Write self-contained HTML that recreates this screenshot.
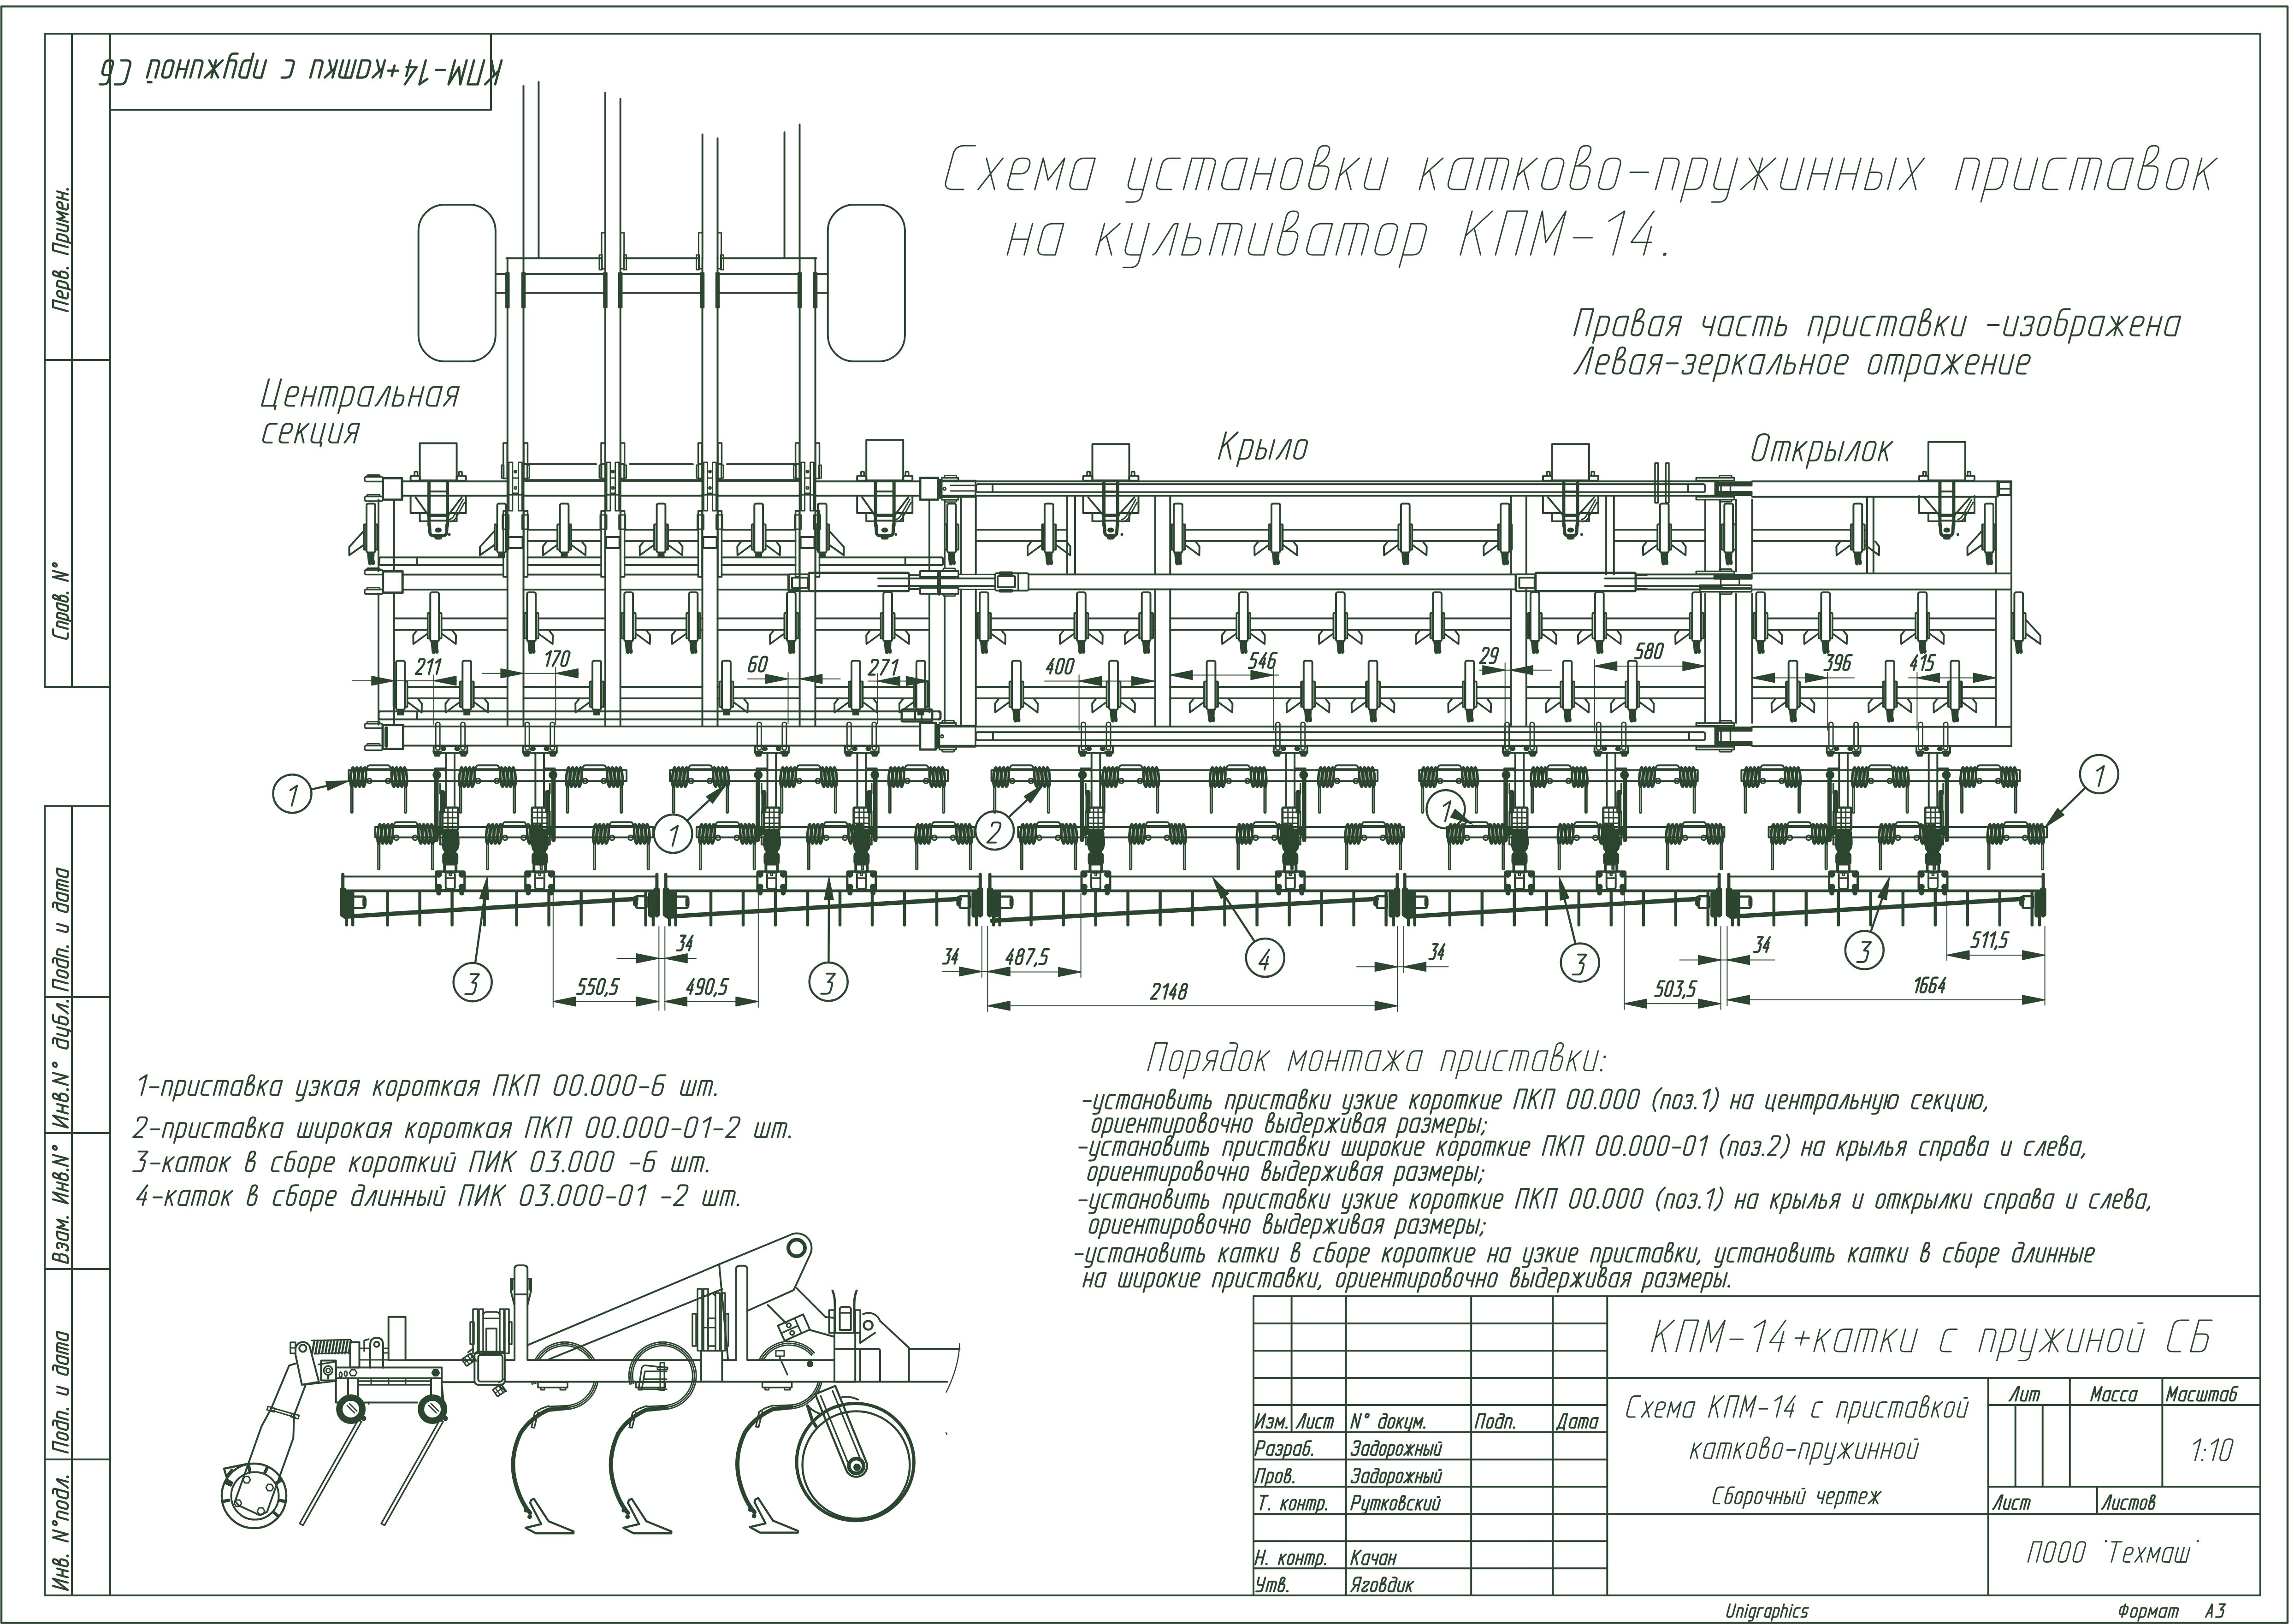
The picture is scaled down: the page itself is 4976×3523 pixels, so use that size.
<!DOCTYPE html>
<html><head><meta charset="utf-8"><title>KPM-14</title>
<style>
html,body{margin:0;padding:0;background:#fff}
svg{display:block}
svg path,svg rect,svg circle,svg ellipse,svg polyline,svg line{fill:none;stroke:#2c452e;stroke-linecap:round;stroke-linejoin:round}
svg defs path[id^=g]{vector-effect:non-scaling-stroke}
svg text{font-family:"Liberation Sans",sans-serif;font-style:italic;fill:#2c452e;stroke:none}
</style></head><body>
<svg width="4976" height="3523" viewBox="0 0 4976 3523">
<defs>
<g id="tb"><rect x="-9.4" y="0" width="18.8" height="106" rx="3.5" stroke-width="4"/><rect x="-15" y="45" width="4.6" height="55" rx="1.5" stroke-width="3.8"/><rect x="10.4" y="45" width="4.6" height="55" rx="1.5" stroke-width="3.8"/></g>
<path id="tt" d="M-7 106L6.5 106L6 121L7.5 128Q7.5 132 4 131.5L1.5 129.5L-1 132.5Q-4.5 132.5 -5 127.5Z" style="fill:#2c452e" stroke-width="3"/>
<path id="ts" d="M-6 106L6 106L6 117L-6 117Z" style="fill:#2c452e" stroke-width="3"/>
<path id="wl" d="M-38 82L-46.4 93L-46 112L-16 90" stroke-width="4"/>
<path id="wr" d="M38 82L46.4 93L46 112L16 90" stroke-width="4"/>
<path id="wlf" d="M-16 60L-47 94L-47 112L-16 90" stroke-width="4"/>
<path id="wrf" d="M16 60L47 94L47 112L16 90" stroke-width="4"/>
<g id="su"><ellipse cx="-31.5" cy="15" rx="3.6" ry="21" stroke-width="5.5" transform="rotate(4 -31.5 15)"/><ellipse cx="-40.1" cy="15" rx="3.6" ry="21" stroke-width="5.5" transform="rotate(4 -40.1 15)"/><ellipse cx="-48.7" cy="15" rx="3.6" ry="21" stroke-width="5.5" transform="rotate(4 -48.7 15)"/><ellipse cx="-57.3" cy="15" rx="3.6" ry="21" stroke-width="5.5" transform="rotate(4 -57.3 15)"/><ellipse cx="31.5" cy="15" rx="3.6" ry="21" stroke-width="5.5" transform="rotate(-4 31.5 15)"/><ellipse cx="40.1" cy="15" rx="3.6" ry="21" stroke-width="5.5" transform="rotate(-4 40.1 15)"/><ellipse cx="48.7" cy="15" rx="3.6" ry="21" stroke-width="5.5" transform="rotate(-4 48.7 15)"/><ellipse cx="57.3" cy="15" rx="3.6" ry="21" stroke-width="5.5" transform="rotate(-4 57.3 15)"/><rect x="-60.2" y="24" width="3.8" height="68.5" rx="1.9" stroke-width="3.2"/><rect x="56.4" y="24" width="3.8" height="68.5" rx="1.9" stroke-width="3.2"/><path d="M-28 -1L-23 -9.5Q-22 -10.5 -20 -10.5L20 -10.5Q22 -10.5 23 -9.5L28 -1" stroke-width="4"/><path d="M-24 -2.5L24 -2.5" stroke-width="3.5"/><circle cx="-20.3" cy="23.4" r="5.2" stroke-width="3.5"/><circle cx="20.3" cy="23.4" r="5.2" stroke-width="3.5"/></g>
<path id="g22" d="M0.55 -14.25l0.5 0l0 -0.5l-0.5 0Z"/>
<path id="g28" d="M3 -15L1.5 -13Q0 -11 0 -8.5L0 -4.5Q0 -2 1.5 0L3 2"/>
<path id="g29" d="M0 -15L1.5 -13Q3 -11 3 -8.5L3 -4.5Q3 -2 1.5 0L0 2"/>
<path id="g2b" d="M0 -6L6 -6M3 -3L3 -9"/>
<path id="g2c" d="M1 -0.8L1 -0.4Q1 0 0.82 0.36L0 2"/>
<path id="g2d" d="M0 -5.5L5.5 -5.5"/>
<path id="g2e" d="M0.25 0.04999999999999999l0.5 0l0 -0.5l-0.5 0Z"/>
<path id="g30" d="M2.7 0L3.3 0Q6 0 6 -2.7L6 -11.3Q6 -14 3.3 -14L2.7 -14Q0 -14 0 -11.3L0 -2.7Q0 0 2.7 0Z"/>
<path id="g31" d="M0 -10.8L3.9 -14L3.9 0"/>
<path id="g32" d="M0 -11.5L0 -12.75Q0 -14 1.25 -14L3.75 -14Q6 -14 6 -11.75L6 -10.5Q6 -8.5 4.85 -6.87L0 0L6 0"/>
<path id="g33" d="M0 -14L5.7 -14Q6 -14 5.85 -13.74L2.72 -8.26Q2.57 -8 2.87 -8L4.29 -8Q6 -8 6 -6.29L6 -2.25Q6 0 3.75 0L0 0"/>
<path id="g34" d="M4.29 -14L0 -4L6 -4M4.71 -9L4.71 0"/>
<path id="g35" d="M6 -14L1.06 -14Q0.86 -14 0.83 -13.8L0.03 -8.2Q0 -8 0.2 -8L3.75 -8Q6 -8 6 -5.75L6 -2.25Q6 0 3.75 0L0 0"/>
<path id="g36" d="M5.57 -14L2.25 -14Q0 -14 0 -11.75L0 -2.25Q0 0 2.25 0L3.75 0Q6 0 6 -2.25L6 -5.75Q6 -8 3.75 -8L0 -8"/>
<path id="g37" d="M0 -14L5.7 -14Q6 -14 5.91 -13.71L1.71 0"/>
<path id="g38" d="M2.68 -8L3.32 -8Q5.57 -8 5.57 -10.25L5.57 -11.75Q5.57 -14 3.32 -14L2.68 -14Q0.43 -14 0.43 -11.75L0.43 -10.25Q0.43 -8 2.68 -8ZM2.25 0L3.75 0Q6 0 6 -2.25L6 -5.75Q6 -8 3.75 -8L2.25 -8Q0 -8 0 -5.75L0 -2.25Q0 0 2.25 0Z"/>
<path id="g39" d="M0.43 0L3.75 0Q6 0 6 -2.25L6 -11.75Q6 -14 3.75 -14L2.25 -14Q0 -14 0 -11.75L0 -8.25Q0 -6 2.25 -6L6 -6"/>
<path id="g3a" d="M0.25 0.04999999999999999l0.5 0l0 -0.5l-0.5 0ZM0.25 -6.75l0.5 0l0 -0.5l-0.5 0Z"/>
<path id="g3b" d="M1 -0.8L1 -0.4Q1 0 0.82 0.36L0 2M0.75 -6.75l0.5 0l0 -0.5l-0.5 0Z"/>
<path id="g4e" d="M0 0L0 -14L6 0L6 -14"/>
<path id="g55" d="M0 -14L0 -2.7Q0 0 2.7 0L3.3 0Q6 0 6 -2.7L6 -14"/>
<path id="g61" d="M5 -10L2.19 -10Q0 -10 0 -7.81L0 -2.19Q0 0 2.19 0L5 0M5 -10L5 0"/>
<path id="g63" d="M5 -10L2.19 -10Q0 -10 0 -7.81L0 -2.19Q0 0 2.19 0L5 0"/>
<path id="g67" d="M5 -10L2.19 -10Q0 -10 0 -7.81L0 -2.19Q0 0 2.19 0L5 0M5 -10L5 1.92Q5 4 2.92 4L0.83 4"/>
<path id="g68" d="M0 0L0 -14M0 -10L2.81 -10Q5 -10 5 -7.81L5 0"/>
<path id="g69" d="M0.42 0L0.42 -10M0.25 -12.75l0.5 0l0 -0.5l-0.5 0Z"/>
<path id="g6e" d="M0 0L0 -10L2.81 -10Q5 -10 5 -7.81L5 0"/>
<path id="g70" d="M0 4L0 -10L2.81 -10Q5 -10 5 -7.81L5 -2.19Q5 0 2.81 0L0 0"/>
<path id="g72" d="M0 0L0 -10M0 -7.5L0 -8.75Q0 -10 1.25 -10L4.17 -10"/>
<path id="g73" d="M5 -10L1.75 -10Q0 -10 0 -8.25L0 -6.75Q0 -5 1.75 -5L3.25 -5Q5 -5 5 -3.25L5 -1.75Q5 0 3.25 0L0 0"/>
<path id="gb0" d="M2 -10.5L2 -10.5Q3.5 -10.5 3.5 -12L3.5 -12.5Q3.5 -14 2 -14L2 -14Q0.5 -14 0.5 -12.5L0.5 -12Q0.5 -10.5 2 -10.5Z"/>
<path id="g410" d="M0 0L3 -14L6 0M1.03 -4.5L4.97 -4.5"/>
<path id="g411" d="M5.57 -14L0 -14L0 0L3.75 0Q6 0 6 -2.25L6 -5.55Q6 -7.8 3.75 -7.8L0 -7.8"/>
<path id="g412" d="M0 -7.8L3.75 -7.8Q6 -7.8 6 -5.55L6 -2.25Q6 0 3.75 0L0 0L0 -14L2.77 -14Q4.97 -14 4.97 -11.8L4.97 -7.8"/>
<path id="g414" d="M0 2L0 0L7 0L7 2M0.88 0L2.62 -14L6.12 -14L6.12 0"/>
<path id="g417" d="M0 -12L0 -13Q0 -14 1 -14L3.75 -14Q6 -14 6 -11.75L6 -9.73Q6 -7.8 4.07 -7.8L2.14 -7.8M2.14 -7.8L4.07 -7.8Q6 -7.8 6 -5.87L6 -2.25Q6 0 3.75 0L1 0Q0 0 0 -1L0 -2"/>
<path id="g418" d="M0 -14L0 0L6 -14L6 0"/>
<path id="g41a" d="M0 0L0 -14M6 -14L0 -6M1.97 -8.6L6 0"/>
<path id="g41b" d="M0 0L0.43 -0.4Q0.86 -0.8 1.02 -1.36L4.44 -13.34Q4.63 -14 5.31 -14L6 -14L6 0"/>
<path id="g41c" d="M0 0L0 -14L3.5 -4L7 -14L7 0"/>
<path id="g41d" d="M0 0L0 -14M6 0L6 -14M0 -7L6 -7"/>
<path id="g41e" d="M2.7 0L3.3 0Q6 0 6 -2.7L6 -11.3Q6 -14 3.3 -14L2.7 -14Q0 -14 0 -11.3L0 -2.7Q0 0 2.7 0Z"/>
<path id="g41f" d="M0 0L0 -14L6 -14L6 0"/>
<path id="g420" d="M0 0L0 -14L3.75 -14Q6 -14 6 -11.75L6 -8.75Q6 -6.5 3.75 -6.5L0 -6.5"/>
<path id="g421" d="M6 -14L2.7 -14Q0 -14 0 -11.3L0 -2.7Q0 0 2.7 0L6 0"/>
<path id="g422" d="M0 -14L7 -14M3.5 -14L3.5 0"/>
<path id="g423" d="M0 -14L0 -8.75Q0 -6.5 2.25 -6.5L6 -6.5M6 -14L6 -2.25Q6 0 3.75 0L0.86 0"/>
<path id="g424" d="M3.5 0L3.5 -14M2.3 -3L4.7 -3Q7 -3 7 -5.3L7 -9.2Q7 -11.5 4.7 -11.5L2.3 -11.5Q0 -11.5 0 -9.2L0 -5.3Q0 -3 2.3 -3Z"/>
<path id="g426" d="M0 -14L0 0L7 0L7 2M6.12 -14L6.12 0"/>
<path id="g42f" d="M6 -6.5L2.25 -6.5Q0 -6.5 0 -8.75L0 -11.75Q0 -14 2.25 -14L6 -14M6 -14L6 0M3 -6.5L0 0"/>
<path id="g430" d="M5.6 -10L2.45 -10Q0 -10 0 -7.55L0 -2.45Q0 0 2.45 0L5.6 0M5.6 -10L5.6 0"/>
<path id="g431" d="M4.58 -14L2.19 -14Q0 -14 0 -11.81L0 -2.19Q0 0 2.19 0L2.81 0Q5 0 5 -2.19L5 -6.31Q5 -8.5 2.81 -8.5L0 -8.5"/>
<path id="g432" d="M0 -7.5L2.81 -7.5Q5 -7.5 5 -5.31L5 -2.19Q5 0 2.81 0L2.19 0Q0 0 0 -2.19L0 -12.25Q0 -14 1.75 -14L1.75 -14Q3.5 -14 3.5 -12.25L3.5 -11.8Q3.5 -10 2.19 -8.77L0.83 -7.5"/>
<path id="g433" d="M0 -8L0 -9Q0 -10 1 -10L3.33 -10Q4.58 -10 4.58 -8.75L4.58 -8.5Q4.58 -7.5 3.91 -6.76L0.68 -3.24Q0 -2.5 0 -1.5L0 -1.25Q0 0 1.25 0L3.58 0Q4.58 0 4.58 -1L4.58 -2"/>
<path id="g434" d="M5.6 -10L2.45 -10Q0 -10 0 -7.55L0 -2.45Q0 0 2.45 0L5.6 0M5.6 0L5.6 -11.9Q5.6 -14 3.5 -14L1.4 -14"/>
<path id="g435" d="M0 -5L2.81 -5Q5 -5 5 -7.19L5 -7.81Q5 -10 2.81 -10L2.19 -10Q0 -10 0 -7.81L0 -2.19Q0 0 2.19 0L5 0"/>
<path id="g436" d="M0 -10L4 -5L0 0M8 -10L4 -5L8 0M4 0L4 -10"/>
<path id="g437" d="M0 -8.5L0 -9.25Q0 -10 0.75 -10L2.83 -10Q4.58 -10 4.58 -8.25L4.58 -6.76Q4.58 -5.3 3.13 -5.3L1.67 -5.3M1.67 -5.3L3.13 -5.3Q4.58 -5.3 4.58 -3.84L4.58 -1.75Q4.58 0 2.83 0L0.75 0Q0 0 0 -0.75L0 -1.5"/>
<path id="g438" d="M0 -10L0 -2.19Q0 0 2.19 0L5 0M5 -10L5 0"/>
<path id="g439" d="M0 -10L0 -2.19Q0 0 2.19 0L5 0M5 -10L5 0M1.67 -12.7L3.75 -12.7"/>
<path id="g43a" d="M0 0L0 -10M4.58 -10L0 -4.3M1.5 -6.2L4.58 0"/>
<path id="g43b" d="M0 0L0.33 -0.3Q0.67 -0.6 0.81 -1.02L3.65 -9.45Q3.83 -10 4.42 -10L5 -10L5 0"/>
<path id="g43c" d="M0 0L0 -10L3.25 -3L6.5 -10L6.5 0"/>
<path id="g43d" d="M0 0L0 -10M5 0L5 -10M0 -5L5 -5"/>
<path id="g43e" d="M2.19 0L2.81 0Q5 0 5 -2.19L5 -7.81Q5 -10 2.81 -10L2.19 -10Q0 -10 0 -7.81L0 -2.19Q0 0 2.19 0Z"/>
<path id="g43f" d="M0 0L0 -10L2.81 -10Q5 -10 5 -7.81L5 0"/>
<path id="g440" d="M0 4L0 -10L2.81 -10Q5 -10 5 -7.81L5 -2.19Q5 0 2.81 0L0 0"/>
<path id="g441" d="M5 -10L2.19 -10Q0 -10 0 -7.81L0 -2.19Q0 0 2.19 0L5 0"/>
<path id="g442" d="M0 0L0 -10L5.5 -10Q7.5 -10 7.5 -8L7.5 0M3.75 -10L3.75 0"/>
<path id="g443" d="M0 -10L0 -2.19Q0 0 2.19 0L5 0M5 -10L5 1.92Q5 4 2.92 4L0.83 4"/>
<path id="g445" d="M0 0L5 -10M0 -10L5 0"/>
<path id="g446" d="M0 -10L0 -2.19Q0 0 2.19 0L5.83 0L5.83 2M5 -10L5 0"/>
<path id="g447" d="M0 -10L0 -6.69Q0 -4.5 2.19 -4.5L5 -4.5M5 -10L5 0"/>
<path id="g448" d="M0 -10L0 -2Q0 0 2 0L8 0L8 -10M4 -10L4 0"/>
<path id="g44b" d="M0 -10L0 0L2.23 0Q4.18 0 4.18 -1.95L4.18 -3.55Q4.18 -5.5 2.23 -5.5L0 -5.5M6.96 -10L6.96 0"/>
<path id="g44c" d="M0 -10L0 0L2.83 0Q4.58 0 4.58 -1.75L4.58 -3.75Q4.58 -5.5 2.83 -5.5L0 -5.5"/>
<path id="g44e" d="M0 0L0 -10M0 -5L2.5 -5M5 0L6 0Q8.5 0 8.5 -2.5L8.5 -7.5Q8.5 -10 6 -10L5 -10Q2.5 -10 2.5 -7.5L2.5 -2.5Q2.5 0 5 0Z"/>
<path id="g44f" d="M5 -5L2.44 -5Q0.25 -5 0.25 -7.19L0.25 -7.81Q0.25 -10 2.44 -10L5 -10M5 -10L5 0M2.5 -5L0 0"/>
</defs>
<rect x="3" y="14" width="4959" height="3506.5" stroke-width="4.5"/>
<path d="M97 73L4903 73" stroke-width="4"/>
<path d="M97 3461L4903 3461" stroke-width="4"/>
<path d="M4903 73L4903 3461" stroke-width="4"/>
<path d="M97 73L97 1490" stroke-width="4"/>
<path d="M97 1749L97 3461" stroke-width="4"/>
<path d="M239 73L239 3461" stroke-width="4"/>
<path d="M156 73L156 1490" stroke-width="4"/>
<path d="M97 781L239 781" stroke-width="4"/>
<path d="M97 1490L239 1490" stroke-width="4"/>
<path d="M156 1749L156 3461" stroke-width="4"/>
<path d="M97 1749L239 1749" stroke-width="4"/>
<path d="M97 2163L239 2163" stroke-width="4"/>
<path d="M97 2458L239 2458" stroke-width="4"/>
<path d="M97 2753L239 2753" stroke-width="4"/>
<path d="M97 3166L239 3166" stroke-width="4"/>
<path d="M239 238L1065 238" stroke-width="4"/>
<path d="M1065 73L1065 238" stroke-width="4"/>
<path d="M2719 2812L4903 2812" stroke-width="4"/>
<path d="M2719 2812L2719 3461" stroke-width="4"/>
<path d="M2801.6 2812L2801.6 3107.1" stroke-width="4"/>
<path d="M2919.7 2812L2919.7 3461" stroke-width="4"/>
<path d="M3191.2 2812L3191.2 3461" stroke-width="4"/>
<path d="M3368.3 2812L3368.3 3461" stroke-width="4"/>
<path d="M3486.3 2812L3486.3 3461" stroke-width="4"/>
<path d="M2719 2871L3486.3 2871" stroke-width="4"/>
<path d="M2719 2930.1L3486.3 2930.1" stroke-width="4"/>
<path d="M2719 2989.1L3486.3 2989.1" stroke-width="4"/>
<path d="M2719 3048.1L3486.3 3048.1" stroke-width="4"/>
<path d="M2719 3107.1L3486.3 3107.1" stroke-width="4"/>
<path d="M2719 3166.2L3486.3 3166.2" stroke-width="4"/>
<path d="M2719 3225.2L3486.3 3225.2" stroke-width="4"/>
<path d="M2719 3284.2L3486.3 3284.2" stroke-width="4"/>
<path d="M2719 3343.2L3486.3 3343.2" stroke-width="4"/>
<path d="M2719 3402.2L3486.3 3402.2" stroke-width="4"/>
<path d="M4312.7 2989.1L4312.7 3461" stroke-width="4"/>
<path d="M3486.3 2989.1L4903 2989.1" stroke-width="4"/>
<path d="M3486.3 3284.2L4903 3284.2" stroke-width="4"/>
<path d="M4312.7 3048.1L4903 3048.1" stroke-width="4"/>
<path d="M4312.7 3225.2L4903 3225.2" stroke-width="4"/>
<path d="M4371.7 3048.1L4371.7 3225.2" stroke-width="4"/>
<path d="M4430.7 3048.1L4430.7 3225.2" stroke-width="4"/>
<path d="M4489.8 2989.1L4489.8 3225.2" stroke-width="4"/>
<path d="M4690.4 2989.1L4690.4 3225.2" stroke-width="4"/>
<path d="M4548.8 3225.2L4548.8 3284.2" stroke-width="4"/>
<g class="t" transform="translate(1088 131) rotate(180) matrix(3.6375 0 -0.9954 3.7143 0 0)" stroke-width="5"><use href="#g41a" x="0"/><use href="#g41f" x="10.4"/><use href="#g41c" x="20.8"/><use href="#g2d" x="32.2"/><use href="#g31" x="41.3"/><use href="#g34" x="49.6"/><use href="#g2b" x="60"/><use href="#g43a" x="69.6"/><use href="#g430" x="77.8"/><use href="#g442" x="87"/><use href="#g43a" x="98.1"/><use href="#g438" x="106.3"/><use href="#g441" x="123.4"/><use href="#g43f" x="140.5"/><use href="#g440" x="149.1"/><use href="#g443" x="157.7"/><use href="#g436" x="166.3"/><use href="#g438" x="177.9"/><use href="#g43d" x="186.5"/><use href="#g43e" x="195.1"/><use href="#g439" x="203.7"/><use href="#g421" x="220.8"/><use href="#g431" x="231.2"/></g>
<g class="t" transform="matrix(7.1659 0 -1.8186 6.7857 2047 411)" stroke-width="3"><use href="#g421" x="0"/><use href="#g445" x="10.4"/><use href="#g435" x="19"/><use href="#g43c" x="27.6"/><use href="#g430" x="37.7"/><use href="#g443" x="55.4"/><use href="#g441" x="64"/><use href="#g442" x="72.6"/><use href="#g430" x="83.7"/><use href="#g43d" x="92.9"/><use href="#g43e" x="101.5"/><use href="#g432" x="110.1"/><use href="#g43a" x="118.7"/><use href="#g438" x="126.9"/><use href="#g43a" x="144"/><use href="#g430" x="152.2"/><use href="#g442" x="161.4"/><use href="#g43a" x="172.5"/><use href="#g43e" x="180.6"/><use href="#g432" x="189.2"/><use href="#g43e" x="197.8"/><use href="#g2d" x="206.4"/><use href="#g43f" x="215.5"/><use href="#g440" x="224.1"/><use href="#g443" x="232.7"/><use href="#g436" x="241.3"/><use href="#g438" x="252.9"/><use href="#g43d" x="261.5"/><use href="#g43d" x="270.1"/><use href="#g44b" x="278.8"/><use href="#g445" x="289.3"/><use href="#g43f" x="306.4"/><use href="#g440" x="315"/><use href="#g438" x="323.6"/><use href="#g441" x="332.2"/><use href="#g442" x="340.8"/><use href="#g430" x="351.9"/><use href="#g432" x="361.1"/><use href="#g43e" x="369.7"/><use href="#g43a" x="378.3"/></g>
<g class="t" transform="matrix(7.3229 0 -1.8186 6.7857 2185 553)" stroke-width="3"><use href="#g43d" x="0"/><use href="#g430" x="8.6"/><use href="#g43a" x="26.3"/><use href="#g443" x="34.5"/><use href="#g43b" x="43.1"/><use href="#g44c" x="51.7"/><use href="#g442" x="59.9"/><use href="#g438" x="71"/><use href="#g432" x="79.6"/><use href="#g430" x="88.2"/><use href="#g442" x="97.4"/><use href="#g43e" x="108.5"/><use href="#g440" x="117.1"/><use href="#g41a" x="134.2"/><use href="#g41f" x="144.6"/><use href="#g41c" x="155"/><use href="#g2d" x="166.4"/><use href="#g31" x="175.5"/><use href="#g34" x="183.8"/><use href="#g2e" x="194.2"/></g>
<g class="t" transform="matrix(4.3270 0 -1.0911 4.0714 3415 727.5)" stroke-width="4"><use href="#g41f" x="0"/><use href="#g440" x="10.4"/><use href="#g430" x="19"/><use href="#g432" x="28.2"/><use href="#g430" x="36.8"/><use href="#g44f" x="46"/><use href="#g447" x="63.1"/><use href="#g430" x="71.7"/><use href="#g441" x="80.9"/><use href="#g442" x="89.5"/><use href="#g44c" x="100.6"/><use href="#g43f" x="117.3"/><use href="#g440" x="125.9"/><use href="#g438" x="134.5"/><use href="#g441" x="143.1"/><use href="#g442" x="151.7"/><use href="#g430" x="162.8"/><use href="#g432" x="172"/><use href="#g43a" x="180.6"/><use href="#g438" x="188.8"/><use href="#g2d" x="205.9"/><use href="#g438" x="215"/><use href="#g437" x="223.6"/><use href="#g43e" x="231.7"/><use href="#g431" x="240.3"/><use href="#g440" x="248.9"/><use href="#g430" x="257.5"/><use href="#g436" x="266.7"/><use href="#g435" x="278.3"/><use href="#g43d" x="286.9"/><use href="#g430" x="295.6"/></g>
<g class="t" transform="matrix(4.2895 0 -1.0911 4.0714 3415 810.6)" stroke-width="4"><use href="#g41b" x="0"/><use href="#g435" x="10.4"/><use href="#g432" x="19"/><use href="#g430" x="27.6"/><use href="#g44f" x="36.8"/><use href="#g2d" x="45.4"/><use href="#g437" x="54.5"/><use href="#g435" x="62.7"/><use href="#g440" x="71.3"/><use href="#g43a" x="79.9"/><use href="#g430" x="88.1"/><use href="#g43b" x="97.3"/><use href="#g44c" x="105.9"/><use href="#g43d" x="114"/><use href="#g43e" x="122.6"/><use href="#g435" x="131.2"/><use href="#g43e" x="148.3"/><use href="#g442" x="156.9"/><use href="#g440" x="168"/><use href="#g430" x="176.6"/><use href="#g436" x="185.8"/><use href="#g435" x="197.4"/><use href="#g43d" x="206"/><use href="#g438" x="214.6"/><use href="#g435" x="223.2"/></g>
<g class="t" transform="matrix(4.2185 0 -1.0911 4.0714 2644 995)" stroke-width="4"><use href="#g41a" x="0"/><use href="#g440" x="10.4"/><use href="#g44b" x="19"/><use href="#g43b" x="29.6"/><use href="#g43e" x="38.2"/></g>
<g class="t" transform="matrix(4.1779 0 -1.0911 4.0714 3799 999)" stroke-width="4"><use href="#g41e" x="0"/><use href="#g442" x="10.4"/><use href="#g43a" x="21.5"/><use href="#g440" x="29.7"/><use href="#g44b" x="38.3"/><use href="#g43b" x="48.8"/><use href="#g43e" x="57.4"/><use href="#g43a" x="66"/></g>
<g class="t" transform="matrix(4.2859 0 -1.0911 4.0714 568 880)" stroke-width="4"><use href="#g426" x="0"/><use href="#g435" x="11.4"/><use href="#g43d" x="20"/><use href="#g442" x="28.6"/><use href="#g440" x="39.7"/><use href="#g430" x="48.3"/><use href="#g43b" x="57.5"/><use href="#g44c" x="66.1"/><use href="#g43d" x="74.3"/><use href="#g430" x="82.9"/><use href="#g44f" x="92.1"/></g>
<g class="t" transform="matrix(4.1120 0 -1.0911 4.0714 569 960)" stroke-width="4"><use href="#g441" x="0"/><use href="#g435" x="8.6"/><use href="#g43a" x="17.2"/><use href="#g446" x="25.4"/><use href="#g438" x="34.8"/><use href="#g44f" x="43.4"/></g>
<g class="t" transform="matrix(3.2721 0 -0.8231 3.0714 294 2375.4)" stroke-width="4"><use href="#g31" x="0"/><use href="#g2d" x="8.3"/><use href="#g43f" x="17.4"/><use href="#g440" x="26"/><use href="#g438" x="34.6"/><use href="#g441" x="43.2"/><use href="#g442" x="51.8"/><use href="#g430" x="62.9"/><use href="#g432" x="72.1"/><use href="#g43a" x="80.7"/><use href="#g430" x="88.9"/><use href="#g443" x="106.6"/><use href="#g437" x="115.2"/><use href="#g43a" x="123.4"/><use href="#g430" x="131.6"/><use href="#g44f" x="140.8"/><use href="#g43a" x="157.8"/><use href="#g43e" x="166"/><use href="#g440" x="174.6"/><use href="#g43e" x="183.2"/><use href="#g442" x="191.8"/><use href="#g43a" x="202.9"/><use href="#g430" x="211.1"/><use href="#g44f" x="220.3"/><use href="#g41f" x="237.4"/><use href="#g41a" x="247.8"/><use href="#g41f" x="258.2"/><use href="#g30" x="277.1"/><use href="#g30" x="287.5"/><use href="#g2e" x="297.9"/><use href="#g30" x="301.9"/><use href="#g30" x="312.3"/><use href="#g30" x="322.7"/><use href="#g2d" x="333.1"/><use href="#g36" x="342.2"/><use href="#g448" x="361.1"/><use href="#g442" x="372.7"/><use href="#g2e" x="383.8"/></g>
<g class="t" transform="matrix(3.2738 0 -0.8231 3.0714 289 2467)" stroke-width="4"><use href="#g32" x="0"/><use href="#g2d" x="10.4"/><use href="#g43f" x="19.5"/><use href="#g440" x="28.1"/><use href="#g438" x="36.7"/><use href="#g441" x="45.3"/><use href="#g442" x="53.9"/><use href="#g430" x="65"/><use href="#g432" x="74.2"/><use href="#g43a" x="82.8"/><use href="#g430" x="91"/><use href="#g448" x="108.7"/><use href="#g438" x="120.3"/><use href="#g440" x="128.9"/><use href="#g43e" x="137.5"/><use href="#g43a" x="146.1"/><use href="#g430" x="154.3"/><use href="#g44f" x="163.5"/><use href="#g43a" x="180.6"/><use href="#g43e" x="188.7"/><use href="#g440" x="197.3"/><use href="#g43e" x="205.9"/><use href="#g442" x="214.5"/><use href="#g43a" x="225.6"/><use href="#g430" x="233.8"/><use href="#g44f" x="243"/><use href="#g41f" x="260.1"/><use href="#g41a" x="270.5"/><use href="#g41f" x="280.9"/><use href="#g30" x="299.8"/><use href="#g30" x="310.2"/><use href="#g2e" x="320.6"/><use href="#g30" x="324.6"/><use href="#g30" x="335"/><use href="#g30" x="345.4"/><use href="#g2d" x="355.8"/><use href="#g30" x="364.9"/><use href="#g31" x="375.3"/><use href="#g2d" x="383.6"/><use href="#g32" x="392.7"/><use href="#g448" x="411.6"/><use href="#g442" x="423.2"/><use href="#g2e" x="434.3"/></g>
<g class="t" transform="matrix(3.3078 0 -0.8231 3.0714 289 2541)" stroke-width="4"><use href="#g33" x="0"/><use href="#g2d" x="10.4"/><use href="#g43a" x="19.5"/><use href="#g430" x="27.7"/><use href="#g442" x="36.9"/><use href="#g43e" x="48"/><use href="#g43a" x="56.6"/><use href="#g432" x="73.3"/><use href="#g441" x="90.4"/><use href="#g431" x="99"/><use href="#g43e" x="107.6"/><use href="#g440" x="116.2"/><use href="#g435" x="124.8"/><use href="#g43a" x="141.9"/><use href="#g43e" x="150"/><use href="#g440" x="158.6"/><use href="#g43e" x="167.2"/><use href="#g442" x="175.8"/><use href="#g43a" x="186.9"/><use href="#g438" x="195.1"/><use href="#g439" x="203.7"/><use href="#g41f" x="220.8"/><use href="#g418" x="231.2"/><use href="#g41a" x="241.6"/><use href="#g30" x="260.5"/><use href="#g33" x="270.9"/><use href="#g2e" x="281.3"/><use href="#g30" x="285.3"/><use href="#g30" x="295.7"/><use href="#g30" x="306.1"/><use href="#g2d" x="325"/><use href="#g36" x="334.1"/><use href="#g448" x="353"/><use href="#g442" x="364.6"/><use href="#g2e" x="375.7"/></g>
<g class="t" transform="matrix(3.2966 0 -0.8231 3.0714 294 2614.3)" stroke-width="4"><use href="#g34" x="0"/><use href="#g2d" x="10.4"/><use href="#g43a" x="19.5"/><use href="#g430" x="27.7"/><use href="#g442" x="36.9"/><use href="#g43e" x="48"/><use href="#g43a" x="56.6"/><use href="#g432" x="73.3"/><use href="#g441" x="90.4"/><use href="#g431" x="99"/><use href="#g43e" x="107.6"/><use href="#g440" x="116.2"/><use href="#g435" x="124.8"/><use href="#g434" x="141.9"/><use href="#g43b" x="151.1"/><use href="#g438" x="159.7"/><use href="#g43d" x="168.3"/><use href="#g43d" x="176.9"/><use href="#g44b" x="185.5"/><use href="#g439" x="196"/><use href="#g41f" x="213.1"/><use href="#g418" x="223.5"/><use href="#g41a" x="233.9"/><use href="#g30" x="252.8"/><use href="#g33" x="263.2"/><use href="#g2e" x="273.6"/><use href="#g30" x="277.6"/><use href="#g30" x="288"/><use href="#g30" x="298.4"/><use href="#g2d" x="308.8"/><use href="#g30" x="317.9"/><use href="#g31" x="328.3"/><use href="#g2d" x="345.1"/><use href="#g32" x="354.2"/><use href="#g448" x="373.1"/><use href="#g442" x="384.7"/><use href="#g2e" x="395.8"/></g>
<g class="t" transform="matrix(4.3069 0 -1.1486 4.2857 2490 2322.6)" stroke-width="3"><use href="#g41f" x="0"/><use href="#g43e" x="10.4"/><use href="#g440" x="19"/><use href="#g44f" x="27.6"/><use href="#g434" x="36.2"/><use href="#g43e" x="45.4"/><use href="#g43a" x="54"/><use href="#g43c" x="70.7"/><use href="#g43e" x="80.8"/><use href="#g43d" x="89.4"/><use href="#g442" x="98"/><use href="#g430" x="109.1"/><use href="#g436" x="118.3"/><use href="#g430" x="129.9"/><use href="#g43f" x="147.6"/><use href="#g440" x="156.2"/><use href="#g438" x="164.8"/><use href="#g441" x="173.4"/><use href="#g442" x="182"/><use href="#g430" x="193.1"/><use href="#g432" x="202.3"/><use href="#g43a" x="210.9"/><use href="#g438" x="219.1"/><use href="#g3a" x="227.7"/></g>
<g class="t" transform="matrix(2.8701 0 -0.7849 2.9286 2346 2404.4)" stroke-width="4"><use href="#g2d" x="0"/><use href="#g443" x="9.1"/><use href="#g441" x="17.7"/><use href="#g442" x="26.3"/><use href="#g430" x="37.4"/><use href="#g43d" x="46.6"/><use href="#g43e" x="55.2"/><use href="#g432" x="63.8"/><use href="#g438" x="72.4"/><use href="#g442" x="81"/><use href="#g44c" x="92.1"/><use href="#g43f" x="108.8"/><use href="#g440" x="117.4"/><use href="#g438" x="126"/><use href="#g441" x="134.6"/><use href="#g442" x="143.2"/><use href="#g430" x="154.3"/><use href="#g432" x="163.5"/><use href="#g43a" x="172.1"/><use href="#g438" x="180.3"/><use href="#g443" x="197.4"/><use href="#g437" x="206"/><use href="#g43a" x="214.1"/><use href="#g438" x="222.3"/><use href="#g435" x="230.9"/><use href="#g43a" x="248"/><use href="#g43e" x="256.2"/><use href="#g440" x="264.8"/><use href="#g43e" x="273.4"/><use href="#g442" x="282"/><use href="#g43a" x="293.1"/><use href="#g438" x="301.3"/><use href="#g435" x="309.9"/><use href="#g41f" x="327"/><use href="#g41a" x="337.4"/><use href="#g41f" x="347.8"/><use href="#g30" x="366.7"/><use href="#g30" x="377.1"/><use href="#g2e" x="387.5"/><use href="#g30" x="391.5"/><use href="#g30" x="401.9"/><use href="#g30" x="412.3"/><use href="#g28" x="431.2"/><use href="#g43f" x="437.8"/><use href="#g43e" x="446.4"/><use href="#g437" x="455"/><use href="#g2e" x="463.2"/><use href="#g31" x="467.2"/><use href="#g29" x="475.5"/><use href="#g43d" x="490.6"/><use href="#g430" x="499.2"/><use href="#g446" x="516.9"/><use href="#g435" x="526.3"/><use href="#g43d" x="534.9"/><use href="#g442" x="543.5"/><use href="#g440" x="554.6"/><use href="#g430" x="563.2"/><use href="#g43b" x="572.4"/><use href="#g44c" x="581"/><use href="#g43d" x="589.2"/><use href="#g443" x="597.8"/><use href="#g44e" x="606.4"/><use href="#g441" x="627"/><use href="#g435" x="635.6"/><use href="#g43a" x="644.2"/><use href="#g446" x="652.4"/><use href="#g438" x="661.8"/><use href="#g44e" x="670.4"/><use href="#g2c" x="682.5"/></g>
<g class="t" transform="matrix(2.8621 0 -0.7849 2.9286 2368 2455.6)" stroke-width="4"><use href="#g43e" x="0"/><use href="#g440" x="8.6"/><use href="#g438" x="17.2"/><use href="#g435" x="25.8"/><use href="#g43d" x="34.4"/><use href="#g442" x="43"/><use href="#g438" x="54.1"/><use href="#g440" x="62.7"/><use href="#g43e" x="71.3"/><use href="#g432" x="79.9"/><use href="#g43e" x="88.5"/><use href="#g447" x="97.1"/><use href="#g43d" x="105.7"/><use href="#g43e" x="114.3"/><use href="#g432" x="131.4"/><use href="#g44b" x="140"/><use href="#g434" x="150.6"/><use href="#g435" x="159.8"/><use href="#g440" x="168.4"/><use href="#g436" x="177"/><use href="#g438" x="188.6"/><use href="#g432" x="197.2"/><use href="#g430" x="205.8"/><use href="#g44f" x="215"/><use href="#g440" x="232.1"/><use href="#g430" x="240.7"/><use href="#g437" x="249.9"/><use href="#g43c" x="258"/><use href="#g435" x="268.1"/><use href="#g440" x="276.7"/><use href="#g44b" x="285.3"/><use href="#g3b" x="295.9"/></g>
<g class="t" transform="matrix(2.9040 0 -0.7849 2.9286 2337 2505.7)" stroke-width="4"><use href="#g2d" x="0"/><use href="#g443" x="9.1"/><use href="#g441" x="17.7"/><use href="#g442" x="26.3"/><use href="#g430" x="37.4"/><use href="#g43d" x="46.6"/><use href="#g43e" x="55.2"/><use href="#g432" x="63.8"/><use href="#g438" x="72.4"/><use href="#g442" x="81"/><use href="#g44c" x="92.1"/><use href="#g43f" x="108.8"/><use href="#g440" x="117.4"/><use href="#g438" x="126"/><use href="#g441" x="134.6"/><use href="#g442" x="143.2"/><use href="#g430" x="154.3"/><use href="#g432" x="163.5"/><use href="#g43a" x="172.1"/><use href="#g438" x="180.3"/><use href="#g448" x="197.4"/><use href="#g438" x="209"/><use href="#g440" x="217.6"/><use href="#g43e" x="226.2"/><use href="#g43a" x="234.8"/><use href="#g438" x="242.9"/><use href="#g435" x="251.5"/><use href="#g43a" x="268.6"/><use href="#g43e" x="276.8"/><use href="#g440" x="285.4"/><use href="#g43e" x="294"/><use href="#g442" x="302.6"/><use href="#g43a" x="313.7"/><use href="#g438" x="321.9"/><use href="#g435" x="330.5"/><use href="#g41f" x="347.6"/><use href="#g41a" x="358"/><use href="#g41f" x="368.4"/><use href="#g30" x="387.3"/><use href="#g30" x="397.7"/><use href="#g2e" x="408.1"/><use href="#g30" x="412.1"/><use href="#g30" x="422.5"/><use href="#g30" x="432.9"/><use href="#g2d" x="443.3"/><use href="#g30" x="452.4"/><use href="#g31" x="462.8"/><use href="#g28" x="479.6"/><use href="#g43f" x="486.2"/><use href="#g43e" x="494.8"/><use href="#g437" x="503.4"/><use href="#g2e" x="511.6"/><use href="#g32" x="515.6"/><use href="#g29" x="526"/><use href="#g43d" x="541.1"/><use href="#g430" x="549.7"/><use href="#g43a" x="567.4"/><use href="#g440" x="575.6"/><use href="#g44b" x="584.2"/><use href="#g43b" x="594.7"/><use href="#g44c" x="603.3"/><use href="#g44f" x="611.5"/><use href="#g441" x="628.6"/><use href="#g43f" x="637.2"/><use href="#g440" x="645.8"/><use href="#g430" x="654.4"/><use href="#g432" x="663.6"/><use href="#g430" x="672.2"/><use href="#g438" x="689.9"/><use href="#g441" x="707"/><use href="#g43b" x="715.6"/><use href="#g435" x="724.2"/><use href="#g432" x="732.8"/><use href="#g430" x="741.4"/><use href="#g2c" x="750.6"/></g>
<g class="t" transform="matrix(2.8722 0 -0.7849 2.9286 2359 2560)" stroke-width="4"><use href="#g43e" x="0"/><use href="#g440" x="8.6"/><use href="#g438" x="17.2"/><use href="#g435" x="25.8"/><use href="#g43d" x="34.4"/><use href="#g442" x="43"/><use href="#g438" x="54.1"/><use href="#g440" x="62.7"/><use href="#g43e" x="71.3"/><use href="#g432" x="79.9"/><use href="#g43e" x="88.5"/><use href="#g447" x="97.1"/><use href="#g43d" x="105.7"/><use href="#g43e" x="114.3"/><use href="#g432" x="131.4"/><use href="#g44b" x="140"/><use href="#g434" x="150.6"/><use href="#g435" x="159.8"/><use href="#g440" x="168.4"/><use href="#g436" x="177"/><use href="#g438" x="188.6"/><use href="#g432" x="197.2"/><use href="#g430" x="205.8"/><use href="#g44f" x="215"/><use href="#g440" x="232.1"/><use href="#g430" x="240.7"/><use href="#g437" x="249.9"/><use href="#g43c" x="258"/><use href="#g435" x="268.1"/><use href="#g440" x="276.7"/><use href="#g44b" x="285.3"/><use href="#g3b" x="295.9"/></g>
<g class="t" transform="matrix(2.9091 0 -0.7849 2.9286 2337 2620)" stroke-width="4"><use href="#g2d" x="0"/><use href="#g443" x="9.1"/><use href="#g441" x="17.7"/><use href="#g442" x="26.3"/><use href="#g430" x="37.4"/><use href="#g43d" x="46.6"/><use href="#g43e" x="55.2"/><use href="#g432" x="63.8"/><use href="#g438" x="72.4"/><use href="#g442" x="81"/><use href="#g44c" x="92.1"/><use href="#g43f" x="108.8"/><use href="#g440" x="117.4"/><use href="#g438" x="126"/><use href="#g441" x="134.6"/><use href="#g442" x="143.2"/><use href="#g430" x="154.3"/><use href="#g432" x="163.5"/><use href="#g43a" x="172.1"/><use href="#g438" x="180.3"/><use href="#g443" x="197.4"/><use href="#g437" x="206"/><use href="#g43a" x="214.1"/><use href="#g438" x="222.3"/><use href="#g435" x="230.9"/><use href="#g43a" x="248"/><use href="#g43e" x="256.2"/><use href="#g440" x="264.8"/><use href="#g43e" x="273.4"/><use href="#g442" x="282"/><use href="#g43a" x="293.1"/><use href="#g438" x="301.3"/><use href="#g435" x="309.9"/><use href="#g41f" x="327"/><use href="#g41a" x="337.4"/><use href="#g41f" x="347.8"/><use href="#g30" x="366.7"/><use href="#g30" x="377.1"/><use href="#g2e" x="387.5"/><use href="#g30" x="391.5"/><use href="#g30" x="401.9"/><use href="#g30" x="412.3"/><use href="#g28" x="431.2"/><use href="#g43f" x="437.8"/><use href="#g43e" x="446.4"/><use href="#g437" x="455"/><use href="#g2e" x="463.2"/><use href="#g31" x="467.2"/><use href="#g29" x="475.5"/><use href="#g43d" x="490.6"/><use href="#g430" x="499.2"/><use href="#g43a" x="516.9"/><use href="#g440" x="525.1"/><use href="#g44b" x="533.7"/><use href="#g43b" x="544.2"/><use href="#g44c" x="552.8"/><use href="#g44f" x="561"/><use href="#g438" x="578.1"/><use href="#g43e" x="595.2"/><use href="#g442" x="603.8"/><use href="#g43a" x="614.9"/><use href="#g440" x="623.1"/><use href="#g44b" x="631.7"/><use href="#g43b" x="642.3"/><use href="#g43a" x="650.9"/><use href="#g438" x="659"/><use href="#g441" x="676.1"/><use href="#g43f" x="684.7"/><use href="#g440" x="693.3"/><use href="#g430" x="701.9"/><use href="#g432" x="711.1"/><use href="#g430" x="719.7"/><use href="#g438" x="737.4"/><use href="#g441" x="754.5"/><use href="#g43b" x="763.1"/><use href="#g435" x="771.7"/><use href="#g432" x="780.3"/><use href="#g430" x="788.9"/><use href="#g2c" x="798.1"/></g>
<g class="t" transform="matrix(2.8722 0 -0.7849 2.9286 2362 2674.6)" stroke-width="4"><use href="#g43e" x="0"/><use href="#g440" x="8.6"/><use href="#g438" x="17.2"/><use href="#g435" x="25.8"/><use href="#g43d" x="34.4"/><use href="#g442" x="43"/><use href="#g438" x="54.1"/><use href="#g440" x="62.7"/><use href="#g43e" x="71.3"/><use href="#g432" x="79.9"/><use href="#g43e" x="88.5"/><use href="#g447" x="97.1"/><use href="#g43d" x="105.7"/><use href="#g43e" x="114.3"/><use href="#g432" x="131.4"/><use href="#g44b" x="140"/><use href="#g434" x="150.6"/><use href="#g435" x="159.8"/><use href="#g440" x="168.4"/><use href="#g436" x="177"/><use href="#g438" x="188.6"/><use href="#g432" x="197.2"/><use href="#g430" x="205.8"/><use href="#g44f" x="215"/><use href="#g440" x="232.1"/><use href="#g430" x="240.7"/><use href="#g437" x="249.9"/><use href="#g43c" x="258"/><use href="#g435" x="268.1"/><use href="#g440" x="276.7"/><use href="#g44b" x="285.3"/><use href="#g3b" x="295.9"/></g>
<g class="t" transform="matrix(2.8989 0 -0.7849 2.9286 2328.5 2736.8)" stroke-width="4"><use href="#g2d" x="0"/><use href="#g443" x="9.1"/><use href="#g441" x="17.7"/><use href="#g442" x="26.3"/><use href="#g430" x="37.4"/><use href="#g43d" x="46.6"/><use href="#g43e" x="55.2"/><use href="#g432" x="63.8"/><use href="#g438" x="72.4"/><use href="#g442" x="81"/><use href="#g44c" x="92.1"/><use href="#g43a" x="108.8"/><use href="#g430" x="117"/><use href="#g442" x="126.2"/><use href="#g43a" x="137.3"/><use href="#g438" x="145.4"/><use href="#g432" x="162.5"/><use href="#g441" x="179.6"/><use href="#g431" x="188.2"/><use href="#g43e" x="196.8"/><use href="#g440" x="205.4"/><use href="#g435" x="214"/><use href="#g43a" x="231.1"/><use href="#g43e" x="239.3"/><use href="#g440" x="247.9"/><use href="#g43e" x="256.5"/><use href="#g442" x="265.1"/><use href="#g43a" x="276.2"/><use href="#g438" x="284.4"/><use href="#g435" x="293"/><use href="#g43d" x="310.1"/><use href="#g430" x="318.7"/><use href="#g443" x="336.4"/><use href="#g437" x="345"/><use href="#g43a" x="353.2"/><use href="#g438" x="361.4"/><use href="#g435" x="370"/><use href="#g43f" x="387.1"/><use href="#g440" x="395.7"/><use href="#g438" x="404.3"/><use href="#g441" x="412.9"/><use href="#g442" x="421.5"/><use href="#g430" x="432.6"/><use href="#g432" x="441.8"/><use href="#g43a" x="450.4"/><use href="#g438" x="458.6"/><use href="#g2c" x="467.2"/><use href="#g443" x="480.2"/><use href="#g441" x="488.8"/><use href="#g442" x="497.4"/><use href="#g430" x="508.5"/><use href="#g43d" x="517.7"/><use href="#g43e" x="526.3"/><use href="#g432" x="534.9"/><use href="#g438" x="543.5"/><use href="#g442" x="552.1"/><use href="#g44c" x="563.2"/><use href="#g43a" x="579.9"/><use href="#g430" x="588"/><use href="#g442" x="597.2"/><use href="#g43a" x="608.3"/><use href="#g438" x="616.5"/><use href="#g432" x="633.6"/><use href="#g441" x="650.7"/><use href="#g431" x="659.3"/><use href="#g43e" x="667.9"/><use href="#g440" x="676.5"/><use href="#g435" x="685.1"/><use href="#g434" x="702.2"/><use href="#g43b" x="711.4"/><use href="#g438" x="720"/><use href="#g43d" x="728.6"/><use href="#g43d" x="737.2"/><use href="#g44b" x="745.8"/><use href="#g435" x="756.4"/></g>
<g class="t" transform="matrix(2.8738 0 -0.7849 2.9286 2350 2791)" stroke-width="4"><use href="#g43d" x="0"/><use href="#g430" x="8.6"/><use href="#g448" x="26.3"/><use href="#g438" x="37.9"/><use href="#g440" x="46.5"/><use href="#g43e" x="55.1"/><use href="#g43a" x="63.7"/><use href="#g438" x="71.9"/><use href="#g435" x="80.5"/><use href="#g43f" x="97.6"/><use href="#g440" x="106.2"/><use href="#g438" x="114.8"/><use href="#g441" x="123.4"/><use href="#g442" x="132"/><use href="#g430" x="143.1"/><use href="#g432" x="152.3"/><use href="#g43a" x="160.9"/><use href="#g438" x="169.1"/><use href="#g2c" x="177.7"/><use href="#g43e" x="190.7"/><use href="#g440" x="199.3"/><use href="#g438" x="207.9"/><use href="#g435" x="216.5"/><use href="#g43d" x="225.1"/><use href="#g442" x="233.7"/><use href="#g438" x="244.8"/><use href="#g440" x="253.4"/><use href="#g43e" x="262"/><use href="#g432" x="270.6"/><use href="#g43e" x="279.2"/><use href="#g447" x="287.8"/><use href="#g43d" x="296.4"/><use href="#g43e" x="305"/><use href="#g432" x="322.1"/><use href="#g44b" x="330.7"/><use href="#g434" x="341.2"/><use href="#g435" x="350.4"/><use href="#g440" x="359"/><use href="#g436" x="367.6"/><use href="#g438" x="379.2"/><use href="#g432" x="387.8"/><use href="#g430" x="396.4"/><use href="#g44f" x="405.6"/><use href="#g440" x="422.7"/><use href="#g430" x="431.3"/><use href="#g437" x="440.5"/><use href="#g43c" x="448.7"/><use href="#g435" x="458.8"/><use href="#g440" x="467.4"/><use href="#g44b" x="476"/><use href="#g2e" x="486.6"/></g>
<g class="t" transform="matrix(5.0546 0 -1.3017 4.8571 3583 2932)" stroke-width="3"><use href="#g41a" x="0"/><use href="#g41f" x="10.4"/><use href="#g41c" x="20.8"/><use href="#g2d" x="32.2"/><use href="#g31" x="41.3"/><use href="#g34" x="49.6"/><use href="#g2b" x="60"/><use href="#g43a" x="69.6"/><use href="#g430" x="77.8"/><use href="#g442" x="87"/><use href="#g43a" x="98.1"/><use href="#g438" x="106.3"/><use href="#g441" x="123.4"/><use href="#g43f" x="140.5"/><use href="#g440" x="149.1"/><use href="#g443" x="157.7"/><use href="#g436" x="166.3"/><use href="#g438" x="177.9"/><use href="#g43d" x="186.5"/><use href="#g43e" x="195.1"/><use href="#g439" x="203.7"/><use href="#g421" x="220.8"/><use href="#g411" x="231.2"/></g>
<g class="t" transform="matrix(3.2434 0 -0.8729 3.2571 3527 3074)" stroke-width="3.1"><use href="#g421" x="0"/><use href="#g445" x="10.4"/><use href="#g435" x="19"/><use href="#g43c" x="27.6"/><use href="#g430" x="37.7"/><use href="#g41a" x="55.4"/><use href="#g41f" x="65.8"/><use href="#g41c" x="76.2"/><use href="#g2d" x="87.6"/><use href="#g31" x="96.7"/><use href="#g34" x="105"/><use href="#g441" x="123.9"/><use href="#g43f" x="141"/><use href="#g440" x="149.6"/><use href="#g438" x="158.2"/><use href="#g441" x="166.8"/><use href="#g442" x="175.4"/><use href="#g430" x="186.5"/><use href="#g432" x="195.7"/><use href="#g43a" x="204.3"/><use href="#g43e" x="212.5"/><use href="#g439" x="221.1"/></g>
<g class="t" transform="matrix(3.2708 0 -0.8729 3.2571 3667 3163.3)" stroke-width="3.1"><use href="#g43a" x="0"/><use href="#g430" x="8.2"/><use href="#g442" x="17.4"/><use href="#g43a" x="28.5"/><use href="#g43e" x="36.7"/><use href="#g432" x="45.3"/><use href="#g43e" x="53.9"/><use href="#g2d" x="62.5"/><use href="#g43f" x="71.6"/><use href="#g440" x="80.2"/><use href="#g443" x="88.8"/><use href="#g436" x="97.4"/><use href="#g438" x="109"/><use href="#g43d" x="117.6"/><use href="#g43d" x="126.2"/><use href="#g43e" x="134.8"/><use href="#g439" x="143.4"/></g>
<g class="t" transform="matrix(2.5021 0 -0.6796 2.5357 3714.7 3261.6)" stroke-width="3.4"><use href="#g421" x="0"/><use href="#g431" x="10.4"/><use href="#g43e" x="19"/><use href="#g440" x="27.6"/><use href="#g43e" x="36.2"/><use href="#g447" x="44.8"/><use href="#g43d" x="53.4"/><use href="#g44b" x="62"/><use href="#g439" x="72.6"/><use href="#g447" x="89.7"/><use href="#g435" x="98.3"/><use href="#g440" x="106.9"/><use href="#g442" x="115.5"/><use href="#g435" x="126.6"/><use href="#g436" x="135.2"/></g>
<g class="t" transform="matrix(2.2739 0 -0.5743 2.1429 4358.6 3038.6)" stroke-width="3.9"><use href="#g41b" x="0"/><use href="#g438" x="10.4"/><use href="#g442" x="19"/></g>
<g class="t" transform="matrix(2.1580 0 -0.5743 2.1429 4536 3038.6)" stroke-width="3.9"><use href="#g41c" x="0"/><use href="#g430" x="11.4"/><use href="#g441" x="20.6"/><use href="#g441" x="29.2"/><use href="#g430" x="37.8"/></g>
<g class="t" transform="matrix(2.2187 0 -0.5743 2.1429 4700 3038.6)" stroke-width="3.9"><use href="#g41c" x="0"/><use href="#g430" x="11.4"/><use href="#g441" x="20.6"/><use href="#g448" x="29.2"/><use href="#g442" x="40.8"/><use href="#g430" x="51.9"/><use href="#g431" x="61.1"/></g>
<g class="t" transform="matrix(3.1395 0 -0.8921 3.3286 4749 3168.4)" stroke-width="3.1"><use href="#g31" x="0"/><use href="#g3a" x="8.3"/><use href="#g31" x="12.3"/><use href="#g30" x="20.6"/></g>
<g class="t" transform="matrix(2.1441 0 -0.5743 2.1429 4323 3273.8)" stroke-width="3.9"><use href="#g41b" x="0"/><use href="#g438" x="10.4"/><use href="#g441" x="19"/><use href="#g442" x="27.6"/></g>
<g class="t" transform="matrix(2.1216 0 -0.5743 2.1429 4559.3 3273.8)" stroke-width="3.9"><use href="#g41b" x="0"/><use href="#g438" x="10.4"/><use href="#g441" x="19"/><use href="#g442" x="27.6"/><use href="#g43e" x="38.7"/><use href="#g432" x="47.3"/></g>
<g class="t" transform="matrix(3.0836 0 -0.8346 3.1143 4399 3388.4)" stroke-width="3"><use href="#g41f" x="0"/><use href="#g41e" x="10.4"/><use href="#g41e" x="20.8"/><use href="#g41e" x="31.2"/><use href="#g22" x="50.1"/><use href="#g422" x="55.2"/><use href="#g435" x="66.6"/><use href="#g445" x="75.2"/><use href="#g43c" x="83.8"/><use href="#g430" x="93.9"/><use href="#g448" x="103.1"/><use href="#g22" x="114.7"/></g>
<g class="t" transform="matrix(2.0595 0 -0.5360 2.0000 3745 3508)" stroke-width="3.5"><use href="#g55" x="0"/><use href="#g6e" x="10.4"/><use href="#g69" x="19"/><use href="#g67" x="23.4"/><use href="#g72" x="32"/><use href="#g61" x="39.8"/><use href="#g70" x="48.4"/><use href="#g68" x="57"/><use href="#g69" x="65.6"/><use href="#g63" x="70"/><use href="#g73" x="78.6"/></g>
<g class="t" transform="matrix(2.2643 0 -0.5360 2.0000 4594.8 3508)" stroke-width="3.5"><use href="#g424" x="0"/><use href="#g43e" x="11.4"/><use href="#g440" x="20"/><use href="#g43c" x="28.6"/><use href="#g430" x="38.7"/><use href="#g442" x="47.9"/></g>
<g class="t" transform="matrix(2.1339 0 -0.5360 2.0000 4784.5 3508)" stroke-width="3.5"><use href="#g410" x="0"/><use href="#g33" x="10.4"/></g>
<g class="t" transform="matrix(2.3052 0 -0.5743 2.1429 2723 3097.4)" stroke-width="3.9"><use href="#g418" x="0"/><use href="#g437" x="10.4"/><use href="#g43c" x="18.6"/><use href="#g2e" x="28.7"/></g>
<g class="t" transform="matrix(2.1441 0 -0.5743 2.1429 2812.2 3097.4)" stroke-width="3.9"><use href="#g41b" x="0"/><use href="#g438" x="10.4"/><use href="#g441" x="19"/><use href="#g442" x="27.6"/></g>
<g class="t" transform="matrix(2.2086 0 -0.5743 2.1429 2931 3097.4)" stroke-width="3.9"><use href="#g4e" x="0"/><use href="#gb0" x="10.4"/><use href="#g434" x="26.5"/><use href="#g43e" x="35.7"/><use href="#g43a" x="44.3"/><use href="#g443" x="52.5"/><use href="#g43c" x="61.1"/><use href="#g2e" x="71.2"/></g>
<g class="t" transform="matrix(2.2335 0 -0.5743 2.1429 3200.6 3097.4)" stroke-width="3.9"><use href="#g41f" x="0"/><use href="#g43e" x="10.4"/><use href="#g434" x="19"/><use href="#g43f" x="28.2"/><use href="#g2e" x="36.8"/></g>
<g class="t" transform="matrix(2.2053 0 -0.5743 2.1429 3378 3097.4)" stroke-width="3.9"><use href="#g414" x="0"/><use href="#g430" x="11.4"/><use href="#g442" x="20.6"/><use href="#g430" x="31.7"/></g>
<g class="t" transform="matrix(2.2493 0 -0.5743 2.1429 2723 3156.2)" stroke-width="3.9"><use href="#g420" x="0"/><use href="#g430" x="10.4"/><use href="#g437" x="19.6"/><use href="#g440" x="27.8"/><use href="#g430" x="36.4"/><use href="#g431" x="45.6"/><use href="#g2e" x="54.2"/></g>
<g class="t" transform="matrix(2.1010 0 -0.5743 2.1429 2931 3156.2)" stroke-width="3.9"><use href="#g417" x="0"/><use href="#g430" x="10.4"/><use href="#g434" x="19.6"/><use href="#g43e" x="28.8"/><use href="#g440" x="37.4"/><use href="#g43e" x="46"/><use href="#g436" x="54.6"/><use href="#g43d" x="66.2"/><use href="#g44b" x="74.8"/><use href="#g439" x="85.4"/></g>
<g class="t" transform="matrix(2.2426 0 -0.5743 2.1429 2723 3216)" stroke-width="3.9"><use href="#g41f" x="0"/><use href="#g440" x="10.4"/><use href="#g43e" x="19"/><use href="#g432" x="27.6"/><use href="#g2e" x="36.2"/></g>
<g class="t" transform="matrix(2.1010 0 -0.5743 2.1429 2931 3216)" stroke-width="3.9"><use href="#g417" x="0"/><use href="#g430" x="10.4"/><use href="#g434" x="19.6"/><use href="#g43e" x="28.8"/><use href="#g440" x="37.4"/><use href="#g43e" x="46"/><use href="#g436" x="54.6"/><use href="#g43d" x="66.2"/><use href="#g44b" x="74.8"/><use href="#g439" x="85.4"/></g>
<g class="t" transform="matrix(2.1495 0 -0.5743 2.1429 2727 3274.8)" stroke-width="3.9"><use href="#g422" x="0"/><use href="#g2e" x="11.4"/><use href="#g43a" x="23.9"/><use href="#g43e" x="32.1"/><use href="#g43d" x="40.7"/><use href="#g442" x="49.3"/><use href="#g440" x="60.4"/><use href="#g2e" x="69"/></g>
<g class="t" transform="matrix(2.1750 0 -0.5743 2.1429 2931 3274.8)" stroke-width="3.9"><use href="#g420" x="0"/><use href="#g443" x="10.4"/><use href="#g442" x="19"/><use href="#g43a" x="30.1"/><use href="#g43e" x="38.3"/><use href="#g432" x="46.9"/><use href="#g441" x="55.5"/><use href="#g43a" x="64.1"/><use href="#g438" x="72.3"/><use href="#g439" x="80.9"/></g>
<g class="t" transform="matrix(2.2096 0 -0.5743 2.1429 2723 3393.5)" stroke-width="3.9"><use href="#g41d" x="0"/><use href="#g2e" x="10.4"/><use href="#g43a" x="22.9"/><use href="#g43e" x="31.1"/><use href="#g43d" x="39.7"/><use href="#g442" x="48.3"/><use href="#g440" x="59.4"/><use href="#g2e" x="68"/></g>
<g class="t" transform="matrix(2.1523 0 -0.5743 2.1429 2931 3393.5)" stroke-width="3.9"><use href="#g41a" x="0"/><use href="#g430" x="10.4"/><use href="#g447" x="19.6"/><use href="#g430" x="28.2"/><use href="#g43d" x="37.4"/></g>
<g class="t" transform="matrix(2.2645 0 -0.5743 2.1429 2723 3452.3)" stroke-width="3.9"><use href="#g423" x="0"/><use href="#g442" x="10.4"/><use href="#g432" x="21.5"/><use href="#g2e" x="30.1"/></g>
<g class="t" transform="matrix(2.2170 0 -0.5743 2.1429 2931 3452.3)" stroke-width="3.9"><use href="#g42f" x="0"/><use href="#g433" x="10.4"/><use href="#g43e" x="18.6"/><use href="#g432" x="27.2"/><use href="#g434" x="35.8"/><use href="#g438" x="45"/><use href="#g43a" x="53.6"/></g>
<g class="t" transform="translate(147 675) rotate(-90) matrix(2.5372 0 -0.6126 2.2857 0 0)" stroke-width="4.4"><use href="#g41f" x="0"/><use href="#g435" x="10.4"/><use href="#g440" x="19"/><use href="#g432" x="27.6"/><use href="#g2e" x="36.2"/><use href="#g41f" x="48.7"/><use href="#g440" x="59.1"/><use href="#g438" x="67.7"/><use href="#g43c" x="76.3"/><use href="#g435" x="86.4"/><use href="#g43d" x="95"/><use href="#g2e" x="103.6"/></g>
<g class="t" transform="translate(147 1387) rotate(-90) matrix(2.1912 0 -0.6126 2.2857 0 0)" stroke-width="4.4"><use href="#g421" x="0"/><use href="#g43f" x="10.4"/><use href="#g440" x="19"/><use href="#g430" x="27.6"/><use href="#g432" x="36.8"/><use href="#g2e" x="45.4"/><use href="#g4e" x="57.9"/><use href="#gb0" x="68.3"/></g>
<g class="t" transform="translate(147 2148.7) rotate(-90) matrix(2.5475 0 -0.6126 2.2857 0 0)" stroke-width="4.4"><use href="#g41f" x="0"/><use href="#g43e" x="10.4"/><use href="#g434" x="19"/><use href="#g43f" x="28.2"/><use href="#g2e" x="36.8"/><use href="#g438" x="49.3"/><use href="#g434" x="66.4"/><use href="#g430" x="75.6"/><use href="#g442" x="84.8"/><use href="#g430" x="95.9"/></g>
<g class="t" transform="translate(147 2446) rotate(-90) matrix(2.9265 0 -0.6126 2.2857 0 0)" stroke-width="4.4"><use href="#g418" x="0"/><use href="#g43d" x="10.4"/><use href="#g432" x="19"/><use href="#g2e" x="27.6"/><use href="#g4e" x="31.6"/><use href="#gb0" x="42"/><use href="#g434" x="58.1"/><use href="#g443" x="67.3"/><use href="#g431" x="75.9"/><use href="#g43b" x="84.5"/><use href="#g2e" x="93.1"/></g>
<g class="t" transform="translate(147 2739.8) rotate(-90) matrix(2.5671 0 -0.6126 2.2857 0 0)" stroke-width="4.4"><use href="#g412" x="0"/><use href="#g437" x="10.4"/><use href="#g430" x="18.6"/><use href="#g43c" x="27.8"/><use href="#g2e" x="37.9"/><use href="#g418" x="50.4"/><use href="#g43d" x="60.8"/><use href="#g432" x="69.4"/><use href="#g2e" x="78"/><use href="#g4e" x="82"/><use href="#gb0" x="92.4"/></g>
<g class="t" transform="translate(147 3151) rotate(-90) matrix(2.5209 0 -0.6126 2.2857 0 0)" stroke-width="4.4"><use href="#g41f" x="0"/><use href="#g43e" x="10.4"/><use href="#g434" x="19"/><use href="#g43f" x="28.2"/><use href="#g2e" x="36.8"/><use href="#g438" x="49.3"/><use href="#g434" x="66.4"/><use href="#g430" x="75.6"/><use href="#g442" x="84.8"/><use href="#g430" x="95.9"/></g>
<g class="t" transform="translate(147 3449) rotate(-90) matrix(2.6184 0 -0.6126 2.2857 0 0)" stroke-width="4.4"><use href="#g418" x="0"/><use href="#g43d" x="10.4"/><use href="#g432" x="19"/><use href="#g2e" x="27.6"/><use href="#g4e" x="40.1"/><use href="#gb0" x="50.5"/><use href="#g43f" x="58.1"/><use href="#g43e" x="66.7"/><use href="#g434" x="75.3"/><use href="#g43b" x="84.5"/><use href="#g2e" x="93.1"/></g>
<use href="#tb" x="804.5" y="1092.5"/>
<use href="#tt" x="804.5" y="1092.5"/>
<use href="#wlf" x="804.5" y="1092.5"/>
<use href="#tb" x="1088" y="1092.5"/>
<use href="#ts" x="1088" y="1092.5"/>
<use href="#wlf" x="1088" y="1092.5"/>
<use href="#tb" x="1224" y="1092.5"/>
<use href="#ts" x="1224" y="1092.5"/>
<use href="#wl" x="1224" y="1092.5"/>
<use href="#wr" x="1224" y="1092.5"/>
<use href="#tb" x="1434" y="1092.5"/>
<use href="#ts" x="1434" y="1092.5"/>
<use href="#wl" x="1434" y="1092.5"/>
<use href="#wr" x="1434" y="1092.5"/>
<use href="#tb" x="1645.7" y="1092.5"/>
<use href="#ts" x="1645.7" y="1092.5"/>
<use href="#wl" x="1645.7" y="1092.5"/>
<use href="#wr" x="1645.7" y="1092.5"/>
<use href="#tb" x="1783.4" y="1092.5"/>
<use href="#ts" x="1783.4" y="1092.5"/>
<use href="#wrf" x="1783.4" y="1092.5"/>
<use href="#tb" x="2064.2" y="1092.5"/>
<use href="#tt" x="2064.2" y="1092.5"/>
<use href="#tb" x="2275.3" y="1092.5"/>
<use href="#tt" x="2275.3" y="1092.5"/>
<use href="#wl" x="2275.3" y="1092.5"/>
<use href="#wr" x="2275.3" y="1092.5"/>
<use href="#tb" x="2555.4" y="1092.5"/>
<use href="#tt" x="2555.4" y="1092.5"/>
<use href="#wr" x="2555.4" y="1092.5"/>
<use href="#tb" x="2767.4" y="1092.5"/>
<use href="#tt" x="2767.4" y="1092.5"/>
<use href="#wl" x="2767.4" y="1092.5"/>
<use href="#wr" x="2767.4" y="1092.5"/>
<use href="#tb" x="3048.3" y="1092.5"/>
<use href="#tt" x="3048.3" y="1092.5"/>
<use href="#wl" x="3048.3" y="1092.5"/>
<use href="#wr" x="3048.3" y="1092.5"/>
<use href="#tb" x="3264.5" y="1092.5"/>
<use href="#tt" x="3264.5" y="1092.5"/>
<use href="#wl" x="3264.5" y="1092.5"/>
<use href="#tb" x="3610.2" y="1092.5"/>
<use href="#tt" x="3610.2" y="1092.5"/>
<use href="#wl" x="3610.2" y="1092.5"/>
<use href="#wr" x="3610.2" y="1092.5"/>
<use href="#tb" x="3749.7" y="1092.5"/>
<use href="#tt" x="3749.7" y="1092.5"/>
<use href="#tb" x="4029.8" y="1092.5"/>
<use href="#tt" x="4029.8" y="1092.5"/>
<use href="#wl" x="4029.8" y="1092.5"/>
<use href="#wr" x="4029.8" y="1092.5"/>
<use href="#tb" x="4314.6" y="1092.5"/>
<use href="#tt" x="4314.6" y="1092.5"/>
<use href="#wlf" x="4314.6" y="1092.5"/>
<use href="#tb" x="942.7" y="1285"/>
<use href="#tt" x="942.7" y="1285"/>
<use href="#wl" x="942.7" y="1285"/>
<use href="#wr" x="942.7" y="1285"/>
<use href="#tb" x="1152.7" y="1285"/>
<use href="#tt" x="1152.7" y="1285"/>
<use href="#wr" x="1152.7" y="1285"/>
<use href="#tb" x="1363.7" y="1285"/>
<use href="#tt" x="1363.7" y="1285"/>
<use href="#wr" x="1363.7" y="1285"/>
<use href="#tb" x="1503.9" y="1285"/>
<use href="#tt" x="1503.9" y="1285"/>
<use href="#wl" x="1503.9" y="1285"/>
<use href="#tb" x="1716.4" y="1285"/>
<use href="#tt" x="1716.4" y="1285"/>
<use href="#wl" x="1716.4" y="1285"/>
<use href="#tb" x="1925.6" y="1285"/>
<use href="#tt" x="1925.6" y="1285"/>
<use href="#wl" x="1925.6" y="1285"/>
<use href="#wr" x="1925.6" y="1285"/>
<use href="#tb" x="2134.4" y="1285"/>
<use href="#tt" x="2134.4" y="1285"/>
<use href="#wr" x="2134.4" y="1285"/>
<use href="#tb" x="2345.4" y="1285"/>
<use href="#tt" x="2345.4" y="1285"/>
<use href="#wl" x="2345.4" y="1285"/>
<use href="#wr" x="2345.4" y="1285"/>
<use href="#tb" x="2486.1" y="1285"/>
<use href="#tt" x="2486.1" y="1285"/>
<use href="#wl" x="2486.1" y="1285"/>
<use href="#tb" x="2697.2" y="1285"/>
<use href="#tt" x="2697.2" y="1285"/>
<use href="#wl" x="2697.2" y="1285"/>
<use href="#wr" x="2697.2" y="1285"/>
<use href="#tb" x="2907.4" y="1285"/>
<use href="#tt" x="2907.4" y="1285"/>
<use href="#wl" x="2907.4" y="1285"/>
<use href="#wr" x="2907.4" y="1285"/>
<use href="#tb" x="3117.6" y="1285"/>
<use href="#tt" x="3117.6" y="1285"/>
<use href="#wl" x="3117.6" y="1285"/>
<use href="#wr" x="3117.6" y="1285"/>
<use href="#tb" x="3329.3" y="1285"/>
<use href="#tt" x="3329.3" y="1285"/>
<use href="#wr" x="3329.3" y="1285"/>
<use href="#tb" x="3469.3" y="1285"/>
<use href="#tt" x="3469.3" y="1285"/>
<use href="#wl" x="3469.3" y="1285"/>
<use href="#wr" x="3469.3" y="1285"/>
<use href="#tb" x="3680.4" y="1285"/>
<use href="#tt" x="3680.4" y="1285"/>
<use href="#wl" x="3680.4" y="1285"/>
<use href="#tb" x="3818.9" y="1285"/>
<use href="#tt" x="3818.9" y="1285"/>
<use href="#wr" x="3818.9" y="1285"/>
<use href="#tb" x="3959.8" y="1285"/>
<use href="#tt" x="3959.8" y="1285"/>
<use href="#wl" x="3959.8" y="1285"/>
<use href="#wr" x="3959.8" y="1285"/>
<use href="#tb" x="4170" y="1285"/>
<use href="#tt" x="4170" y="1285"/>
<use href="#wl" x="4170" y="1285"/>
<use href="#wr" x="4170" y="1285"/>
<use href="#tb" x="4378.8" y="1285"/>
<use href="#tt" x="4378.8" y="1285"/>
<use href="#wrf" x="4378.8" y="1285"/>
<use href="#tb" x="868.6" y="1433.5"/>
<use href="#ts" x="868.6" y="1433.5"/>
<use href="#wr" x="868.6" y="1433.5"/>
<use href="#tb" x="1012.7" y="1433.5"/>
<use href="#ts" x="1012.7" y="1433.5"/>
<use href="#wl" x="1012.7" y="1433.5"/>
<use href="#wr" x="1012.7" y="1433.5"/>
<use href="#tb" x="1294.5" y="1433.5"/>
<use href="#ts" x="1294.5" y="1433.5"/>
<use href="#wl" x="1294.5" y="1433.5"/>
<use href="#tb" x="1575.5" y="1433.5"/>
<use href="#ts" x="1575.5" y="1433.5"/>
<use href="#wr" x="1575.5" y="1433.5"/>
<use href="#tb" x="1856.4" y="1433.5"/>
<use href="#ts" x="1856.4" y="1433.5"/>
<use href="#wl" x="1856.4" y="1433.5"/>
<use href="#wr" x="1856.4" y="1433.5"/>
<use href="#tb" x="1997.2" y="1433.5"/>
<use href="#ts" x="1997.2" y="1433.5"/>
<use href="#wl" x="1997.2" y="1433.5"/>
<use href="#tb" x="2204.6" y="1433.5"/>
<use href="#tt" x="2204.6" y="1433.5"/>
<use href="#wl" x="2204.6" y="1433.5"/>
<use href="#wr" x="2204.6" y="1433.5"/>
<use href="#tb" x="2415.5" y="1433.5"/>
<use href="#tt" x="2415.5" y="1433.5"/>
<use href="#wl" x="2415.5" y="1433.5"/>
<use href="#wr" x="2415.5" y="1433.5"/>
<use href="#tb" x="2627" y="1433.5"/>
<use href="#tt" x="2627" y="1433.5"/>
<use href="#wl" x="2627" y="1433.5"/>
<use href="#wr" x="2627" y="1433.5"/>
<use href="#tb" x="2837.2" y="1433.5"/>
<use href="#tt" x="2837.2" y="1433.5"/>
<use href="#wl" x="2837.2" y="1433.5"/>
<use href="#wr" x="2837.2" y="1433.5"/>
<use href="#tb" x="2978.1" y="1433.5"/>
<use href="#tt" x="2978.1" y="1433.5"/>
<use href="#wl" x="2978.1" y="1433.5"/>
<use href="#wr" x="2978.1" y="1433.5"/>
<use href="#tb" x="3187.8" y="1433.5"/>
<use href="#tt" x="3187.8" y="1433.5"/>
<use href="#wl" x="3187.8" y="1433.5"/>
<use href="#wr" x="3187.8" y="1433.5"/>
<use href="#tb" x="3400" y="1433.5"/>
<use href="#tt" x="3400" y="1433.5"/>
<use href="#wl" x="3400" y="1433.5"/>
<use href="#wr" x="3400" y="1433.5"/>
<use href="#tb" x="3540.9" y="1433.5"/>
<use href="#tt" x="3540.9" y="1433.5"/>
<use href="#wl" x="3540.9" y="1433.5"/>
<use href="#wr" x="3540.9" y="1433.5"/>
<use href="#tb" x="3889.1" y="1433.5"/>
<use href="#tt" x="3889.1" y="1433.5"/>
<use href="#wl" x="3889.1" y="1433.5"/>
<use href="#wr" x="3889.1" y="1433.5"/>
<use href="#tb" x="4099.5" y="1433.5"/>
<use href="#tt" x="4099.5" y="1433.5"/>
<use href="#wl" x="4099.5" y="1433.5"/>
<use href="#wr" x="4099.5" y="1433.5"/>
<use href="#tb" x="4240.7" y="1433.5"/>
<use href="#tt" x="4240.7" y="1433.5"/>
<use href="#wl" x="4240.7" y="1433.5"/>
<use href="#wr" x="4240.7" y="1433.5"/>
<rect x="907.7" y="444" width="167.2" height="340" rx="57" stroke-width="4"/>
<rect x="1795.7" y="444" width="167.2" height="340" rx="57" stroke-width="4"/>
<path d="M1168.4 178L1168.4 560" stroke-width="4"/>
<path d="M1701.6 287L1701.6 560" stroke-width="4"/>
<path d="M1135.5 186L1135.5 560" stroke-width="4"/>
<path d="M1312.9 201L1312.9 560" stroke-width="4"/>
<path d="M1345.7 214.5L1345.7 560" stroke-width="4"/>
<path d="M1523.7 291.5L1523.7 560" stroke-width="4"/>
<path d="M1556.5 300L1556.5 560" stroke-width="4"/>
<path d="M1734.5 270L1734.5 560" stroke-width="4"/>
<path d="M1098.7 560.2L1304 560.2" stroke-width="4"/>
<path d="M1355 560.2L1515 560.2" stroke-width="4"/>
<path d="M1566 560.2L1770.7 560.2" stroke-width="4"/>
<path d="M1075 594L1100.8 594" stroke-width="4"/>
<path d="M1135.5 594L1313 594" stroke-width="4"/>
<path d="M1345.7 594L1523.5 594" stroke-width="4"/>
<path d="M1556.5 594L1734.6 594" stroke-width="4"/>
<path d="M1768.5 594L1795.7 594" stroke-width="4"/>
<path d="M1075 635.5L1100.8 635.5" stroke-width="4"/>
<path d="M1135.5 635.5L1313 635.5" stroke-width="4"/>
<path d="M1345.7 635.5L1523.5 635.5" stroke-width="4"/>
<path d="M1556.5 635.5L1734.6 635.5" stroke-width="4"/>
<path d="M1768.5 635.5L1795.7 635.5" stroke-width="4"/>
<rect x="1097.8" y="592" width="6" height="75" stroke-width="3.5"/>
<rect x="1132.5" y="592" width="6" height="75" stroke-width="3.5"/>
<rect x="1310" y="592" width="6" height="75" stroke-width="3.5"/>
<rect x="1342.7" y="592" width="6" height="75" stroke-width="3.5"/>
<rect x="1520.5" y="592" width="6" height="75" stroke-width="3.5"/>
<rect x="1553.5" y="592" width="6" height="75" stroke-width="3.5"/>
<rect x="1731.6" y="592" width="6" height="75" stroke-width="3.5"/>
<rect x="1765.5" y="592" width="6" height="75" stroke-width="3.5"/>
<rect x="1305" y="505" width="8" height="78" stroke-width="3"/>
<rect x="1345.7" y="505" width="8" height="78" stroke-width="3"/>
<rect x="1300" y="553" width="6" height="32" stroke-width="3"/>
<rect x="1352.7" y="553" width="6" height="32" stroke-width="3"/>
<rect x="1515.5" y="505" width="8" height="78" stroke-width="3"/>
<rect x="1556.5" y="505" width="8" height="78" stroke-width="3"/>
<rect x="1510.5" y="553" width="6" height="32" stroke-width="3"/>
<rect x="1563.5" y="553" width="6" height="32" stroke-width="3"/>
<path d="M1100.8 560L1100.8 1576" stroke-width="4"/>
<path d="M1135.5 560L1135.5 1576" stroke-width="4"/>
<path d="M1313 560L1313 1576" stroke-width="4"/>
<path d="M1345.7 560L1345.7 1576" stroke-width="4"/>
<path d="M1523.5 560L1523.5 1576" stroke-width="4"/>
<path d="M1556.5 560L1556.5 1576" stroke-width="4"/>
<path d="M1734.6 560L1734.6 1576" stroke-width="4"/>
<path d="M1768.5 560L1768.5 1576" stroke-width="4"/>
<path d="M1136 1007L1293 1007" stroke-width="4"/>
<path d="M1304 1007L1313 1007" stroke-width="4"/>
<path d="M1345.7 1007L1354 1007" stroke-width="4"/>
<path d="M1366 1007L1503 1007" stroke-width="4"/>
<path d="M1515 1007L1523.5 1007" stroke-width="4"/>
<path d="M1556.5 1007L1565 1007" stroke-width="4"/>
<path d="M1577 1007L1734 1007" stroke-width="4"/>
<path d="M1136 1042.2L1313 1042.2" stroke-width="6"/>
<path d="M1345.7 1042.2L1523.5 1042.2" stroke-width="6"/>
<path d="M1556.5 1042.2L1734 1042.2" stroke-width="6"/>
<path d="M872 1044.2L1101 1044.2" stroke-width="4"/>
<path d="M1768.5 1044.2L1996 1044.2" stroke-width="4"/>
<path d="M872 1075.6L1100.8 1075.6" stroke-width="4"/>
<path d="M1135.5 1075.6L1313 1075.6" stroke-width="4"/>
<path d="M1345.7 1075.6L1523.5 1075.6" stroke-width="4"/>
<path d="M1556.5 1075.6L1734.6 1075.6" stroke-width="4"/>
<path d="M1768.5 1075.6L1996 1075.6" stroke-width="4"/>
<rect x="1091.8" y="961" width="8.5" height="77" stroke-width="3.5"/>
<rect x="1136" y="961" width="8.5" height="77" stroke-width="3.5"/>
<rect x="1103.8" y="1003" width="8" height="105" stroke-width="3"/>
<rect x="1124.5" y="1003" width="8" height="105" stroke-width="3"/>
<rect x="1087.8" y="1009" width="5" height="28" stroke-width="3"/>
<rect x="1143.5" y="1009" width="5" height="28" stroke-width="3"/>
<circle cx="1118.2" cy="1023" r="2.5" stroke-width="3" style="fill:#2c452e"/>
<circle cx="1118.2" cy="1058.5" r="2.5" stroke-width="3"/>
<path d="M1111.8 1037L1124.5 1037" stroke-width="3"/>
<path d="M1111.8 1070L1124.5 1070" stroke-width="3"/>
<path d="M1100.8 1073L1135.5 1073" stroke-width="4"/>
<rect x="1091.8" y="1108.5" width="8.5" height="143" stroke-width="3.5"/>
<rect x="1136" y="1108.5" width="8.5" height="143" stroke-width="3.5"/>
<rect x="1089.8" y="1117" width="14" height="31" stroke-width="3"/>
<rect x="1132.5" y="1117" width="14" height="31" stroke-width="3"/>
<rect x="1102.8" y="1165" width="30.7" height="24" stroke-width="4"/>
<rect x="1304" y="961" width="8.5" height="77" stroke-width="3.5"/>
<rect x="1346.2" y="961" width="8.5" height="77" stroke-width="3.5"/>
<rect x="1316" y="1003" width="8" height="105" stroke-width="3"/>
<rect x="1334.7" y="1003" width="8" height="105" stroke-width="3"/>
<rect x="1300" y="1009" width="5" height="28" stroke-width="3"/>
<rect x="1353.7" y="1009" width="5" height="28" stroke-width="3"/>
<circle cx="1329.3" cy="1023" r="2.5" stroke-width="3" style="fill:#2c452e"/>
<circle cx="1329.3" cy="1058.5" r="2.5" stroke-width="3"/>
<path d="M1324 1037L1334.7 1037" stroke-width="3"/>
<path d="M1324 1070L1334.7 1070" stroke-width="3"/>
<path d="M1313 1073L1345.7 1073" stroke-width="4"/>
<rect x="1304" y="1108.5" width="8.5" height="143" stroke-width="3.5"/>
<rect x="1346.2" y="1108.5" width="8.5" height="143" stroke-width="3.5"/>
<rect x="1302" y="1117" width="14" height="31" stroke-width="3"/>
<rect x="1342.7" y="1117" width="14" height="31" stroke-width="3"/>
<rect x="1315" y="1165" width="28.7" height="24" stroke-width="4"/>
<rect x="1514.5" y="961" width="8.5" height="77" stroke-width="3.5"/>
<rect x="1557" y="961" width="8.5" height="77" stroke-width="3.5"/>
<rect x="1526.5" y="1003" width="8" height="105" stroke-width="3"/>
<rect x="1545.5" y="1003" width="8" height="105" stroke-width="3"/>
<rect x="1510.5" y="1009" width="5" height="28" stroke-width="3"/>
<rect x="1564.5" y="1009" width="5" height="28" stroke-width="3"/>
<circle cx="1540" cy="1023" r="2.5" stroke-width="3" style="fill:#2c452e"/>
<circle cx="1540" cy="1058.5" r="2.5" stroke-width="3"/>
<path d="M1534.5 1037L1545.5 1037" stroke-width="3"/>
<path d="M1534.5 1070L1545.5 1070" stroke-width="3"/>
<path d="M1523.5 1073L1556.5 1073" stroke-width="4"/>
<rect x="1514.5" y="1108.5" width="8.5" height="143" stroke-width="3.5"/>
<rect x="1557" y="1108.5" width="8.5" height="143" stroke-width="3.5"/>
<rect x="1512.5" y="1117" width="14" height="31" stroke-width="3"/>
<rect x="1553.5" y="1117" width="14" height="31" stroke-width="3"/>
<rect x="1525.5" y="1165" width="29" height="24" stroke-width="4"/>
<rect x="1725.6" y="961" width="8.5" height="77" stroke-width="3.5"/>
<rect x="1769" y="961" width="8.5" height="77" stroke-width="3.5"/>
<rect x="1737.6" y="1003" width="8" height="105" stroke-width="3"/>
<rect x="1757.5" y="1003" width="8" height="105" stroke-width="3"/>
<rect x="1721.6" y="1009" width="5" height="28" stroke-width="3"/>
<rect x="1776.5" y="1009" width="5" height="28" stroke-width="3"/>
<circle cx="1751.5" cy="1023" r="2.5" stroke-width="3" style="fill:#2c452e"/>
<circle cx="1751.5" cy="1058.5" r="2.5" stroke-width="3"/>
<path d="M1745.6 1037L1757.5 1037" stroke-width="3"/>
<path d="M1745.6 1070L1757.5 1070" stroke-width="3"/>
<path d="M1734.6 1073L1768.5 1073" stroke-width="4"/>
<rect x="1725.6" y="1108.5" width="8.5" height="143" stroke-width="3.5"/>
<rect x="1769" y="1108.5" width="8.5" height="143" stroke-width="3.5"/>
<rect x="1723.6" y="1117" width="14" height="31" stroke-width="3"/>
<rect x="1765.5" y="1117" width="14" height="31" stroke-width="3"/>
<rect x="1736.6" y="1165" width="29.9" height="24" stroke-width="4"/>
<path d="M1144.5 1149L1207.5 1149" stroke-width="4"/>
<path d="M1240.5 1149L1304 1149" stroke-width="4"/>
<path d="M1354.7 1149L1417.5 1149" stroke-width="4"/>
<path d="M1450.5 1149L1514.5 1149" stroke-width="4"/>
<path d="M1565.5 1149L1629.2 1149" stroke-width="4"/>
<path d="M1662.2 1149L1725.6 1149" stroke-width="4"/>
<path d="M1144.5 1174L1207.5 1174" stroke-width="4"/>
<path d="M1240.5 1174L1304 1174" stroke-width="4"/>
<path d="M1354.7 1174L1417.5 1174" stroke-width="4"/>
<path d="M1450.5 1174L1514.5 1174" stroke-width="4"/>
<path d="M1565.5 1174L1629.2 1174" stroke-width="4"/>
<path d="M1662.2 1174L1725.6 1174" stroke-width="4"/>
<path d="M826 1209.3L1091.8 1209.3" stroke-width="4"/>
<path d="M1144.5 1209.3L1304 1209.3" stroke-width="4"/>
<path d="M1354.7 1209.3L1514.5 1209.3" stroke-width="4"/>
<path d="M1565.5 1209.3L1725.6 1209.3" stroke-width="4"/>
<path d="M1777.5 1209.3L2042 1209.3" stroke-width="4"/>
<path d="M826 1225.9L1091.8 1225.9" stroke-width="4"/>
<path d="M1144.5 1225.9L1304 1225.9" stroke-width="4"/>
<path d="M1354.7 1225.9L1514.5 1225.9" stroke-width="4"/>
<path d="M1565.5 1225.9L1725.6 1225.9" stroke-width="4"/>
<path d="M1777.5 1225.9L2042 1225.9" stroke-width="4"/>
<path d="M826 1209.3Q822.5 1209.3 822.5 1213L822.5 1222Q822.5 1225.9 826 1225.9" stroke-width="4"/>
<path d="M905 1209.3L905 1225.9" stroke-width="4"/>
<path d="M2042 1209.3Q2045.5 1209.3 2045.5 1213L2045.5 1222Q2045.5 1225.9 2042 1225.9" stroke-width="4"/>
<path d="M1963.7 1209.3L1963.7 1225.9" stroke-width="4"/>
<path d="M873 1246.5L1091.8 1246.5" stroke-width="4"/>
<path d="M1144.5 1246.5L1304 1246.5" stroke-width="4"/>
<path d="M1354.7 1246.5L1514.5 1246.5" stroke-width="4"/>
<path d="M1565.5 1246.5L1710 1246.5" stroke-width="4"/>
<path d="M873 1279L1100.8 1279" stroke-width="4"/>
<path d="M1135.5 1279L1313 1279" stroke-width="4"/>
<path d="M1345.7 1279L1523.5 1279" stroke-width="4"/>
<path d="M1556.5 1279L1734.6 1279" stroke-width="4"/>
<path d="M854.8 1341.5L926.2 1341.5" stroke-width="4"/>
<path d="M959.2 1341.5L1100.8 1341.5" stroke-width="4"/>
<path d="M1135.5 1341.5L1136.2 1341.5" stroke-width="4"/>
<path d="M1169.2 1341.5L1313 1341.5" stroke-width="4"/>
<path d="M1345.7 1341.5L1347.2 1341.5" stroke-width="4"/>
<path d="M1380.2 1341.5L1487.4 1341.5" stroke-width="4"/>
<path d="M1520.4 1341.5L1523.5 1341.5" stroke-width="4"/>
<path d="M1556.5 1341.5L1699.9 1341.5" stroke-width="4"/>
<path d="M1732.9 1341.5L1734.6 1341.5" stroke-width="4"/>
<path d="M1768.5 1341.5L1909.1 1341.5" stroke-width="4"/>
<path d="M1942.1 1341.5L2016 1341.5" stroke-width="4"/>
<path d="M854.8 1366.5L926.2 1366.5" stroke-width="4"/>
<path d="M959.2 1366.5L1100.8 1366.5" stroke-width="4"/>
<path d="M1135.5 1366.5L1136.2 1366.5" stroke-width="4"/>
<path d="M1169.2 1366.5L1313 1366.5" stroke-width="4"/>
<path d="M1345.7 1366.5L1347.2 1366.5" stroke-width="4"/>
<path d="M1380.2 1366.5L1487.4 1366.5" stroke-width="4"/>
<path d="M1520.4 1366.5L1523.5 1366.5" stroke-width="4"/>
<path d="M1556.5 1366.5L1699.9 1366.5" stroke-width="4"/>
<path d="M1732.9 1366.5L1734.6 1366.5" stroke-width="4"/>
<path d="M1768.5 1366.5L1909.1 1366.5" stroke-width="4"/>
<path d="M1942.1 1366.5L2016 1366.5" stroke-width="4"/>
<path d="M885.1 1490L996.2 1490" stroke-width="4"/>
<path d="M1029.2 1490L1100.8 1490" stroke-width="4"/>
<path d="M1135.5 1490L1278 1490" stroke-width="4"/>
<path d="M1311 1490L1313 1490" stroke-width="4"/>
<path d="M1345.7 1490L1523.5 1490" stroke-width="4"/>
<path d="M1556.5 1490L1559 1490" stroke-width="4"/>
<path d="M1592 1490L1734.6 1490" stroke-width="4"/>
<path d="M1768.5 1490L1839.9 1490" stroke-width="4"/>
<path d="M1872.9 1490L1980.7 1490" stroke-width="4"/>
<path d="M2013.7 1490L2014 1490" stroke-width="4"/>
<path d="M885.1 1515L996.2 1515" stroke-width="4"/>
<path d="M1029.2 1515L1100.8 1515" stroke-width="4"/>
<path d="M1135.5 1515L1278 1515" stroke-width="4"/>
<path d="M1311 1515L1313 1515" stroke-width="4"/>
<path d="M1345.7 1515L1523.5 1515" stroke-width="4"/>
<path d="M1556.5 1515L1559 1515" stroke-width="4"/>
<path d="M1592 1515L1734.6 1515" stroke-width="4"/>
<path d="M1768.5 1515L1839.9 1515" stroke-width="4"/>
<path d="M1872.9 1515L1980.7 1515" stroke-width="4"/>
<path d="M2013.7 1515L2014 1515" stroke-width="4"/>
<path d="M825 1543.3L2036 1543.3" stroke-width="4"/>
<path d="M825 1560.5L2036 1560.5" stroke-width="4"/>
<path d="M825 1543.3Q821.5 1543.3 821.5 1547L821.5 1557Q821.5 1560.5 825 1560.5" stroke-width="4"/>
<path d="M905 1543.3L905 1560.5" stroke-width="4"/>
<path d="M2036 1543.3Q2040 1543.3 2040 1547L2040 1557Q2040 1560.5 2036 1560.5" stroke-width="5"/>
<rect x="1956" y="1539" width="66" height="26" rx="3" stroke-width="5"/>
<path d="M1985 1543L1985 1561" stroke-width="4"/>
<path d="M1999 1543L1999 1561" stroke-width="4"/>
<path d="M874.5 1576L1996 1576" stroke-width="4"/>
<path d="M874.5 1617.5L1996 1617.5" stroke-width="4"/>
<path d="M821 1084L821 1239" stroke-width="4"/>
<path d="M821 1288L821 1572" stroke-width="4"/>
<path d="M854.8 1084L854.8 1239" stroke-width="4"/>
<path d="M854.8 1288L854.8 1572" stroke-width="4"/>
<rect x="830.5" y="1037.5" width="41.5" height="46.5" stroke-width="5"/>
<rect x="791" y="1034.5" width="39.5" height="10" rx="3" stroke-width="3.5"/>
<rect x="796" y="1030.5" width="28" height="4" rx="2" stroke-width="3"/>
<rect x="791" y="1077" width="39.5" height="10" rx="3" stroke-width="3.5"/>
<rect x="796" y="1073" width="28" height="4" rx="2" stroke-width="3"/>
<rect x="830.7" y="1239.5" width="42.5" height="46.2" stroke-width="5"/>
<rect x="791" y="1236.5" width="39.7" height="10" rx="3" stroke-width="3.5"/>
<rect x="796" y="1232.5" width="28" height="4" rx="2" stroke-width="3"/>
<rect x="791" y="1278.7" width="39.7" height="10" rx="3" stroke-width="3.5"/>
<rect x="796" y="1274.7" width="28" height="4" rx="2" stroke-width="3"/>
<rect x="830" y="1572.8" width="44.5" height="51.7" stroke-width="5"/>
<rect x="791" y="1569.8" width="39" height="10" rx="3" stroke-width="3.5"/>
<rect x="796" y="1565.8" width="28" height="4" rx="2" stroke-width="3"/>
<rect x="791" y="1617.5" width="39" height="10" rx="3" stroke-width="3.5"/>
<rect x="796" y="1613.5" width="28" height="4" rx="2" stroke-width="3"/>
<path d="M838 1580L838 1618" stroke-width="8"/>
<rect x="910.6" y="961.5" width="80" height="80.7" stroke-width="4"/>
<rect x="890.6" y="1032.2" width="20" height="10.5" rx="2" stroke-width="4"/>
<rect x="899.1" y="1023.2" width="6.5" height="9" rx="1.5" stroke-width="3.5"/>
<rect x="990.6" y="1032.2" width="20" height="10.5" rx="2" stroke-width="4"/>
<rect x="995.6" y="1023.2" width="6.5" height="9" rx="1.5" stroke-width="3.5"/>
<path d="M930.6 1044.2L930.6 1140" stroke-width="7"/>
<path d="M970.6 1044.2L970.6 1140" stroke-width="7"/>
<path d="M929.6 1066.3L971.6 1066.3" stroke-width="4"/>
<path d="M929.6 1118L971.6 1118" stroke-width="7"/>
<path d="M929.6 1129.5L971.6 1129.5" stroke-width="4"/>
<path d="M890.6 1076L890.6 1113L929.6 1113M971.6 1113L1010.6 1113L1010.6 1076" stroke-width="4"/>
<path d="M910.6 1113L910.6 1131L929.6 1131M971.6 1131L990.6 1131L990.6 1113" stroke-width="4"/>
<path d="M901.6 1079L928.6 1117" stroke-width="4"/>
<path d="M1001.6 1079L972.6 1117" stroke-width="4"/>
<path d="M1004.6 1084L984.6 1119Q981.6 1125 974.6 1127" stroke-width="3"/>
<path d="M1007.6 1090L988.6 1124Q984.6 1130 976.6 1132" stroke-width="3"/>
<path d="M931.6 1138L932.6 1156Q933.6 1162 939.6 1162L961.6 1162Q967.6 1162 968.6 1156L969.6 1138" stroke-width="7"/>
<ellipse cx="950.6" cy="1150" rx="6" ry="4" stroke-width="3" style="fill:#2c452e"/>
<rect x="943.6" y="1163" width="14" height="6" rx="3" stroke-width="3" style="fill:#2c452e"/>
<circle cx="974.6" cy="1159.5" r="2" stroke-width="2" style="fill:#2c452e"/>
<rect x="1879.2" y="954.4" width="80" height="87.8" stroke-width="4"/>
<rect x="1859.2" y="1032.2" width="20" height="10.5" rx="2" stroke-width="4"/>
<rect x="1867.7" y="1023.2" width="6.5" height="9" rx="1.5" stroke-width="3.5"/>
<rect x="1959.2" y="1032.2" width="20" height="10.5" rx="2" stroke-width="4"/>
<rect x="1964.2" y="1023.2" width="6.5" height="9" rx="1.5" stroke-width="3.5"/>
<path d="M1899.2 1044.2L1899.2 1140" stroke-width="7"/>
<path d="M1939.2 1044.2L1939.2 1140" stroke-width="7"/>
<path d="M1898.2 1066.3L1940.2 1066.3" stroke-width="4"/>
<path d="M1898.2 1118L1940.2 1118" stroke-width="7"/>
<path d="M1898.2 1129.5L1940.2 1129.5" stroke-width="4"/>
<path d="M1859.2 1076L1859.2 1113L1898.2 1113M1940.2 1113L1979.2 1113L1979.2 1076" stroke-width="4"/>
<path d="M1879.2 1113L1879.2 1131L1898.2 1131M1940.2 1131L1959.2 1131L1959.2 1113" stroke-width="4"/>
<path d="M1870.2 1079L1897.2 1117" stroke-width="4"/>
<path d="M1970.2 1079L1941.2 1117" stroke-width="4"/>
<path d="M1973.2 1084L1953.2 1119Q1950.2 1125 1943.2 1127" stroke-width="3"/>
<path d="M1976.2 1090L1957.2 1124Q1953.2 1130 1945.2 1132" stroke-width="3"/>
<path d="M1900.2 1138L1901.2 1156Q1902.2 1162 1908.2 1162L1930.2 1162Q1936.2 1162 1937.2 1156L1938.2 1138" stroke-width="7"/>
<ellipse cx="1919.2" cy="1150" rx="6" ry="4" stroke-width="3" style="fill:#2c452e"/>
<rect x="1912.2" y="1163" width="14" height="6" rx="3" stroke-width="3" style="fill:#2c452e"/>
<circle cx="1943.2" cy="1159.5" r="2" stroke-width="2" style="fill:#2c452e"/>
<rect x="2369.5" y="963.3" width="80" height="78.9" stroke-width="4"/>
<rect x="2349.5" y="1032.2" width="20" height="10.5" rx="2" stroke-width="4"/>
<rect x="2358" y="1023.2" width="6.5" height="9" rx="1.5" stroke-width="3.5"/>
<rect x="2449.5" y="1032.2" width="20" height="10.5" rx="2" stroke-width="4"/>
<rect x="2454.5" y="1023.2" width="6.5" height="9" rx="1.5" stroke-width="3.5"/>
<path d="M2394.5 1044.2L2394.5 1140" stroke-width="7"/>
<path d="M2424.5 1044.2L2424.5 1140" stroke-width="7"/>
<path d="M2393.5 1066.3L2425.5 1066.3" stroke-width="4"/>
<path d="M2393.5 1118L2425.5 1118" stroke-width="7"/>
<path d="M2393.5 1129.5L2425.5 1129.5" stroke-width="4"/>
<path d="M2349.5 1076L2349.5 1113L2393.5 1113M2425.5 1113L2469.5 1113L2469.5 1076" stroke-width="4"/>
<path d="M2369.5 1113L2369.5 1131L2393.5 1131M2425.5 1131L2449.5 1131L2449.5 1113" stroke-width="4"/>
<path d="M2360.5 1079L2392.5 1117" stroke-width="4"/>
<path d="M2460.5 1079L2426.5 1117" stroke-width="4"/>
<path d="M2463.5 1084L2443.5 1119Q2440.5 1125 2433.5 1127" stroke-width="3"/>
<path d="M2466.5 1090L2447.5 1124Q2443.5 1130 2435.5 1132" stroke-width="3"/>
<path d="M2395.5 1138L2396.5 1156Q2397.5 1162 2403.5 1162L2415.5 1162Q2421.5 1162 2422.5 1156L2423.5 1138" stroke-width="7"/>
<ellipse cx="2409.5" cy="1150" rx="6" ry="4" stroke-width="3" style="fill:#2c452e"/>
<rect x="2402.5" y="1163" width="14" height="6" rx="3" stroke-width="3" style="fill:#2c452e"/>
<circle cx="2433.5" cy="1159.5" r="2" stroke-width="2" style="fill:#2c452e"/>
<rect x="3366.9" y="963.3" width="80" height="78.9" stroke-width="4"/>
<rect x="3346.9" y="1032.2" width="20" height="10.5" rx="2" stroke-width="4"/>
<rect x="3355.4" y="1023.2" width="6.5" height="9" rx="1.5" stroke-width="3.5"/>
<rect x="3446.9" y="1032.2" width="20" height="10.5" rx="2" stroke-width="4"/>
<rect x="3451.9" y="1023.2" width="6.5" height="9" rx="1.5" stroke-width="3.5"/>
<path d="M3391.9 1044.2L3391.9 1140" stroke-width="7"/>
<path d="M3421.9 1044.2L3421.9 1140" stroke-width="7"/>
<path d="M3390.9 1066.3L3422.9 1066.3" stroke-width="4"/>
<path d="M3390.9 1118L3422.9 1118" stroke-width="7"/>
<path d="M3390.9 1129.5L3422.9 1129.5" stroke-width="4"/>
<path d="M3346.9 1076L3346.9 1113L3390.9 1113M3422.9 1113L3466.9 1113L3466.9 1076" stroke-width="4"/>
<path d="M3366.9 1113L3366.9 1131L3390.9 1131M3422.9 1131L3446.9 1131L3446.9 1113" stroke-width="4"/>
<path d="M3357.9 1079L3389.9 1117" stroke-width="4"/>
<path d="M3457.9 1079L3423.9 1117" stroke-width="4"/>
<path d="M3460.9 1084L3440.9 1119Q3437.9 1125 3430.9 1127" stroke-width="3"/>
<path d="M3463.9 1090L3444.9 1124Q3440.9 1130 3432.9 1132" stroke-width="3"/>
<path d="M3392.9 1138L3393.9 1156Q3394.9 1162 3400.9 1162L3412.9 1162Q3418.9 1162 3419.9 1156L3420.9 1138" stroke-width="7"/>
<ellipse cx="3406.9" cy="1150" rx="6" ry="4" stroke-width="3" style="fill:#2c452e"/>
<rect x="3399.9" y="1163" width="14" height="6" rx="3" stroke-width="3" style="fill:#2c452e"/>
<circle cx="3430.9" cy="1159.5" r="2" stroke-width="2" style="fill:#2c452e"/>
<rect x="4182.9" y="958.7" width="80" height="83.5" stroke-width="4"/>
<rect x="4162.9" y="1032.2" width="20" height="10.5" rx="2" stroke-width="4"/>
<rect x="4171.4" y="1023.2" width="6.5" height="9" rx="1.5" stroke-width="3.5"/>
<rect x="4262.9" y="1032.2" width="20" height="10.5" rx="2" stroke-width="4"/>
<rect x="4267.9" y="1023.2" width="6.5" height="9" rx="1.5" stroke-width="3.5"/>
<path d="M4207.9 1044.2L4207.9 1140" stroke-width="7"/>
<path d="M4237.9 1044.2L4237.9 1140" stroke-width="7"/>
<path d="M4206.9 1066.3L4238.9 1066.3" stroke-width="4"/>
<path d="M4206.9 1118L4238.9 1118" stroke-width="7"/>
<path d="M4206.9 1129.5L4238.9 1129.5" stroke-width="4"/>
<path d="M4162.9 1076L4162.9 1113L4206.9 1113M4238.9 1113L4282.9 1113L4282.9 1076" stroke-width="4"/>
<path d="M4182.9 1113L4182.9 1131L4206.9 1131M4238.9 1131L4262.9 1131L4262.9 1113" stroke-width="4"/>
<path d="M4173.9 1079L4205.9 1117" stroke-width="4"/>
<path d="M4273.9 1079L4239.9 1117" stroke-width="4"/>
<path d="M4276.9 1084L4256.9 1119Q4253.9 1125 4246.9 1127" stroke-width="3"/>
<path d="M4279.9 1090L4260.9 1124Q4256.9 1130 4248.9 1132" stroke-width="3"/>
<path d="M4208.9 1138L4209.9 1156Q4210.9 1162 4216.9 1162L4228.9 1162Q4234.9 1162 4235.9 1156L4236.9 1138" stroke-width="7"/>
<ellipse cx="4222.9" cy="1150" rx="6" ry="4" stroke-width="3" style="fill:#2c452e"/>
<rect x="4215.9" y="1163" width="14" height="6" rx="3" stroke-width="3" style="fill:#2c452e"/>
<circle cx="4246.9" cy="1159.5" r="2" stroke-width="2" style="fill:#2c452e"/>
<rect x="1996" y="1036.4" width="38.7" height="47.6" stroke-width="5"/>
<path d="M2038.7 1042.4L2038.7 1078" stroke-width="8"/>
<rect x="2042.7" y="1042.4" width="73.3" height="35.6" stroke-width="3.5"/>
<rect x="2048.7" y="1031.4" width="26" height="5" rx="2" stroke-width="3"/>
<rect x="2048.7" y="1084" width="26" height="5" rx="2" stroke-width="3"/>
<rect x="2042.7" y="1036.4" width="36" height="6" stroke-width="3.5"/>
<rect x="2042.7" y="1078" width="36" height="6" stroke-width="3.5"/>
<circle cx="2048.7" cy="1060.2" r="3" stroke-width="3"/>
<rect x="1995.8" y="1568.3" width="33.8" height="57.7" stroke-width="5"/>
<path d="M2033.6 1574.3L2033.6 1620" stroke-width="8"/>
<rect x="2037.6" y="1574.3" width="78.4" height="45.7" stroke-width="3.5"/>
<rect x="2043.6" y="1563.3" width="26" height="5" rx="2" stroke-width="3"/>
<rect x="2043.6" y="1626" width="26" height="5" rx="2" stroke-width="3"/>
<rect x="2037.6" y="1568.3" width="36" height="6" stroke-width="3.5"/>
<rect x="2037.6" y="1620" width="36" height="6" stroke-width="3.5"/>
<circle cx="2043.6" cy="1597.2" r="3" stroke-width="3"/>
<rect x="1996" y="1239" width="83" height="13" stroke-width="4"/>
<rect x="1996" y="1275" width="83" height="13" stroke-width="4"/>
<path d="M2037 1240L2037 1288" stroke-width="8"/>
<rect x="2046" y="1233" width="26" height="5" rx="2" stroke-width="3"/>
<rect x="2046" y="1288" width="26" height="5" rx="2" stroke-width="3"/>
<rect x="1710" y="1246" width="44.3" height="36.5" rx="3" stroke-width="4"/>
<rect x="1718" y="1253" width="34.3" height="22" stroke-width="4"/>
<path d="M1712 1249L1712 1280" stroke-width="3"/>
<rect x="1754.3" y="1242.5" width="217.2" height="40" rx="3" stroke-width="5"/>
<path d="M1905 1254.7L2158.8 1254.7" stroke-width="4"/>
<path d="M1905 1271.3L2158.8 1271.3" stroke-width="4"/>
<path d="M1971.5 1247.5L1995.5 1247.5" stroke-width="4"/>
<path d="M1971.5 1278L1995.5 1278" stroke-width="4"/>
<rect x="2158.9" y="1243.6" width="72" height="37.7" rx="3" stroke-width="4"/>
<rect x="2164" y="1250" width="38" height="24" rx="2" stroke-width="4"/>
<path d="M2209 1246L2209 1280" stroke-width="4"/>
<rect x="2168" y="1241" width="28" height="5" rx="2" stroke-width="3"/>
<rect x="2168" y="1279" width="28" height="5" rx="2" stroke-width="3"/>
<rect x="3287.5" y="1246" width="43.3" height="36.5" rx="3" stroke-width="4"/>
<rect x="3295.5" y="1253" width="33.3" height="22" stroke-width="4"/>
<path d="M3289.5 1249L3289.5 1280" stroke-width="3"/>
<rect x="3330.8" y="1242.5" width="217.2" height="40" rx="3" stroke-width="5"/>
<path d="M3481.5 1254.7L3735 1254.7" stroke-width="4"/>
<path d="M3481.5 1271.3L3735 1271.3" stroke-width="4"/>
<path d="M3548 1247.5L3572 1247.5" stroke-width="4"/>
<path d="M3548 1278L3572 1278" stroke-width="4"/>
<path d="M2041 1044.2L3718.7 1044.2" stroke-width="4"/>
<path d="M2041 1075.6L3718.7 1075.6" stroke-width="4"/>
<path d="M2121.5 1050.2L3694 1050.2" stroke-width="4"/>
<path d="M2121.5 1068L3694 1068" stroke-width="4"/>
<path d="M2153 1050.2L2153 1068" stroke-width="4"/>
<path d="M3662 1050.2L3662 1068" stroke-width="4"/>
<path d="M2121.5 1050.2Q2117.5 1050.2 2117.5 1055L2117.5 1063Q2117.5 1068 2121.5 1068" stroke-width="4"/>
<path d="M3694 1050.2Q3698.7 1050.2 3698.7 1055L3698.7 1063Q3698.7 1068 3694 1068" stroke-width="4"/>
<path d="M2062 1053L2114 1053" stroke-width="3"/>
<path d="M2062 1065L2114 1065" stroke-width="3"/>
<path d="M2016 1084L2016 1239" stroke-width="4"/>
<path d="M2016 1288L2016 1545" stroke-width="4"/>
<path d="M2049 1084L2049 1233" stroke-width="4"/>
<path d="M2049 1293L2049 1568" stroke-width="4"/>
<path d="M2084.5 1075.6L2084.5 1246.3" stroke-width="4"/>
<path d="M2084.5 1278.4L2084.5 1576.3" stroke-width="4"/>
<path d="M2116.7 1075.6L2116.7 1246.3" stroke-width="4"/>
<path d="M2116.7 1278.4L2116.7 1576.3" stroke-width="4"/>
<path d="M2315 1075.6L2315 1246.3" stroke-width="4"/>
<path d="M2332 1075.6L2332 1246.3" stroke-width="4"/>
<path d="M2505.7 1075.6L2505.7 1246.3" stroke-width="4"/>
<path d="M2505.7 1278.4L2505.7 1576.3" stroke-width="4"/>
<path d="M2538.3 1075.6L2538.3 1246.3" stroke-width="4"/>
<path d="M2538.3 1278.4L2538.3 1576.3" stroke-width="4"/>
<path d="M3277.6 1075.6L3277.6 1246.3" stroke-width="4"/>
<path d="M3277.6 1278.4L3277.6 1576.3" stroke-width="4"/>
<path d="M3310.8 1075.6L3310.8 1246.3" stroke-width="4"/>
<path d="M3310.8 1278.4L3310.8 1576.3" stroke-width="4"/>
<path d="M3484.1 1075.6L3484.1 1246.3" stroke-width="4"/>
<path d="M3500.8 1075.6L3500.8 1246.3" stroke-width="4"/>
<path d="M2231 1246.3L3287.5 1246.3" stroke-width="4"/>
<path d="M2231 1278.4L3287.5 1278.4" stroke-width="4"/>
<path d="M2079 1246.3L2159 1246.3" stroke-width="3"/>
<path d="M2079 1278.4L2159 1278.4" stroke-width="3"/>
<path d="M2037 1576.3L3718.7 1576.3" stroke-width="4"/>
<path d="M2037 1617.8L3718.7 1617.8" stroke-width="4"/>
<path d="M2121 1588.3L3694 1588.3" stroke-width="4"/>
<path d="M2121 1605.8L3694 1605.8" stroke-width="4"/>
<path d="M2153.8 1588.3L2153.8 1605.8" stroke-width="4"/>
<path d="M3664 1588.3L3664 1605.8" stroke-width="4"/>
<path d="M2121 1588.3Q2116.7 1588.3 2116.7 1593L2116.7 1601Q2116.7 1605.8 2121 1605.8" stroke-width="4"/>
<path d="M3694 1588.3Q3698.8 1588.3 3698.8 1593L3698.8 1601Q3698.8 1605.8 3694 1605.8" stroke-width="4"/>
<path d="M2116.7 1149L2258.8 1149" stroke-width="4"/>
<path d="M2291.8 1149L2315 1149" stroke-width="4"/>
<path d="M2116.7 1174L2258.8 1174" stroke-width="4"/>
<path d="M2291.8 1174L2315 1174" stroke-width="4"/>
<path d="M2538.3 1149L2538.9 1149" stroke-width="4"/>
<path d="M2571.9 1149L2750.9 1149" stroke-width="4"/>
<path d="M2783.9 1149L3031.8 1149" stroke-width="4"/>
<path d="M3064.8 1149L3248 1149" stroke-width="4"/>
<path d="M2538.3 1174L2538.9 1174" stroke-width="4"/>
<path d="M2571.9 1174L2750.9 1174" stroke-width="4"/>
<path d="M2783.9 1174L3031.8 1174" stroke-width="4"/>
<path d="M3064.8 1174L3248 1174" stroke-width="4"/>
<path d="M3500.8 1149L3593.7 1149" stroke-width="4"/>
<path d="M3626.7 1149L3699 1149" stroke-width="4"/>
<path d="M3500.8 1174L3593.7 1174" stroke-width="4"/>
<path d="M3626.7 1174L3699 1174" stroke-width="4"/>
<path d="M2116.7 1341.5L2117.9 1341.5" stroke-width="4"/>
<path d="M2150.9 1341.5L2328.9 1341.5" stroke-width="4"/>
<path d="M2361.9 1341.5L2469.6 1341.5" stroke-width="4"/>
<path d="M2502.6 1341.5L2505.7 1341.5" stroke-width="4"/>
<path d="M2116.7 1366.5L2117.9 1366.5" stroke-width="4"/>
<path d="M2150.9 1366.5L2328.9 1366.5" stroke-width="4"/>
<path d="M2361.9 1366.5L2469.6 1366.5" stroke-width="4"/>
<path d="M2502.6 1366.5L2505.7 1366.5" stroke-width="4"/>
<path d="M2538.3 1341.5L2680.7 1341.5" stroke-width="4"/>
<path d="M2713.7 1341.5L2890.9 1341.5" stroke-width="4"/>
<path d="M2923.9 1341.5L3101.1 1341.5" stroke-width="4"/>
<path d="M3134.1 1341.5L3277.6 1341.5" stroke-width="4"/>
<path d="M2538.3 1366.5L2680.7 1366.5" stroke-width="4"/>
<path d="M2713.7 1366.5L2890.9 1366.5" stroke-width="4"/>
<path d="M2923.9 1366.5L3101.1 1366.5" stroke-width="4"/>
<path d="M3134.1 1366.5L3277.6 1366.5" stroke-width="4"/>
<path d="M3310.8 1341.5L3312.8 1341.5" stroke-width="4"/>
<path d="M3345.8 1341.5L3452.8 1341.5" stroke-width="4"/>
<path d="M3485.8 1341.5L3663.9 1341.5" stroke-width="4"/>
<path d="M3696.9 1341.5L3699 1341.5" stroke-width="4"/>
<path d="M3310.8 1366.5L3312.8 1366.5" stroke-width="4"/>
<path d="M3345.8 1366.5L3452.8 1366.5" stroke-width="4"/>
<path d="M3485.8 1366.5L3663.9 1366.5" stroke-width="4"/>
<path d="M3696.9 1366.5L3699 1366.5" stroke-width="4"/>
<path d="M2116.7 1490L2188.1 1490" stroke-width="4"/>
<path d="M2221.1 1490L2399 1490" stroke-width="4"/>
<path d="M2432 1490L2505.7 1490" stroke-width="4"/>
<path d="M2116.7 1515L2188.1 1515" stroke-width="4"/>
<path d="M2221.1 1515L2399 1515" stroke-width="4"/>
<path d="M2432 1515L2505.7 1515" stroke-width="4"/>
<path d="M2538.3 1490L2610.5 1490" stroke-width="4"/>
<path d="M2643.5 1490L2820.7 1490" stroke-width="4"/>
<path d="M2853.7 1490L2961.6 1490" stroke-width="4"/>
<path d="M2994.6 1490L3171.3 1490" stroke-width="4"/>
<path d="M3204.3 1490L3277.6 1490" stroke-width="4"/>
<path d="M2538.3 1515L2610.5 1515" stroke-width="4"/>
<path d="M2643.5 1515L2820.7 1515" stroke-width="4"/>
<path d="M2853.7 1515L2961.6 1515" stroke-width="4"/>
<path d="M2994.6 1515L3171.3 1515" stroke-width="4"/>
<path d="M3204.3 1515L3277.6 1515" stroke-width="4"/>
<path d="M3310.8 1490L3383.5 1490" stroke-width="4"/>
<path d="M3416.5 1490L3524.4 1490" stroke-width="4"/>
<path d="M3557.4 1490L3699 1490" stroke-width="4"/>
<path d="M3310.8 1515L3383.5 1515" stroke-width="4"/>
<path d="M3416.5 1515L3524.4 1515" stroke-width="4"/>
<path d="M3557.4 1515L3699 1515" stroke-width="4"/>
<rect x="3590" y="1004.7" width="6.7" height="86" stroke-width="3.5"/>
<rect x="3613.3" y="1004.7" width="6.7" height="86" stroke-width="3.5"/>
<path d="M3698.8 1084L3698.8 1239" stroke-width="4"/>
<path d="M3698.8 1288L3698.8 1568" stroke-width="4"/>
<path d="M3731.2 1084L3731.2 1239" stroke-width="4"/>
<path d="M3731.2 1288L3731.2 1568" stroke-width="4"/>
<path d="M3765.8 1084L3765.8 1239" stroke-width="4"/>
<path d="M3765.8 1288L3765.8 1568" stroke-width="4"/>
<path d="M3800.5 1084L3800.5 1239" stroke-width="4"/>
<path d="M3800.5 1288L3800.5 1568" stroke-width="4"/>
<rect x="3679.3" y="1036.5" width="82.7" height="6" stroke-width="3.5"/>
<rect x="3679.3" y="1077.7" width="82.7" height="6" stroke-width="3.5"/>
<rect x="3729.6" y="1031.7" width="26.6" height="4.8" rx="2" stroke-width="3.2"/>
<rect x="3729.6" y="1083.7" width="26.6" height="4.8" rx="2" stroke-width="3.2"/>
<path d="M3723.6 1046.5L3723.6 1073.7" stroke-width="10"/>
<rect x="3729" y="1046.3" width="70.5" height="7" stroke-width="4" style="fill:#2c452e"/>
<rect x="3729" y="1066.9" width="70.5" height="7" stroke-width="4" style="fill:#2c452e"/>
<path d="M3733 1053.5L3733 1066.7" stroke-width="3.5"/>
<path d="M3753.5 1053.5L3753.5 1066.7" stroke-width="3.5"/>
<rect x="3679.3" y="1568.5" width="82.7" height="6" stroke-width="3.5"/>
<rect x="3679.3" y="1620" width="82.7" height="6" stroke-width="3.5"/>
<rect x="3729.6" y="1563.7" width="26.6" height="4.8" rx="2" stroke-width="3.2"/>
<rect x="3729.6" y="1626" width="26.6" height="4.8" rx="2" stroke-width="3.2"/>
<path d="M3723.6 1578.5L3723.6 1616" stroke-width="10"/>
<rect x="3729" y="1578.3" width="70.5" height="7" stroke-width="4" style="fill:#2c452e"/>
<rect x="3729" y="1609.2" width="70.5" height="7" stroke-width="4" style="fill:#2c452e"/>
<path d="M3733 1585.5L3733 1609" stroke-width="3.5"/>
<path d="M3753.5 1585.5L3753.5 1609" stroke-width="3.5"/>
<rect x="3679.3" y="1239.4" width="82.7" height="6" stroke-width="3.5"/>
<rect x="3729.6" y="1234.6" width="26.6" height="4.8" rx="2" stroke-width="3.2"/>
<rect x="3729.6" y="1284" width="26.6" height="4.8" rx="2" stroke-width="3.2"/>
<rect x="3718.7" y="1247" width="81" height="8.5" stroke-width="4" style="fill:#2c452e"/>
<rect x="3687" y="1269.5" width="112.5" height="6" stroke-width="3.5"/>
<rect x="3687" y="1277.8" width="112.5" height="6" stroke-width="3.5"/>
<rect x="3732.5" y="1256" width="40.5" height="13.5" stroke-width="3.5"/>
<path d="M3549 1246.3L3718.7 1246.3" stroke-width="4"/>
<path d="M3549 1278.8L3687 1278.8" stroke-width="4"/>
<path d="M3800.5 1044.2L4363 1044.2" stroke-width="4"/>
<path d="M3800.5 1077.8L4329.3 1077.8" stroke-width="4"/>
<path d="M3800.5 1244L4363 1244" stroke-width="4"/>
<path d="M3800.5 1278.8L4363 1278.8" stroke-width="4"/>
<path d="M3800.5 1576.7L4363 1576.7" stroke-width="4"/>
<path d="M3800.5 1618.2L4363 1618.2" stroke-width="4"/>
<path d="M4363 1044.2L4363 1618.2" stroke-width="4"/>
<path d="M4329.3 1077.8L4329.3 1244" stroke-width="4"/>
<path d="M4329.3 1278.8L4329.3 1576.7" stroke-width="4"/>
<path d="M4050 1077.8L4050 1244" stroke-width="4"/>
<path d="M4063.8 1077.8L4063.8 1244" stroke-width="4"/>
<rect x="4336" y="1046" width="25" height="14" stroke-width="4"/>
<rect x="4336" y="1060" width="25" height="14" stroke-width="4"/>
<path d="M4333 1044L4333 1077" stroke-width="5"/>
<path d="M3800.5 1149L4013.3 1149" stroke-width="4"/>
<path d="M4046.3 1149L4050 1149" stroke-width="4"/>
<path d="M3800.5 1174L4013.3 1174" stroke-width="4"/>
<path d="M4046.3 1174L4050 1174" stroke-width="4"/>
<path d="M3800.5 1341.5L3802.4 1341.5" stroke-width="4"/>
<path d="M3835.4 1341.5L3943.3 1341.5" stroke-width="4"/>
<path d="M3976.3 1341.5L4153.5 1341.5" stroke-width="4"/>
<path d="M4186.5 1341.5L4329.3 1341.5" stroke-width="4"/>
<path d="M3800.5 1366.5L3802.4 1366.5" stroke-width="4"/>
<path d="M3835.4 1366.5L3943.3 1366.5" stroke-width="4"/>
<path d="M3976.3 1366.5L4153.5 1366.5" stroke-width="4"/>
<path d="M4186.5 1366.5L4329.3 1366.5" stroke-width="4"/>
<path d="M3800.5 1490L3872.6 1490" stroke-width="4"/>
<path d="M3905.6 1490L4083 1490" stroke-width="4"/>
<path d="M4116 1490L4224.2 1490" stroke-width="4"/>
<path d="M4257.2 1490L4329.3 1490" stroke-width="4"/>
<path d="M3800.5 1515L3872.6 1515" stroke-width="4"/>
<path d="M3905.6 1515L4083 1515" stroke-width="4"/>
<path d="M4116 1515L4224.2 1515" stroke-width="4"/>
<path d="M4257.2 1515L4329.3 1515" stroke-width="4"/>
<rect x="756.4" y="1670.8" width="602.6" height="23.4" stroke-width="4"/>
<rect x="1453" y="1670.8" width="603" height="23.4" stroke-width="4"/>
<rect x="2150.6" y="1670.8" width="837.6" height="23.4" stroke-width="4"/>
<rect x="3078.3" y="1670.8" width="604.4" height="23.4" stroke-width="4"/>
<rect x="3777.4" y="1670.8" width="604.1" height="23.4" stroke-width="4"/>
<rect x="814" y="1794" width="602.9" height="22.5" stroke-width="4"/>
<rect x="1510.9" y="1794" width="602.7" height="22.5" stroke-width="4"/>
<rect x="2208.3" y="1794" width="837.7" height="22.5" stroke-width="4"/>
<rect x="3138.3" y="1794" width="602.1" height="22.5" stroke-width="4"/>
<rect x="3836.5" y="1794" width="603.7" height="22.5" stroke-width="4"/>
<use href="#su" x="821.5" y="1670.8"/>
<use href="#su" x="880" y="1794"/>
<use href="#su" x="1057.3" y="1670.8"/>
<use href="#su" x="1115.8" y="1794"/>
<use href="#su" x="1289.4" y="1670.8"/>
<use href="#su" x="1347.9" y="1794"/>
<use href="#su" x="1519.4" y="1670.8"/>
<use href="#su" x="1577.9" y="1794"/>
<use href="#su" x="1754" y="1670.8"/>
<use href="#su" x="1812.5" y="1794"/>
<use href="#su" x="1988.5" y="1670.8"/>
<use href="#su" x="2047" y="1794"/>
<use href="#su" x="2216" y="1670.8"/>
<use href="#su" x="2274.5" y="1794"/>
<use href="#su" x="2452.5" y="1670.8"/>
<use href="#su" x="2511" y="1794"/>
<use href="#su" x="2685.7" y="1670.8"/>
<use href="#su" x="2744.2" y="1794"/>
<use href="#su" x="2920.8" y="1670.8"/>
<use href="#su" x="2979.3" y="1794"/>
<use href="#su" x="3144.1" y="1670.8"/>
<use href="#su" x="3202.6" y="1794"/>
<use href="#su" x="3382" y="1670.8"/>
<use href="#su" x="3440.5" y="1794"/>
<use href="#su" x="3616.9" y="1670.8"/>
<use href="#su" x="3675.4" y="1794"/>
<use href="#su" x="3844.4" y="1670.8"/>
<use href="#su" x="3902.9" y="1794"/>
<use href="#su" x="4078.8" y="1670.8"/>
<use href="#su" x="4137.3" y="1794"/>
<use href="#su" x="4313.9" y="1670.8"/>
<use href="#su" x="4372.4" y="1794"/>
<rect x="945.2" y="1567" width="9" height="60" rx="4" stroke-width="3"/>
<rect x="999.7" y="1567" width="9" height="60" rx="4" stroke-width="3"/>
<rect x="940.7" y="1618.5" width="73" height="14.5" stroke-width="4"/>
<ellipse cx="961.7" cy="1624.5" rx="5.5" ry="3.6" stroke-width="2" style="fill:#2c452e"/>
<ellipse cx="991.7" cy="1624.5" rx="5.5" ry="3.6" stroke-width="2" style="fill:#2c452e"/>
<path d="M939.7 1630L956.7 1630L952.7 1640L943.7 1640Z" stroke-width="3" style="fill:#2c452e"/>
<path d="M1013.7 1630L996.7 1630L1000.7 1640L1009.7 1640Z" stroke-width="3" style="fill:#2c452e"/>
<path d="M967.4 1633L967.4 1752" stroke-width="4"/>
<path d="M986 1633L986 1752" stroke-width="4"/>
<path d="M946.7 1672L946.7 1822" stroke-width="9.5"/>
<path d="M954.7 1700L954.7 1722" stroke-width="3.5"/>
<path d="M959.7 1719L959.7 1760" stroke-width="11"/>
<path d="M943.7 1667L965.7 1667L965.7 1672" stroke-width="4"/>
<circle cx="947.7" cy="1681" r="8" stroke-width="3" style="fill:#2c452e"/>
<circle cx="952.7" cy="1804" r="8" stroke-width="3" style="fill:#2c452e"/>
<path d="M954.7 1822L954.7 1832L964.7 1832" stroke-width="4"/>
<path d="M954.7 1760L954.7 1822" stroke-width="3.5"/>
<rect x="959.7" y="1752" width="34" height="48" rx="2" stroke-width="5"/>
<path d="M961.7 1762L991.7 1762" stroke-width="3"/>
<path d="M961.7 1774L991.7 1774" stroke-width="3"/>
<path d="M961.7 1786L991.7 1786" stroke-width="3"/>
<path d="M971.7 1752L971.7 1800" stroke-width="3"/>
<path d="M981.7 1752L981.7 1800" stroke-width="3"/>
<rect x="963.2" y="1803" width="28" height="38" rx="3" stroke-width="8" style="fill:#2c452e"/>
<rect x="960.7" y="1815" width="33" height="22" rx="5" stroke-width="6" style="fill:#2c452e"/>
<path d="M962.7 1841L968.7 1850L984.7 1850L990.7 1841Z" stroke-width="6" style="fill:#2c452e"/>
<rect x="962.7" y="1852" width="28" height="22" rx="4" stroke-width="7" style="fill:#2c452e"/>
<rect x="964.2" y="1872" width="25" height="20" rx="2" stroke-width="6"/>
<rect x="945.7" y="1890.7" width="62" height="40" rx="2" stroke-width="5"/>
<circle cx="951.7" cy="1897" r="5.5" stroke-width="3" style="fill:#2c452e"/>
<circle cx="951.7" cy="1924" r="5.5" stroke-width="3" style="fill:#2c452e"/>
<circle cx="951.7" cy="1937" r="4" stroke-width="3" style="fill:#2c452e"/>
<circle cx="1001.7" cy="1897" r="5.5" stroke-width="3" style="fill:#2c452e"/>
<circle cx="1001.7" cy="1924" r="5.5" stroke-width="3" style="fill:#2c452e"/>
<circle cx="1001.7" cy="1937" r="4" stroke-width="3" style="fill:#2c452e"/>
<path d="M966.7 1897L966.7 1924Q966.7 1928 970.7 1928L982.7 1928Q986.7 1928 986.7 1924L986.7 1897" stroke-width="4"/>
<path d="M966.7 1905L986.7 1905" stroke-width="3.5"/>
<rect x="974.7" y="1893" width="4" height="6" stroke-width="2.5"/>
<rect x="1139.2" y="1567" width="9" height="60" rx="4" stroke-width="3"/>
<rect x="1193.7" y="1567" width="9" height="60" rx="4" stroke-width="3"/>
<rect x="1134.7" y="1618.5" width="73" height="14.5" stroke-width="4"/>
<ellipse cx="1155.7" cy="1624.5" rx="5.5" ry="3.6" stroke-width="2" style="fill:#2c452e"/>
<ellipse cx="1185.7" cy="1624.5" rx="5.5" ry="3.6" stroke-width="2" style="fill:#2c452e"/>
<path d="M1133.7 1630L1150.7 1630L1146.7 1640L1137.7 1640Z" stroke-width="3" style="fill:#2c452e"/>
<path d="M1207.7 1630L1190.7 1630L1194.7 1640L1203.7 1640Z" stroke-width="3" style="fill:#2c452e"/>
<path d="M1161.4 1633L1161.4 1752" stroke-width="4"/>
<path d="M1180 1633L1180 1752" stroke-width="4"/>
<path d="M1200.7 1672L1200.7 1822" stroke-width="9.5"/>
<path d="M1192.7 1700L1192.7 1722" stroke-width="3.5"/>
<path d="M1187.7 1719L1187.7 1760" stroke-width="11"/>
<path d="M1203.7 1667L1181.7 1667L1181.7 1672" stroke-width="4"/>
<circle cx="1199.7" cy="1681" r="8" stroke-width="3" style="fill:#2c452e"/>
<circle cx="1194.7" cy="1804" r="8" stroke-width="3" style="fill:#2c452e"/>
<path d="M1192.7 1822L1192.7 1832L1182.7 1832" stroke-width="4"/>
<path d="M1192.7 1760L1192.7 1822" stroke-width="3.5"/>
<rect x="1153.7" y="1752" width="34" height="48" rx="2" stroke-width="5"/>
<path d="M1155.7 1762L1185.7 1762" stroke-width="3"/>
<path d="M1155.7 1774L1185.7 1774" stroke-width="3"/>
<path d="M1155.7 1786L1185.7 1786" stroke-width="3"/>
<path d="M1165.7 1752L1165.7 1800" stroke-width="3"/>
<path d="M1175.7 1752L1175.7 1800" stroke-width="3"/>
<rect x="1157.2" y="1803" width="28" height="38" rx="3" stroke-width="8" style="fill:#2c452e"/>
<rect x="1154.7" y="1815" width="33" height="22" rx="5" stroke-width="6" style="fill:#2c452e"/>
<path d="M1156.7 1841L1162.7 1850L1178.7 1850L1184.7 1841Z" stroke-width="6" style="fill:#2c452e"/>
<rect x="1156.7" y="1852" width="28" height="22" rx="4" stroke-width="7" style="fill:#2c452e"/>
<rect x="1158.2" y="1872" width="25" height="20" rx="2" stroke-width="6"/>
<rect x="1139.7" y="1890.7" width="62" height="40" rx="2" stroke-width="5"/>
<circle cx="1145.7" cy="1897" r="5.5" stroke-width="3" style="fill:#2c452e"/>
<circle cx="1145.7" cy="1924" r="5.5" stroke-width="3" style="fill:#2c452e"/>
<circle cx="1145.7" cy="1937" r="4" stroke-width="3" style="fill:#2c452e"/>
<circle cx="1195.7" cy="1897" r="5.5" stroke-width="3" style="fill:#2c452e"/>
<circle cx="1195.7" cy="1924" r="5.5" stroke-width="3" style="fill:#2c452e"/>
<circle cx="1195.7" cy="1937" r="4" stroke-width="3" style="fill:#2c452e"/>
<path d="M1160.7 1897L1160.7 1924Q1160.7 1928 1164.7 1928L1176.7 1928Q1180.7 1928 1180.7 1924L1180.7 1897" stroke-width="4"/>
<path d="M1160.7 1905L1180.7 1905" stroke-width="3.5"/>
<rect x="1168.7" y="1893" width="4" height="6" stroke-width="2.5"/>
<rect x="1642.4" y="1567" width="9" height="60" rx="4" stroke-width="3"/>
<rect x="1696.9" y="1567" width="9" height="60" rx="4" stroke-width="3"/>
<rect x="1637.9" y="1618.5" width="73" height="14.5" stroke-width="4"/>
<ellipse cx="1658.9" cy="1624.5" rx="5.5" ry="3.6" stroke-width="2" style="fill:#2c452e"/>
<ellipse cx="1688.9" cy="1624.5" rx="5.5" ry="3.6" stroke-width="2" style="fill:#2c452e"/>
<path d="M1636.9 1630L1653.9 1630L1649.9 1640L1640.9 1640Z" stroke-width="3" style="fill:#2c452e"/>
<path d="M1710.9 1630L1693.9 1630L1697.9 1640L1706.9 1640Z" stroke-width="3" style="fill:#2c452e"/>
<path d="M1664.6 1633L1664.6 1752" stroke-width="4"/>
<path d="M1683.2 1633L1683.2 1752" stroke-width="4"/>
<path d="M1643.9 1672L1643.9 1822" stroke-width="9.5"/>
<path d="M1651.9 1700L1651.9 1722" stroke-width="3.5"/>
<path d="M1656.9 1719L1656.9 1760" stroke-width="11"/>
<path d="M1640.9 1667L1662.9 1667L1662.9 1672" stroke-width="4"/>
<circle cx="1644.9" cy="1681" r="8" stroke-width="3" style="fill:#2c452e"/>
<circle cx="1649.9" cy="1804" r="8" stroke-width="3" style="fill:#2c452e"/>
<path d="M1651.9 1822L1651.9 1832L1661.9 1832" stroke-width="4"/>
<path d="M1651.9 1760L1651.9 1822" stroke-width="3.5"/>
<rect x="1656.9" y="1752" width="34" height="48" rx="2" stroke-width="5"/>
<path d="M1658.9 1762L1688.9 1762" stroke-width="3"/>
<path d="M1658.9 1774L1688.9 1774" stroke-width="3"/>
<path d="M1658.9 1786L1688.9 1786" stroke-width="3"/>
<path d="M1668.9 1752L1668.9 1800" stroke-width="3"/>
<path d="M1678.9 1752L1678.9 1800" stroke-width="3"/>
<rect x="1660.4" y="1803" width="28" height="38" rx="3" stroke-width="8" style="fill:#2c452e"/>
<rect x="1657.9" y="1815" width="33" height="22" rx="5" stroke-width="6" style="fill:#2c452e"/>
<path d="M1659.9 1841L1665.9 1850L1681.9 1850L1687.9 1841Z" stroke-width="6" style="fill:#2c452e"/>
<rect x="1659.9" y="1852" width="28" height="22" rx="4" stroke-width="7" style="fill:#2c452e"/>
<rect x="1661.4" y="1872" width="25" height="20" rx="2" stroke-width="6"/>
<rect x="1642.9" y="1890.7" width="62" height="40" rx="2" stroke-width="5"/>
<circle cx="1648.9" cy="1897" r="5.5" stroke-width="3" style="fill:#2c452e"/>
<circle cx="1648.9" cy="1924" r="5.5" stroke-width="3" style="fill:#2c452e"/>
<circle cx="1648.9" cy="1937" r="4" stroke-width="3" style="fill:#2c452e"/>
<circle cx="1698.9" cy="1897" r="5.5" stroke-width="3" style="fill:#2c452e"/>
<circle cx="1698.9" cy="1924" r="5.5" stroke-width="3" style="fill:#2c452e"/>
<circle cx="1698.9" cy="1937" r="4" stroke-width="3" style="fill:#2c452e"/>
<path d="M1663.9 1897L1663.9 1924Q1663.9 1928 1667.9 1928L1679.9 1928Q1683.9 1928 1683.9 1924L1683.9 1897" stroke-width="4"/>
<path d="M1663.9 1905L1683.9 1905" stroke-width="3.5"/>
<rect x="1671.9" y="1893" width="4" height="6" stroke-width="2.5"/>
<rect x="1837.3" y="1567" width="9" height="60" rx="4" stroke-width="3"/>
<rect x="1891.8" y="1567" width="9" height="60" rx="4" stroke-width="3"/>
<rect x="1832.8" y="1618.5" width="73" height="14.5" stroke-width="4"/>
<ellipse cx="1853.8" cy="1624.5" rx="5.5" ry="3.6" stroke-width="2" style="fill:#2c452e"/>
<ellipse cx="1883.8" cy="1624.5" rx="5.5" ry="3.6" stroke-width="2" style="fill:#2c452e"/>
<path d="M1831.8 1630L1848.8 1630L1844.8 1640L1835.8 1640Z" stroke-width="3" style="fill:#2c452e"/>
<path d="M1905.8 1630L1888.8 1630L1892.8 1640L1901.8 1640Z" stroke-width="3" style="fill:#2c452e"/>
<path d="M1859.5 1633L1859.5 1752" stroke-width="4"/>
<path d="M1878.1 1633L1878.1 1752" stroke-width="4"/>
<path d="M1898.8 1672L1898.8 1822" stroke-width="9.5"/>
<path d="M1890.8 1700L1890.8 1722" stroke-width="3.5"/>
<path d="M1885.8 1719L1885.8 1760" stroke-width="11"/>
<path d="M1901.8 1667L1879.8 1667L1879.8 1672" stroke-width="4"/>
<circle cx="1897.8" cy="1681" r="8" stroke-width="3" style="fill:#2c452e"/>
<circle cx="1892.8" cy="1804" r="8" stroke-width="3" style="fill:#2c452e"/>
<path d="M1890.8 1822L1890.8 1832L1880.8 1832" stroke-width="4"/>
<path d="M1890.8 1760L1890.8 1822" stroke-width="3.5"/>
<rect x="1851.8" y="1752" width="34" height="48" rx="2" stroke-width="5"/>
<path d="M1853.8 1762L1883.8 1762" stroke-width="3"/>
<path d="M1853.8 1774L1883.8 1774" stroke-width="3"/>
<path d="M1853.8 1786L1883.8 1786" stroke-width="3"/>
<path d="M1863.8 1752L1863.8 1800" stroke-width="3"/>
<path d="M1873.8 1752L1873.8 1800" stroke-width="3"/>
<rect x="1855.3" y="1803" width="28" height="38" rx="3" stroke-width="8" style="fill:#2c452e"/>
<rect x="1852.8" y="1815" width="33" height="22" rx="5" stroke-width="6" style="fill:#2c452e"/>
<path d="M1854.8 1841L1860.8 1850L1876.8 1850L1882.8 1841Z" stroke-width="6" style="fill:#2c452e"/>
<rect x="1854.8" y="1852" width="28" height="22" rx="4" stroke-width="7" style="fill:#2c452e"/>
<rect x="1856.3" y="1872" width="25" height="20" rx="2" stroke-width="6"/>
<rect x="1837.8" y="1890.7" width="62" height="40" rx="2" stroke-width="5"/>
<circle cx="1843.8" cy="1897" r="5.5" stroke-width="3" style="fill:#2c452e"/>
<circle cx="1843.8" cy="1924" r="5.5" stroke-width="3" style="fill:#2c452e"/>
<circle cx="1843.8" cy="1937" r="4" stroke-width="3" style="fill:#2c452e"/>
<circle cx="1893.8" cy="1897" r="5.5" stroke-width="3" style="fill:#2c452e"/>
<circle cx="1893.8" cy="1924" r="5.5" stroke-width="3" style="fill:#2c452e"/>
<circle cx="1893.8" cy="1937" r="4" stroke-width="3" style="fill:#2c452e"/>
<path d="M1858.8 1897L1858.8 1924Q1858.8 1928 1862.8 1928L1874.8 1928Q1878.8 1928 1878.8 1924L1878.8 1897" stroke-width="4"/>
<path d="M1858.8 1905L1878.8 1905" stroke-width="3.5"/>
<rect x="1866.8" y="1893" width="4" height="6" stroke-width="2.5"/>
<rect x="2345.5" y="1567" width="9" height="60" rx="4" stroke-width="3"/>
<rect x="2400" y="1567" width="9" height="60" rx="4" stroke-width="3"/>
<rect x="2341" y="1618.5" width="73" height="14.5" stroke-width="4"/>
<ellipse cx="2362" cy="1624.5" rx="5.5" ry="3.6" stroke-width="2" style="fill:#2c452e"/>
<ellipse cx="2392" cy="1624.5" rx="5.5" ry="3.6" stroke-width="2" style="fill:#2c452e"/>
<path d="M2340 1630L2357 1630L2353 1640L2344 1640Z" stroke-width="3" style="fill:#2c452e"/>
<path d="M2414 1630L2397 1630L2401 1640L2410 1640Z" stroke-width="3" style="fill:#2c452e"/>
<path d="M2367.7 1633L2367.7 1752" stroke-width="4"/>
<path d="M2386.3 1633L2386.3 1752" stroke-width="4"/>
<path d="M2347 1672L2347 1822" stroke-width="9.5"/>
<path d="M2355 1700L2355 1722" stroke-width="3.5"/>
<path d="M2360 1719L2360 1760" stroke-width="11"/>
<path d="M2344 1667L2366 1667L2366 1672" stroke-width="4"/>
<circle cx="2348" cy="1681" r="8" stroke-width="3" style="fill:#2c452e"/>
<circle cx="2353" cy="1804" r="8" stroke-width="3" style="fill:#2c452e"/>
<path d="M2355 1822L2355 1832L2365 1832" stroke-width="4"/>
<path d="M2355 1760L2355 1822" stroke-width="3.5"/>
<rect x="2360" y="1752" width="34" height="48" rx="2" stroke-width="5"/>
<path d="M2362 1762L2392 1762" stroke-width="3"/>
<path d="M2362 1774L2392 1774" stroke-width="3"/>
<path d="M2362 1786L2392 1786" stroke-width="3"/>
<path d="M2372 1752L2372 1800" stroke-width="3"/>
<path d="M2382 1752L2382 1800" stroke-width="3"/>
<rect x="2363.5" y="1803" width="28" height="38" rx="3" stroke-width="8" style="fill:#2c452e"/>
<rect x="2361" y="1815" width="33" height="22" rx="5" stroke-width="6" style="fill:#2c452e"/>
<path d="M2363 1841L2369 1850L2385 1850L2391 1841Z" stroke-width="6" style="fill:#2c452e"/>
<rect x="2363" y="1852" width="28" height="22" rx="4" stroke-width="7" style="fill:#2c452e"/>
<rect x="2364.5" y="1872" width="25" height="20" rx="2" stroke-width="6"/>
<rect x="2346" y="1890.7" width="62" height="40" rx="2" stroke-width="5"/>
<circle cx="2352" cy="1897" r="5.5" stroke-width="3" style="fill:#2c452e"/>
<circle cx="2352" cy="1924" r="5.5" stroke-width="3" style="fill:#2c452e"/>
<circle cx="2352" cy="1937" r="4" stroke-width="3" style="fill:#2c452e"/>
<circle cx="2402" cy="1897" r="5.5" stroke-width="3" style="fill:#2c452e"/>
<circle cx="2402" cy="1924" r="5.5" stroke-width="3" style="fill:#2c452e"/>
<circle cx="2402" cy="1937" r="4" stroke-width="3" style="fill:#2c452e"/>
<path d="M2367 1897L2367 1924Q2367 1928 2371 1928L2383 1928Q2387 1928 2387 1924L2387 1897" stroke-width="4"/>
<path d="M2367 1905L2387 1905" stroke-width="3.5"/>
<rect x="2375" y="1893" width="4" height="6" stroke-width="2.5"/>
<rect x="2767.3" y="1567" width="9" height="60" rx="4" stroke-width="3"/>
<rect x="2821.8" y="1567" width="9" height="60" rx="4" stroke-width="3"/>
<rect x="2762.8" y="1618.5" width="73" height="14.5" stroke-width="4"/>
<ellipse cx="2783.8" cy="1624.5" rx="5.5" ry="3.6" stroke-width="2" style="fill:#2c452e"/>
<ellipse cx="2813.8" cy="1624.5" rx="5.5" ry="3.6" stroke-width="2" style="fill:#2c452e"/>
<path d="M2761.8 1630L2778.8 1630L2774.8 1640L2765.8 1640Z" stroke-width="3" style="fill:#2c452e"/>
<path d="M2835.8 1630L2818.8 1630L2822.8 1640L2831.8 1640Z" stroke-width="3" style="fill:#2c452e"/>
<path d="M2789.5 1633L2789.5 1752" stroke-width="4"/>
<path d="M2808.1 1633L2808.1 1752" stroke-width="4"/>
<path d="M2828.8 1672L2828.8 1822" stroke-width="9.5"/>
<path d="M2820.8 1700L2820.8 1722" stroke-width="3.5"/>
<path d="M2815.8 1719L2815.8 1760" stroke-width="11"/>
<path d="M2831.8 1667L2809.8 1667L2809.8 1672" stroke-width="4"/>
<circle cx="2827.8" cy="1681" r="8" stroke-width="3" style="fill:#2c452e"/>
<circle cx="2822.8" cy="1804" r="8" stroke-width="3" style="fill:#2c452e"/>
<path d="M2820.8 1822L2820.8 1832L2810.8 1832" stroke-width="4"/>
<path d="M2820.8 1760L2820.8 1822" stroke-width="3.5"/>
<rect x="2781.8" y="1752" width="34" height="48" rx="2" stroke-width="5"/>
<path d="M2783.8 1762L2813.8 1762" stroke-width="3"/>
<path d="M2783.8 1774L2813.8 1774" stroke-width="3"/>
<path d="M2783.8 1786L2813.8 1786" stroke-width="3"/>
<path d="M2793.8 1752L2793.8 1800" stroke-width="3"/>
<path d="M2803.8 1752L2803.8 1800" stroke-width="3"/>
<rect x="2785.3" y="1803" width="28" height="38" rx="3" stroke-width="8" style="fill:#2c452e"/>
<rect x="2782.8" y="1815" width="33" height="22" rx="5" stroke-width="6" style="fill:#2c452e"/>
<path d="M2784.8 1841L2790.8 1850L2806.8 1850L2812.8 1841Z" stroke-width="6" style="fill:#2c452e"/>
<rect x="2784.8" y="1852" width="28" height="22" rx="4" stroke-width="7" style="fill:#2c452e"/>
<rect x="2786.3" y="1872" width="25" height="20" rx="2" stroke-width="6"/>
<rect x="2767.8" y="1890.7" width="62" height="40" rx="2" stroke-width="5"/>
<circle cx="2773.8" cy="1897" r="5.5" stroke-width="3" style="fill:#2c452e"/>
<circle cx="2773.8" cy="1924" r="5.5" stroke-width="3" style="fill:#2c452e"/>
<circle cx="2773.8" cy="1937" r="4" stroke-width="3" style="fill:#2c452e"/>
<circle cx="2823.8" cy="1897" r="5.5" stroke-width="3" style="fill:#2c452e"/>
<circle cx="2823.8" cy="1924" r="5.5" stroke-width="3" style="fill:#2c452e"/>
<circle cx="2823.8" cy="1937" r="4" stroke-width="3" style="fill:#2c452e"/>
<path d="M2788.8 1897L2788.8 1924Q2788.8 1928 2792.8 1928L2804.8 1928Q2808.8 1928 2808.8 1924L2808.8 1897" stroke-width="4"/>
<path d="M2788.8 1905L2808.8 1905" stroke-width="3.5"/>
<rect x="2796.8" y="1893" width="4" height="6" stroke-width="2.5"/>
<rect x="3264.5" y="1567" width="9" height="60" rx="4" stroke-width="3"/>
<rect x="3319" y="1567" width="9" height="60" rx="4" stroke-width="3"/>
<rect x="3260" y="1618.5" width="73" height="14.5" stroke-width="4"/>
<ellipse cx="3281" cy="1624.5" rx="5.5" ry="3.6" stroke-width="2" style="fill:#2c452e"/>
<ellipse cx="3311" cy="1624.5" rx="5.5" ry="3.6" stroke-width="2" style="fill:#2c452e"/>
<path d="M3259 1630L3276 1630L3272 1640L3263 1640Z" stroke-width="3" style="fill:#2c452e"/>
<path d="M3333 1630L3316 1630L3320 1640L3329 1640Z" stroke-width="3" style="fill:#2c452e"/>
<path d="M3286.7 1633L3286.7 1752" stroke-width="4"/>
<path d="M3305.3 1633L3305.3 1752" stroke-width="4"/>
<path d="M3266 1672L3266 1822" stroke-width="9.5"/>
<path d="M3274 1700L3274 1722" stroke-width="3.5"/>
<path d="M3279 1719L3279 1760" stroke-width="11"/>
<path d="M3263 1667L3285 1667L3285 1672" stroke-width="4"/>
<circle cx="3267" cy="1681" r="8" stroke-width="3" style="fill:#2c452e"/>
<circle cx="3272" cy="1804" r="8" stroke-width="3" style="fill:#2c452e"/>
<path d="M3274 1822L3274 1832L3284 1832" stroke-width="4"/>
<path d="M3274 1760L3274 1822" stroke-width="3.5"/>
<rect x="3279" y="1752" width="34" height="48" rx="2" stroke-width="5"/>
<path d="M3281 1762L3311 1762" stroke-width="3"/>
<path d="M3281 1774L3311 1774" stroke-width="3"/>
<path d="M3281 1786L3311 1786" stroke-width="3"/>
<path d="M3291 1752L3291 1800" stroke-width="3"/>
<path d="M3301 1752L3301 1800" stroke-width="3"/>
<rect x="3282.5" y="1803" width="28" height="38" rx="3" stroke-width="8" style="fill:#2c452e"/>
<rect x="3280" y="1815" width="33" height="22" rx="5" stroke-width="6" style="fill:#2c452e"/>
<path d="M3282 1841L3288 1850L3304 1850L3310 1841Z" stroke-width="6" style="fill:#2c452e"/>
<rect x="3282" y="1852" width="28" height="22" rx="4" stroke-width="7" style="fill:#2c452e"/>
<rect x="3283.5" y="1872" width="25" height="20" rx="2" stroke-width="6"/>
<rect x="3265" y="1890.7" width="62" height="40" rx="2" stroke-width="5"/>
<circle cx="3271" cy="1897" r="5.5" stroke-width="3" style="fill:#2c452e"/>
<circle cx="3271" cy="1924" r="5.5" stroke-width="3" style="fill:#2c452e"/>
<circle cx="3271" cy="1937" r="4" stroke-width="3" style="fill:#2c452e"/>
<circle cx="3321" cy="1897" r="5.5" stroke-width="3" style="fill:#2c452e"/>
<circle cx="3321" cy="1924" r="5.5" stroke-width="3" style="fill:#2c452e"/>
<circle cx="3321" cy="1937" r="4" stroke-width="3" style="fill:#2c452e"/>
<path d="M3286 1897L3286 1924Q3286 1928 3290 1928L3302 1928Q3306 1928 3306 1924L3306 1897" stroke-width="4"/>
<path d="M3286 1905L3306 1905" stroke-width="3.5"/>
<rect x="3294" y="1893" width="4" height="6" stroke-width="2.5"/>
<rect x="3463.2" y="1567" width="9" height="60" rx="4" stroke-width="3"/>
<rect x="3517.7" y="1567" width="9" height="60" rx="4" stroke-width="3"/>
<rect x="3458.7" y="1618.5" width="73" height="14.5" stroke-width="4"/>
<ellipse cx="3479.7" cy="1624.5" rx="5.5" ry="3.6" stroke-width="2" style="fill:#2c452e"/>
<ellipse cx="3509.7" cy="1624.5" rx="5.5" ry="3.6" stroke-width="2" style="fill:#2c452e"/>
<path d="M3457.7 1630L3474.7 1630L3470.7 1640L3461.7 1640Z" stroke-width="3" style="fill:#2c452e"/>
<path d="M3531.7 1630L3514.7 1630L3518.7 1640L3527.7 1640Z" stroke-width="3" style="fill:#2c452e"/>
<path d="M3485.4 1633L3485.4 1752" stroke-width="4"/>
<path d="M3504 1633L3504 1752" stroke-width="4"/>
<path d="M3524.7 1672L3524.7 1822" stroke-width="9.5"/>
<path d="M3516.7 1700L3516.7 1722" stroke-width="3.5"/>
<path d="M3511.7 1719L3511.7 1760" stroke-width="11"/>
<path d="M3527.7 1667L3505.7 1667L3505.7 1672" stroke-width="4"/>
<circle cx="3523.7" cy="1681" r="8" stroke-width="3" style="fill:#2c452e"/>
<circle cx="3518.7" cy="1804" r="8" stroke-width="3" style="fill:#2c452e"/>
<path d="M3516.7 1822L3516.7 1832L3506.7 1832" stroke-width="4"/>
<path d="M3516.7 1760L3516.7 1822" stroke-width="3.5"/>
<rect x="3477.7" y="1752" width="34" height="48" rx="2" stroke-width="5"/>
<path d="M3479.7 1762L3509.7 1762" stroke-width="3"/>
<path d="M3479.7 1774L3509.7 1774" stroke-width="3"/>
<path d="M3479.7 1786L3509.7 1786" stroke-width="3"/>
<path d="M3489.7 1752L3489.7 1800" stroke-width="3"/>
<path d="M3499.7 1752L3499.7 1800" stroke-width="3"/>
<rect x="3481.2" y="1803" width="28" height="38" rx="3" stroke-width="8" style="fill:#2c452e"/>
<rect x="3478.7" y="1815" width="33" height="22" rx="5" stroke-width="6" style="fill:#2c452e"/>
<path d="M3480.7 1841L3486.7 1850L3502.7 1850L3508.7 1841Z" stroke-width="6" style="fill:#2c452e"/>
<rect x="3480.7" y="1852" width="28" height="22" rx="4" stroke-width="7" style="fill:#2c452e"/>
<rect x="3482.2" y="1872" width="25" height="20" rx="2" stroke-width="6"/>
<rect x="3463.7" y="1890.7" width="62" height="40" rx="2" stroke-width="5"/>
<circle cx="3469.7" cy="1897" r="5.5" stroke-width="3" style="fill:#2c452e"/>
<circle cx="3469.7" cy="1924" r="5.5" stroke-width="3" style="fill:#2c452e"/>
<circle cx="3469.7" cy="1937" r="4" stroke-width="3" style="fill:#2c452e"/>
<circle cx="3519.7" cy="1897" r="5.5" stroke-width="3" style="fill:#2c452e"/>
<circle cx="3519.7" cy="1924" r="5.5" stroke-width="3" style="fill:#2c452e"/>
<circle cx="3519.7" cy="1937" r="4" stroke-width="3" style="fill:#2c452e"/>
<path d="M3484.7 1897L3484.7 1924Q3484.7 1928 3488.7 1928L3500.7 1928Q3504.7 1928 3504.7 1924L3504.7 1897" stroke-width="4"/>
<path d="M3484.7 1905L3504.7 1905" stroke-width="3.5"/>
<rect x="3492.7" y="1893" width="4" height="6" stroke-width="2.5"/>
<rect x="3967.1" y="1567" width="9" height="60" rx="4" stroke-width="3"/>
<rect x="4021.6" y="1567" width="9" height="60" rx="4" stroke-width="3"/>
<rect x="3962.6" y="1618.5" width="73" height="14.5" stroke-width="4"/>
<ellipse cx="3983.6" cy="1624.5" rx="5.5" ry="3.6" stroke-width="2" style="fill:#2c452e"/>
<ellipse cx="4013.6" cy="1624.5" rx="5.5" ry="3.6" stroke-width="2" style="fill:#2c452e"/>
<path d="M3961.6 1630L3978.6 1630L3974.6 1640L3965.6 1640Z" stroke-width="3" style="fill:#2c452e"/>
<path d="M4035.6 1630L4018.6 1630L4022.6 1640L4031.6 1640Z" stroke-width="3" style="fill:#2c452e"/>
<path d="M3989.3 1633L3989.3 1752" stroke-width="4"/>
<path d="M4007.9 1633L4007.9 1752" stroke-width="4"/>
<path d="M3968.6 1672L3968.6 1822" stroke-width="9.5"/>
<path d="M3976.6 1700L3976.6 1722" stroke-width="3.5"/>
<path d="M3981.6 1719L3981.6 1760" stroke-width="11"/>
<path d="M3965.6 1667L3987.6 1667L3987.6 1672" stroke-width="4"/>
<circle cx="3969.6" cy="1681" r="8" stroke-width="3" style="fill:#2c452e"/>
<circle cx="3974.6" cy="1804" r="8" stroke-width="3" style="fill:#2c452e"/>
<path d="M3976.6 1822L3976.6 1832L3986.6 1832" stroke-width="4"/>
<path d="M3976.6 1760L3976.6 1822" stroke-width="3.5"/>
<rect x="3981.6" y="1752" width="34" height="48" rx="2" stroke-width="5"/>
<path d="M3983.6 1762L4013.6 1762" stroke-width="3"/>
<path d="M3983.6 1774L4013.6 1774" stroke-width="3"/>
<path d="M3983.6 1786L4013.6 1786" stroke-width="3"/>
<path d="M3993.6 1752L3993.6 1800" stroke-width="3"/>
<path d="M4003.6 1752L4003.6 1800" stroke-width="3"/>
<rect x="3985.1" y="1803" width="28" height="38" rx="3" stroke-width="8" style="fill:#2c452e"/>
<rect x="3982.6" y="1815" width="33" height="22" rx="5" stroke-width="6" style="fill:#2c452e"/>
<path d="M3984.6 1841L3990.6 1850L4006.6 1850L4012.6 1841Z" stroke-width="6" style="fill:#2c452e"/>
<rect x="3984.6" y="1852" width="28" height="22" rx="4" stroke-width="7" style="fill:#2c452e"/>
<rect x="3986.1" y="1872" width="25" height="20" rx="2" stroke-width="6"/>
<rect x="3967.6" y="1890.7" width="62" height="40" rx="2" stroke-width="5"/>
<circle cx="3973.6" cy="1897" r="5.5" stroke-width="3" style="fill:#2c452e"/>
<circle cx="3973.6" cy="1924" r="5.5" stroke-width="3" style="fill:#2c452e"/>
<circle cx="3973.6" cy="1937" r="4" stroke-width="3" style="fill:#2c452e"/>
<circle cx="4023.6" cy="1897" r="5.5" stroke-width="3" style="fill:#2c452e"/>
<circle cx="4023.6" cy="1924" r="5.5" stroke-width="3" style="fill:#2c452e"/>
<circle cx="4023.6" cy="1937" r="4" stroke-width="3" style="fill:#2c452e"/>
<path d="M3988.6 1897L3988.6 1924Q3988.6 1928 3992.6 1928L4004.6 1928Q4008.6 1928 4008.6 1924L4008.6 1897" stroke-width="4"/>
<path d="M3988.6 1905L4008.6 1905" stroke-width="3.5"/>
<rect x="3996.6" y="1893" width="4" height="6" stroke-width="2.5"/>
<rect x="4161.5" y="1567" width="9" height="60" rx="4" stroke-width="3"/>
<rect x="4216" y="1567" width="9" height="60" rx="4" stroke-width="3"/>
<rect x="4157" y="1618.5" width="73" height="14.5" stroke-width="4"/>
<ellipse cx="4178" cy="1624.5" rx="5.5" ry="3.6" stroke-width="2" style="fill:#2c452e"/>
<ellipse cx="4208" cy="1624.5" rx="5.5" ry="3.6" stroke-width="2" style="fill:#2c452e"/>
<path d="M4156 1630L4173 1630L4169 1640L4160 1640Z" stroke-width="3" style="fill:#2c452e"/>
<path d="M4230 1630L4213 1630L4217 1640L4226 1640Z" stroke-width="3" style="fill:#2c452e"/>
<path d="M4183.7 1633L4183.7 1752" stroke-width="4"/>
<path d="M4202.3 1633L4202.3 1752" stroke-width="4"/>
<path d="M4223 1672L4223 1822" stroke-width="9.5"/>
<path d="M4215 1700L4215 1722" stroke-width="3.5"/>
<path d="M4210 1719L4210 1760" stroke-width="11"/>
<path d="M4226 1667L4204 1667L4204 1672" stroke-width="4"/>
<circle cx="4222" cy="1681" r="8" stroke-width="3" style="fill:#2c452e"/>
<circle cx="4217" cy="1804" r="8" stroke-width="3" style="fill:#2c452e"/>
<path d="M4215 1822L4215 1832L4205 1832" stroke-width="4"/>
<path d="M4215 1760L4215 1822" stroke-width="3.5"/>
<rect x="4176" y="1752" width="34" height="48" rx="2" stroke-width="5"/>
<path d="M4178 1762L4208 1762" stroke-width="3"/>
<path d="M4178 1774L4208 1774" stroke-width="3"/>
<path d="M4178 1786L4208 1786" stroke-width="3"/>
<path d="M4188 1752L4188 1800" stroke-width="3"/>
<path d="M4198 1752L4198 1800" stroke-width="3"/>
<rect x="4179.5" y="1803" width="28" height="38" rx="3" stroke-width="8" style="fill:#2c452e"/>
<rect x="4177" y="1815" width="33" height="22" rx="5" stroke-width="6" style="fill:#2c452e"/>
<path d="M4179 1841L4185 1850L4201 1850L4207 1841Z" stroke-width="6" style="fill:#2c452e"/>
<rect x="4179" y="1852" width="28" height="22" rx="4" stroke-width="7" style="fill:#2c452e"/>
<rect x="4180.5" y="1872" width="25" height="20" rx="2" stroke-width="6"/>
<rect x="4162" y="1890.7" width="62" height="40" rx="2" stroke-width="5"/>
<circle cx="4168" cy="1897" r="5.5" stroke-width="3" style="fill:#2c452e"/>
<circle cx="4168" cy="1924" r="5.5" stroke-width="3" style="fill:#2c452e"/>
<circle cx="4168" cy="1937" r="4" stroke-width="3" style="fill:#2c452e"/>
<circle cx="4218" cy="1897" r="5.5" stroke-width="3" style="fill:#2c452e"/>
<circle cx="4218" cy="1924" r="5.5" stroke-width="3" style="fill:#2c452e"/>
<circle cx="4218" cy="1937" r="4" stroke-width="3" style="fill:#2c452e"/>
<path d="M4183 1897L4183 1924Q4183 1928 4187 1928L4199 1928Q4203 1928 4203 1924L4203 1897" stroke-width="4"/>
<path d="M4183 1905L4203 1905" stroke-width="3.5"/>
<rect x="4191" y="1893" width="4" height="6" stroke-width="2.5"/>
<path d="M744.2 1901.5L945.7 1901.5" stroke-width="4"/>
<path d="M1007.7 1901.5L1139.7 1901.5" stroke-width="4"/>
<path d="M1201.7 1901.5L1424.4 1901.5" stroke-width="4"/>
<path d="M746.2 1932.6L1422.4 1932.6" stroke-width="6"/>
<path d="M743.7 1897L743.7 1987" stroke-width="7"/>
<path d="M1424.9 1897L1424.9 1987" stroke-width="7"/>
<rect x="739.7" y="1928" width="9" height="58" rx="2" stroke-width="5" style="fill:#2c452e"/>
<rect x="1419.9" y="1928" width="9" height="58" rx="2" stroke-width="5" style="fill:#2c452e"/>
<rect x="750.2" y="1936" width="10" height="52" rx="3" stroke-width="5" style="fill:#2c452e"/>
<rect x="1408.4" y="1936" width="10" height="52" rx="3" stroke-width="5" style="fill:#2c452e"/>
<path d="M751.7 1934L751.7 2006.5" stroke-width="6.5"/>
<path d="M765.2 1934L765.2 2006.5" stroke-width="6.5"/>
<path d="M1416.9 1934L1416.9 2006.5" stroke-width="6.5"/>
<path d="M1400.6 1934L1400.6 2006.5" stroke-width="6.5"/>
<path d="M1330.6 1934L1330.6 2006.5" stroke-width="6.5"/>
<path d="M1260.6 1934L1260.6 2006.5" stroke-width="6.5"/>
<path d="M1190.6 1934L1190.6 2006.5" stroke-width="6.5"/>
<path d="M1120.6 1934L1120.6 2006.5" stroke-width="6.5"/>
<path d="M1050.6 1934L1050.6 2006.5" stroke-width="6.5"/>
<path d="M980.6 1934L980.6 2006.5" stroke-width="6.5"/>
<path d="M910.6 1934L910.6 2006.5" stroke-width="6.5"/>
<path d="M840.6 1934L840.6 2006.5" stroke-width="6.5"/>
<rect x="761.2" y="1945" width="30" height="24.5" rx="2" stroke-width="5"/>
<rect x="788.2" y="1949" width="5" height="16" rx="2" stroke-width="4" style="fill:#2c452e"/>
<rect x="1380.4" y="1944" width="22" height="25.5" rx="2" stroke-width="5"/>
<rect x="1375.4" y="1946" width="6" height="18" rx="3" stroke-width="5" style="fill:#2c452e"/>
<path d="M748.2 1988.5L1380.4 1950" stroke-width="9.5"/>
<path d="M1444.6 1901.5L1642.9 1901.5" stroke-width="4"/>
<path d="M1704.9 1901.5L1837.8 1901.5" stroke-width="4"/>
<path d="M1899.8 1901.5L2125.8 1901.5" stroke-width="4"/>
<path d="M1446.6 1932.6L2123.8 1932.6" stroke-width="6"/>
<path d="M1444.1 1897L1444.1 1987" stroke-width="7"/>
<path d="M2126.3 1897L2126.3 1987" stroke-width="7"/>
<rect x="1440.1" y="1928" width="9" height="58" rx="2" stroke-width="5" style="fill:#2c452e"/>
<rect x="2121.3" y="1928" width="9" height="58" rx="2" stroke-width="5" style="fill:#2c452e"/>
<rect x="1450.6" y="1936" width="10" height="52" rx="3" stroke-width="5" style="fill:#2c452e"/>
<rect x="2109.8" y="1936" width="10" height="52" rx="3" stroke-width="5" style="fill:#2c452e"/>
<path d="M1452.1 1934L1452.1 2006.5" stroke-width="6.5"/>
<path d="M1465.6 1934L1465.6 2006.5" stroke-width="6.5"/>
<path d="M2118.3 1934L2118.3 2006.5" stroke-width="6.5"/>
<path d="M2102 1934L2102 2006.5" stroke-width="6.5"/>
<path d="M2032 1934L2032 2006.5" stroke-width="6.5"/>
<path d="M1962 1934L1962 2006.5" stroke-width="6.5"/>
<path d="M1892 1934L1892 2006.5" stroke-width="6.5"/>
<path d="M1822 1934L1822 2006.5" stroke-width="6.5"/>
<path d="M1752 1934L1752 2006.5" stroke-width="6.5"/>
<path d="M1682 1934L1682 2006.5" stroke-width="6.5"/>
<path d="M1612 1934L1612 2006.5" stroke-width="6.5"/>
<path d="M1542 1934L1542 2006.5" stroke-width="6.5"/>
<rect x="1461.6" y="1945" width="30" height="24.5" rx="2" stroke-width="5"/>
<rect x="1488.6" y="1949" width="5" height="16" rx="2" stroke-width="4" style="fill:#2c452e"/>
<rect x="2081.8" y="1944" width="22" height="25.5" rx="2" stroke-width="5"/>
<rect x="2076.8" y="1946" width="6" height="18" rx="3" stroke-width="5" style="fill:#2c452e"/>
<path d="M1448.6 1988.5L2081.8 1950" stroke-width="9.5"/>
<path d="M2147.6 1901.5L2346 1901.5" stroke-width="4"/>
<path d="M2408 1901.5L2767.8 1901.5" stroke-width="4"/>
<path d="M2829.8 1901.5L3030.4 1901.5" stroke-width="4"/>
<path d="M2149.6 1932.6L3028.4 1932.6" stroke-width="6"/>
<path d="M2147.1 1897L2147.1 1987" stroke-width="7"/>
<path d="M3030.9 1897L3030.9 1987" stroke-width="7"/>
<rect x="2143.1" y="1928" width="9" height="58" rx="2" stroke-width="5" style="fill:#2c452e"/>
<rect x="3025.9" y="1928" width="9" height="58" rx="2" stroke-width="5" style="fill:#2c452e"/>
<rect x="2153.6" y="1936" width="10" height="52" rx="3" stroke-width="5" style="fill:#2c452e"/>
<rect x="3014.4" y="1936" width="10" height="52" rx="3" stroke-width="5" style="fill:#2c452e"/>
<path d="M2155.1 1934L2155.1 2006.5" stroke-width="6.5"/>
<path d="M2168.6 1934L2168.6 2006.5" stroke-width="6.5"/>
<path d="M3022.9 1934L3022.9 2006.5" stroke-width="6.5"/>
<path d="M3006.6 1934L3006.6 2006.5" stroke-width="6.5"/>
<path d="M2936.6 1934L2936.6 2006.5" stroke-width="6.5"/>
<path d="M2866.6 1934L2866.6 2006.5" stroke-width="6.5"/>
<path d="M2796.6 1934L2796.6 2006.5" stroke-width="6.5"/>
<path d="M2726.6 1934L2726.6 2006.5" stroke-width="6.5"/>
<path d="M2656.6 1934L2656.6 2006.5" stroke-width="6.5"/>
<path d="M2586.6 1934L2586.6 2006.5" stroke-width="6.5"/>
<path d="M2516.6 1934L2516.6 2006.5" stroke-width="6.5"/>
<path d="M2446.6 1934L2446.6 2006.5" stroke-width="6.5"/>
<path d="M2376.6 1934L2376.6 2006.5" stroke-width="6.5"/>
<path d="M2306.6 1934L2306.6 2006.5" stroke-width="6.5"/>
<path d="M2236.6 1934L2236.6 2006.5" stroke-width="6.5"/>
<rect x="2164.6" y="1945" width="30" height="24.5" rx="2" stroke-width="5"/>
<rect x="2191.6" y="1949" width="5" height="16" rx="2" stroke-width="4" style="fill:#2c452e"/>
<rect x="2986.4" y="1944" width="22" height="25.5" rx="2" stroke-width="5"/>
<rect x="2981.4" y="1946" width="6" height="18" rx="3" stroke-width="5" style="fill:#2c452e"/>
<path d="M2151.6 1997.5L2986.4 1950" stroke-width="9.5"/>
<path d="M3047.6 1901.5L3265 1901.5" stroke-width="4"/>
<path d="M3327 1901.5L3463.7 1901.5" stroke-width="4"/>
<path d="M3525.7 1901.5L3728.6 1901.5" stroke-width="4"/>
<path d="M3049.6 1932.6L3726.6 1932.6" stroke-width="6"/>
<path d="M3047.1 1897L3047.1 1987" stroke-width="7"/>
<path d="M3729.1 1897L3729.1 1987" stroke-width="7"/>
<rect x="3043.1" y="1928" width="9" height="58" rx="2" stroke-width="5" style="fill:#2c452e"/>
<rect x="3724.1" y="1928" width="9" height="58" rx="2" stroke-width="5" style="fill:#2c452e"/>
<rect x="3053.6" y="1936" width="10" height="52" rx="3" stroke-width="5" style="fill:#2c452e"/>
<rect x="3712.6" y="1936" width="10" height="52" rx="3" stroke-width="5" style="fill:#2c452e"/>
<path d="M3055.1 1934L3055.1 2006.5" stroke-width="6.5"/>
<path d="M3068.6 1934L3068.6 2006.5" stroke-width="6.5"/>
<path d="M3721.1 1934L3721.1 2006.5" stroke-width="6.5"/>
<path d="M3704.8 1934L3704.8 2006.5" stroke-width="6.5"/>
<path d="M3634.8 1934L3634.8 2006.5" stroke-width="6.5"/>
<path d="M3564.8 1934L3564.8 2006.5" stroke-width="6.5"/>
<path d="M3494.8 1934L3494.8 2006.5" stroke-width="6.5"/>
<path d="M3424.8 1934L3424.8 2006.5" stroke-width="6.5"/>
<path d="M3354.8 1934L3354.8 2006.5" stroke-width="6.5"/>
<path d="M3284.8 1934L3284.8 2006.5" stroke-width="6.5"/>
<path d="M3214.8 1934L3214.8 2006.5" stroke-width="6.5"/>
<path d="M3144.8 1934L3144.8 2006.5" stroke-width="6.5"/>
<rect x="3064.6" y="1945" width="30" height="24.5" rx="2" stroke-width="5"/>
<rect x="3091.6" y="1949" width="5" height="16" rx="2" stroke-width="4" style="fill:#2c452e"/>
<rect x="3684.6" y="1944" width="22" height="25.5" rx="2" stroke-width="5"/>
<rect x="3679.6" y="1946" width="6" height="18" rx="3" stroke-width="5" style="fill:#2c452e"/>
<path d="M3051.6 1988.5L3684.6 1950" stroke-width="9.5"/>
<path d="M3750.4 1901.5L3967.6 1901.5" stroke-width="4"/>
<path d="M4029.6 1901.5L4162 1901.5" stroke-width="4"/>
<path d="M4224 1901.5L4431.6 1901.5" stroke-width="4"/>
<path d="M3752.4 1932.6L4429.6 1932.6" stroke-width="6"/>
<path d="M3749.9 1897L3749.9 1987" stroke-width="7"/>
<path d="M4432.1 1897L4432.1 1987" stroke-width="7"/>
<rect x="3745.9" y="1928" width="9" height="58" rx="2" stroke-width="5" style="fill:#2c452e"/>
<rect x="4427.1" y="1928" width="9" height="58" rx="2" stroke-width="5" style="fill:#2c452e"/>
<rect x="3756.4" y="1936" width="10" height="52" rx="3" stroke-width="5" style="fill:#2c452e"/>
<rect x="4415.6" y="1936" width="10" height="52" rx="3" stroke-width="5" style="fill:#2c452e"/>
<path d="M3757.9 1934L3757.9 2006.5" stroke-width="6.5"/>
<path d="M3771.4 1934L3771.4 2006.5" stroke-width="6.5"/>
<path d="M4424.1 1934L4424.1 2006.5" stroke-width="6.5"/>
<path d="M4407.8 1934L4407.8 2006.5" stroke-width="6.5"/>
<path d="M4337.8 1934L4337.8 2006.5" stroke-width="6.5"/>
<path d="M4267.8 1934L4267.8 2006.5" stroke-width="6.5"/>
<path d="M4197.8 1934L4197.8 2006.5" stroke-width="6.5"/>
<path d="M4127.8 1934L4127.8 2006.5" stroke-width="6.5"/>
<path d="M4057.8 1934L4057.8 2006.5" stroke-width="6.5"/>
<path d="M3987.8 1934L3987.8 2006.5" stroke-width="6.5"/>
<path d="M3917.8 1934L3917.8 2006.5" stroke-width="6.5"/>
<path d="M3847.8 1934L3847.8 2006.5" stroke-width="6.5"/>
<rect x="3767.4" y="1945" width="30" height="24.5" rx="2" stroke-width="5"/>
<rect x="3794.4" y="1949" width="5" height="16" rx="2" stroke-width="4" style="fill:#2c452e"/>
<rect x="4387.6" y="1944" width="22" height="25.5" rx="2" stroke-width="5"/>
<rect x="4382.6" y="1946" width="6" height="18" rx="3" stroke-width="5" style="fill:#2c452e"/>
<path d="M3754.4 1988.5L4387.6 1950" stroke-width="9.5"/>
<path d="M765 1476.7L990 1476.7" stroke-width="2"/>
<path d="M854.8 1476.7L806.3 1486.5L806.3 1466.9Z" stroke-width="2" style="fill:#2c452e"/>
<path d="M941 1476.7L989.5 1466.9L989.5 1486.5Z" stroke-width="2" style="fill:#2c452e"/>
<path d="M941 1464L941 1572" stroke-width="2"/>
<g class="t" transform="matrix(2.0099 0 -0.6126 2.2857 901.6 1462)" stroke-width="4.4"><use href="#g32" x="0"/><use href="#g31" x="10.4"/><use href="#g31" x="18.7"/></g>
<path d="M1045.7 1460.7L1255 1460.7" stroke-width="2"/>
<path d="M1134.9 1460.7L1086.4 1470.5L1086.4 1450.9Z" stroke-width="2" style="fill:#2c452e"/>
<path d="M1205.3 1460.7L1253.8 1450.9L1253.8 1470.5Z" stroke-width="2" style="fill:#2c452e"/>
<path d="M1205.3 1448L1205.3 1572" stroke-width="2"/>
<g class="t" transform="matrix(2.0010 0 -0.6126 2.2857 1178.7 1444.7)" stroke-width="4.4"><use href="#g31" x="0"/><use href="#g37" x="8.3"/><use href="#g30" x="18.7"/></g>
<path d="M1621.7 1472.7L1822.6 1472.7" stroke-width="2"/>
<path d="M1709.5 1472.7L1661 1482.5L1661 1462.9Z" stroke-width="2" style="fill:#2c452e"/>
<path d="M1734.9 1472.7L1783.4 1462.9L1783.4 1482.5Z" stroke-width="2" style="fill:#2c452e"/>
<path d="M1709.5 1459L1709.5 1570" stroke-width="2"/>
<g class="t" transform="matrix(2.0746 0 -0.6126 2.2857 1623 1456.6)" stroke-width="4.4"><use href="#g36" x="0"/><use href="#g30" x="10.4"/></g>
<path d="M1903.5 1477.4L2014.3 1477.4" stroke-width="2"/>
<path d="M1903.5 1477.4L1952 1467.6L1952 1487.2Z" stroke-width="2" style="fill:#2c452e"/>
<path d="M2014.3 1477.4L1965.8 1487.2L1965.8 1467.6Z" stroke-width="2" style="fill:#2c452e"/>
<path d="M1882.7 1477.4L1903.5 1477.4" stroke-width="2"/>
<path d="M1903.5 1461L1903.5 1570" stroke-width="2"/>
<g class="t" transform="matrix(2.2034 0 -0.6126 2.2857 1884 1463.5)" stroke-width="4.4"><use href="#g32" x="0"/><use href="#g37" x="10.4"/><use href="#g31" x="20.8"/></g>
<path d="M2340.6 1477.4L2503.2 1477.4" stroke-width="2"/>
<path d="M2340.6 1477.4L2389.1 1467.6L2389.1 1487.2Z" stroke-width="2" style="fill:#2c452e"/>
<path d="M2503.2 1477.4L2454.7 1487.2L2454.7 1467.6Z" stroke-width="2" style="fill:#2c452e"/>
<path d="M2266 1477.4L2340.6 1477.4" stroke-width="2"/>
<path d="M2340.6 1464L2340.6 1584" stroke-width="2"/>
<g class="t" transform="matrix(1.9934 0 -0.6126 2.2857 2268.4 1461.2)" stroke-width="4.4"><use href="#g34" x="0"/><use href="#g30" x="10.4"/><use href="#g30" x="20.8"/></g>
<path d="M2537.9 1464.4L2761.9 1464.4" stroke-width="2"/>
<path d="M2537.9 1464.4L2586.4 1454.6L2586.4 1474.2Z" stroke-width="2" style="fill:#2c452e"/>
<path d="M2761.9 1464.4L2713.4 1474.2L2713.4 1454.6Z" stroke-width="2" style="fill:#2c452e"/>
<path d="M2761.9 1464.4L2773.4 1464.4" stroke-width="2"/>
<path d="M2761.9 1449.7L2761.9 1584" stroke-width="2"/>
<g class="t" transform="matrix(1.9710 0 -0.6126 2.2857 2708.8 1448.7)" stroke-width="4.4"><use href="#g35" x="0"/><use href="#g34" x="10.4"/><use href="#g36" x="20.8"/></g>
<path d="M3209 1453.8L3366.3 1453.8" stroke-width="2"/>
<path d="M3264.7 1453.8L3216.2 1463.6L3216.2 1444Z" stroke-width="2" style="fill:#2c452e"/>
<path d="M3276.2 1453.8L3324.7 1444L3324.7 1463.6Z" stroke-width="2" style="fill:#2c452e"/>
<path d="M3264.7 1438L3264.7 1584" stroke-width="2"/>
<g class="t" transform="matrix(1.9527 0 -0.6126 2.2857 3210.2 1438)" stroke-width="4.4"><use href="#g32" x="0"/><use href="#g39" x="10.4"/></g>
<path d="M3458.7 1445L3698.8 1445" stroke-width="2"/>
<path d="M3458.7 1445L3507.2 1435.2L3507.2 1454.8Z" stroke-width="2" style="fill:#2c452e"/>
<path d="M3698.8 1445L3650.3 1454.8L3650.3 1435.2Z" stroke-width="2" style="fill:#2c452e"/>
<path d="M3458.7 1431L3458.7 1584" stroke-width="2"/>
<g class="t" transform="matrix(2.0084 0 -0.6126 2.2857 3546.4 1428)" stroke-width="4.4"><use href="#g35" x="0"/><use href="#g38" x="10.4"/><use href="#g30" x="20.8"/></g>
<path d="M3800.5 1470.4L3964.4 1470.4" stroke-width="2"/>
<path d="M3800.5 1470.4L3849 1460.6L3849 1480.2Z" stroke-width="2" style="fill:#2c452e"/>
<path d="M3964.4 1470.4L3915.9 1480.2L3915.9 1460.6Z" stroke-width="2" style="fill:#2c452e"/>
<path d="M3964.4 1470.4L4022.2 1470.4" stroke-width="2"/>
<path d="M3964.4 1459L3964.4 1584" stroke-width="2"/>
<g class="t" transform="matrix(1.9188 0 -0.6126 2.2857 3957.5 1453.3)" stroke-width="4.4"><use href="#g33" x="0"/><use href="#g39" x="10.4"/><use href="#g36" x="20.8"/></g>
<path d="M4158.4 1470.4L4329.3 1470.4" stroke-width="2"/>
<path d="M4158.4 1470.4L4206.9 1460.6L4206.9 1480.2Z" stroke-width="2" style="fill:#2c452e"/>
<path d="M4329.3 1470.4L4280.8 1480.2L4280.8 1460.6Z" stroke-width="2" style="fill:#2c452e"/>
<path d="M4140 1470.4L4158.4 1470.4" stroke-width="2"/>
<path d="M4158.4 1459L4158.4 1584" stroke-width="2"/>
<g class="t" transform="matrix(1.8957 0 -0.6126 2.2857 4142.3 1453.3)" stroke-width="4.4"><use href="#g34" x="0"/><use href="#g31" x="10.4"/><use href="#g35" x="18.7"/></g>
<path d="M1199.8 2172.6L1429.3 2172.6" stroke-width="2"/>
<path d="M1199.8 2172.6L1248.3 2162.8L1248.3 2182.4Z" stroke-width="2" style="fill:#2c452e"/>
<path d="M1429.3 2172.6L1380.8 2182.4L1380.8 2162.8Z" stroke-width="2" style="fill:#2c452e"/>
<path d="M1199.8 1936L1199.8 2185" stroke-width="2"/>
<path d="M1429.3 2010L1429.3 2192" stroke-width="2"/>
<path d="M1442.3 2010L1442.3 2192" stroke-width="2"/>
<g class="t" transform="matrix(1.9766 0 -0.6126 2.2857 1252 2156)" stroke-width="4.4"><use href="#g35" x="0"/><use href="#g35" x="10.4"/><use href="#g30" x="20.8"/><use href="#g2c" x="31.2"/><use href="#g35" x="35.7"/></g>
<path d="M1338.3 2078.9L1510 2078.9" stroke-width="2"/>
<path d="M1429.3 2078.9L1380.8 2088.7L1380.8 2069.1Z" stroke-width="2" style="fill:#2c452e"/>
<path d="M1442.3 2078.9L1490.8 2069.1L1490.8 2088.7Z" stroke-width="2" style="fill:#2c452e"/>
<g class="t" transform="matrix(1.7332 0 -0.6126 2.2857 1468.4 2061.8)" stroke-width="4.4"><use href="#g33" x="0"/><use href="#g34" x="10.4"/></g>
<path d="M1441.6 2172.6L1644.8 2172.6" stroke-width="2"/>
<path d="M1441.6 2172.6L1490.1 2162.8L1490.1 2182.4Z" stroke-width="2" style="fill:#2c452e"/>
<path d="M1644.8 2172.6L1596.3 2182.4L1596.3 2162.8Z" stroke-width="2" style="fill:#2c452e"/>
<path d="M1644.8 1936L1644.8 2185" stroke-width="2"/>
<g class="t" transform="matrix(2.0054 0 -0.6126 2.2857 1487.8 2156)" stroke-width="4.4"><use href="#g34" x="0"/><use href="#g39" x="10.4"/><use href="#g30" x="20.8"/><use href="#g2c" x="31.2"/><use href="#g35" x="35.7"/></g>
<path d="M2044.3 2107.5L2190.8 2107.5" stroke-width="2"/>
<path d="M2129.8 2107.5L2081.3 2117.3L2081.3 2097.7Z" stroke-width="2" style="fill:#2c452e"/>
<path d="M2142.3 2107.5L2190.8 2097.7L2190.8 2117.3Z" stroke-width="2" style="fill:#2c452e"/>
<path d="M2129.8 2010L2129.8 2120" stroke-width="2"/>
<g class="t" transform="matrix(1.6478 0 -0.6126 2.2857 2045.7 2090.4)" stroke-width="4.4"><use href="#g33" x="0"/><use href="#g34" x="10.4"/></g>
<path d="M2142.3 2108.5L2344.6 2108.5" stroke-width="2"/>
<path d="M2344.6 2108.5L2296.1 2118.3L2296.1 2098.7Z" stroke-width="2" style="fill:#2c452e"/>
<path d="M2344.6 1938L2344.6 2120.4" stroke-width="2"/>
<g class="t" transform="matrix(2.0653 0 -0.6126 2.2857 2180.6 2091.3)" stroke-width="4.4"><use href="#g34" x="0"/><use href="#g38" x="10.4"/><use href="#g37" x="20.8"/><use href="#g2c" x="31.2"/><use href="#g35" x="35.7"/></g>
<path d="M2142.3 2181.9L3031.2 2181.9" stroke-width="2"/>
<path d="M2142.3 2181.9L2190.8 2172.1L2190.8 2191.7Z" stroke-width="2" style="fill:#2c452e"/>
<path d="M3031.2 2181.9L2982.7 2191.7L2982.7 2172.1Z" stroke-width="2" style="fill:#2c452e"/>
<path d="M2142.3 2010L2142.3 2194" stroke-width="2"/>
<path d="M3031.2 2010L3031.2 2194" stroke-width="2"/>
<path d="M3044.6 2010L3044.6 2110" stroke-width="2"/>
<g class="t" transform="matrix(2.0548 0 -0.6126 2.2857 2496.3 2166.6)" stroke-width="4.4"><use href="#g32" x="0"/><use href="#g31" x="10.4"/><use href="#g34" x="18.7"/><use href="#g38" x="29.1"/></g>
<path d="M2943 2097.3L3141.6 2097.3" stroke-width="2"/>
<path d="M3031.2 2097.3L2982.7 2107.1L2982.7 2087.5Z" stroke-width="2" style="fill:#2c452e"/>
<path d="M3044.6 2097.3L3093.1 2087.5L3093.1 2107.1Z" stroke-width="2" style="fill:#2c452e"/>
<g class="t" transform="matrix(1.6417 0 -0.6126 2.2857 3100.5 2080.3)" stroke-width="4.4"><use href="#g33" x="0"/><use href="#g34" x="10.4"/></g>
<path d="M3523.3 2177.3L3732.6 2177.3" stroke-width="2"/>
<path d="M3523.3 2177.3L3571.8 2167.5L3571.8 2187.1Z" stroke-width="2" style="fill:#2c452e"/>
<path d="M3732.6 2177.3L3684.1 2187.1L3684.1 2167.5Z" stroke-width="2" style="fill:#2c452e"/>
<path d="M3523.3 1938L3523.3 2189.7" stroke-width="2"/>
<path d="M3732.6 2010L3732.6 2189.7" stroke-width="2"/>
<path d="M3746.4 2010L3746.4 2182" stroke-width="2"/>
<g class="t" transform="matrix(1.9526 0 -0.6126 2.2857 3590.3 2160.6)" stroke-width="4.4"><use href="#g35" x="0"/><use href="#g30" x="10.4"/><use href="#g33" x="20.8"/><use href="#g2c" x="31.2"/><use href="#g35" x="35.7"/></g>
<path d="M3643.4 2082.6L3849 2082.6" stroke-width="2"/>
<path d="M3732.6 2082.6L3684.1 2092.4L3684.1 2072.8Z" stroke-width="2" style="fill:#2c452e"/>
<path d="M3746.4 2082.6L3794.9 2072.8L3794.9 2092.4Z" stroke-width="2" style="fill:#2c452e"/>
<g class="t" transform="matrix(1.7332 0 -0.6126 2.2857 3805 2065)" stroke-width="4.4"><use href="#g33" x="0"/><use href="#g34" x="10.4"/></g>
<path d="M3746.4 2169L4435.6 2169" stroke-width="2"/>
<path d="M3746.4 2169L3794.9 2159.2L3794.9 2178.8Z" stroke-width="2" style="fill:#2c452e"/>
<path d="M4435.6 2169L4387.1 2178.8L4387.1 2159.2Z" stroke-width="2" style="fill:#2c452e"/>
<path d="M4435.6 2010L4435.6 2180.5" stroke-width="2"/>
<g class="t" transform="matrix(1.8582 0 -0.6126 2.2857 4149.2 2152.8)" stroke-width="4.4"><use href="#g31" x="0"/><use href="#g36" x="8.3"/><use href="#g36" x="18.7"/><use href="#g34" x="29.1"/></g>
<path d="M4223 2072L4435.6 2072" stroke-width="2"/>
<path d="M4223 2072L4271.5 2062.2L4271.5 2081.8Z" stroke-width="2" style="fill:#2c452e"/>
<path d="M4435.6 2072L4387.1 2081.8L4387.1 2062.2Z" stroke-width="2" style="fill:#2c452e"/>
<path d="M4223 1938L4223 2083.5" stroke-width="2"/>
<g class="t" transform="matrix(1.9260 0 -0.6126 2.2857 4276.2 2054.4)" stroke-width="4.4"><use href="#g35" x="0"/><use href="#g31" x="10.4"/><use href="#g31" x="18.7"/><use href="#g2c" x="27"/><use href="#g35" x="31.5"/></g>
<circle cx="634" cy="1721.8" r="41.6" stroke-width="4.5"/>
<path d="M674.6 1712.6L727.1 1700.7" stroke-width="4.5"/>
<path d="M756.4 1694.1L711.3 1714.4L706.9 1695.2Z" stroke-width="2" style="fill:#2c452e"/>
<g class="t" transform="matrix(3.1000 0 -0.8308 3.1000 620.6 1747.8)" stroke-width="4"><use href="#g31" x="0"/></g>
<circle cx="1025.2" cy="2130.6" r="41.6" stroke-width="4.5"/>
<path d="M1030.9 2089.4L1052.9 1932.2" stroke-width="4.5"/>
<path d="M1057 1902.5L1060 1951.9L1040.6 1949.2Z" stroke-width="2" style="fill:#2c452e"/>
<g class="t" transform="matrix(3.1000 0 -0.8308 3.1000 1009.2 2156.6)" stroke-width="4"><use href="#g33" x="0"/></g>
<circle cx="1460" cy="1808.7" r="41.6" stroke-width="4.5"/>
<path d="M1490.5 1780.4L1552.6 1722.8" stroke-width="4.5"/>
<path d="M1574.6 1702.4L1545.7 1742.6L1532.4 1728.2Z" stroke-width="2" style="fill:#2c452e"/>
<g class="t" transform="matrix(3.1000 0 -0.8308 3.1000 1446.6 1834.7)" stroke-width="4"><use href="#g31" x="0"/></g>
<circle cx="1797.2" cy="2129.7" r="41.6" stroke-width="4.5"/>
<path d="M1797.4 2088.1L1798.1 1933.3" stroke-width="4.5"/>
<path d="M1798.2 1903.3L1807.8 1951.8L1788.2 1951.8Z" stroke-width="2" style="fill:#2c452e"/>
<g class="t" transform="matrix(3.1000 0 -0.8308 3.1000 1781.2 2155.7)" stroke-width="4"><use href="#g33" x="0"/></g>
<circle cx="2157.5" cy="1801.7" r="41.6" stroke-width="4.5"/>
<path d="M2187.8 1773.2L2241.9 1722.1" stroke-width="4.5"/>
<path d="M2263.7 1701.5L2235.1 1741.9L2221.7 1727.7Z" stroke-width="2" style="fill:#2c452e"/>
<g class="t" transform="matrix(3.1000 0 -0.8308 3.1000 2141.5 1827.7)" stroke-width="4"><use href="#g32" x="0"/></g>
<circle cx="2744.3" cy="2077.5" r="41.6" stroke-width="4.5"/>
<path d="M2721.5 2042.7L2646.7 1928.4" stroke-width="4.5"/>
<path d="M2630.3 1903.3L2665.1 1938.5L2648.7 1949.2Z" stroke-width="2" style="fill:#2c452e"/>
<g class="t" transform="matrix(3.1000 0 -0.8308 3.1000 2728.3 2103.5)" stroke-width="4"><use href="#g34" x="0"/></g>
<circle cx="3136" cy="1755.5" r="41.6" stroke-width="4.5"/>
<path d="M3193.8 1787.9L3146.7 1772.7L3156.3 1755.6Z" stroke-width="2" style="fill:#2c452e"/>
<g class="t" transform="matrix(3.1000 0 -0.8308 3.1000 3122.6 1781.5)" stroke-width="4"><use href="#g31" x="0"/></g>
<circle cx="3427.3" cy="2088.1" r="41.6" stroke-width="4.5"/>
<path d="M3417.5 2047.7L3389.5 1932.5" stroke-width="4.5"/>
<path d="M3382.4 1903.3L3403.4 1948.1L3384.3 1952.7Z" stroke-width="2" style="fill:#2c452e"/>
<g class="t" transform="matrix(3.1000 0 -0.8308 3.1000 3411.3 2114.1)" stroke-width="4"><use href="#g33" x="0"/></g>
<circle cx="4044.3" cy="2061" r="41.6" stroke-width="4.5"/>
<path d="M4057.8 2021.7L4088.7 1931.7" stroke-width="4.5"/>
<path d="M4098.4 1903.3L4091.9 1952.4L4073.4 1946Z" stroke-width="2" style="fill:#2c452e"/>
<g class="t" transform="matrix(3.1000 0 -0.8308 3.1000 4028.3 2087)" stroke-width="4"><use href="#g33" x="0"/></g>
<circle cx="4553.4" cy="1679.3" r="41.6" stroke-width="4.5"/>
<path d="M4523.7 1708.4L4457 1773.8" stroke-width="4.5"/>
<path d="M4435.6 1794.8L4463.4 1753.8L4477.1 1767.8Z" stroke-width="2" style="fill:#2c452e"/>
<g class="t" transform="matrix(3.1000 0 -0.8308 3.1000 4540 1705.3)" stroke-width="4"><use href="#g31" x="0"/></g>
<path d="M1154.5 3003.1A73 73 0 1 1 1230 3057.2L1190 3059.2" stroke-width="3"/>
<path d="M1158.4 3002.1A69 69 0 1 1 1230 3053.2L1190 3055.2" stroke-width="3"/>
<path d="M1162.2 3001A65 65 0 1 1 1230 3049.2L1190 3051.2" stroke-width="3"/>
<path d="M1190 3050.2L1173 3056.2L1160 3064.2L1153 3096.2" stroke-width="3.5"/>
<path d="M1167 3064.2L1159 3097.2L1153 3096.2" stroke-width="3.5"/>
<path d="M1230 3054.2L1190 3058.2Q1150 3076.2 1129 3109.2Q1103 3164.2 1119 3220.2Q1130 3259.2 1150 3282.2" stroke-width="9"/>
<path d="M1152 3254.2L1158 3251.2L1190 3300.2L1244 3322.2L1244 3326.2L1162 3326.2L1140 3314.2L1174 3306.2L1150 3260.2Z" stroke-width="4.5"/>
<circle cx="1141" cy="3276.2" r="3.5" stroke-width="3" style="fill:#2c452e"/>
<circle cx="1149" cy="3290.2" r="3.5" stroke-width="3" style="fill:#2c452e"/>
<path d="M1638.6 2982.8A73 73 0 0 1 1766.3 2934.6" stroke-width="3"/>
<path d="M1782.4 2998.8A73 73 0 0 1 1716.6 3055.8L1676.6 3057.8" stroke-width="3"/>
<path d="M1642.6 2982.8A69 69 0 0 1 1763.3 2937.3" stroke-width="3"/>
<path d="M1778.5 2998.8A69 69 0 0 1 1716.6 3051.8L1676.6 3053.8" stroke-width="3"/>
<path d="M1646.6 2982.8A65 65 0 0 1 1760.3 2939.9" stroke-width="3"/>
<path d="M1774.6 2998.8A65 65 0 0 1 1716.6 3047.8L1676.6 3049.8" stroke-width="3"/>
<path d="M1676.6 3048.8L1659.6 3054.8L1646.6 3062.8L1639.6 3094.8" stroke-width="3.5"/>
<path d="M1653.6 3062.8L1645.6 3095.8L1639.6 3094.8" stroke-width="3.5"/>
<path d="M1716.6 3052.8L1676.6 3056.8Q1636.6 3074.8 1615.6 3107.8Q1589.6 3162.8 1605.6 3218.8Q1616.6 3257.8 1636.6 3280.8" stroke-width="9"/>
<path d="M1638.6 3252.8L1644.6 3249.8L1676.6 3298.8L1730.6 3320.8L1730.6 3324.8L1648.6 3324.8L1626.6 3312.8L1660.6 3304.8L1636.6 3258.8Z" stroke-width="4.5"/>
<circle cx="1627.6" cy="3274.8" r="3.5" stroke-width="3" style="fill:#2c452e"/>
<circle cx="1635.6" cy="3288.8" r="3.5" stroke-width="3" style="fill:#2c452e"/>
<rect x="1130" y="2952.2" width="170" height="43.5" stroke-width="0" style="fill:#fff"/>
<rect x="1625" y="2952.2" width="170" height="43.5" stroke-width="0" style="fill:#fff"/>
<path d="M879.6 2950.2L1029.3 2950.2" stroke-width="4"/>
<path d="M958 2998.2L1029.3 2998.2" stroke-width="4"/>
<path d="M1094.9 2950.2L1116 2950.2" stroke-width="4"/>
<path d="M1144.5 2950.2L1521 2950.2" stroke-width="4"/>
<path d="M1566.4 2950.2L1596.6 2950.2" stroke-width="4"/>
<path d="M1621.1 2950.2L1810 2950.2" stroke-width="4"/>
<path d="M1094.9 2997.6L2055 2997.6" stroke-width="4"/>
<rect x="1029.3" y="2932.2" width="65.6" height="72" rx="9" stroke-width="4"/>
<rect x="1037.3" y="2939.4" width="52.8" height="57.6" rx="5" stroke-width="4"/>
<g transform="translate(1016 2950) rotate(-35)"><rect x="-11" y="-9" width="22" height="18" rx="2" stroke-width="3.5"/><path d="M-4 -9L-4 9M4 -9L4 9M-11 0L11 0" stroke-width="2.5"/><path d="M9 -14L22 -14" stroke-width="3.5"/></g>
<g transform="translate(1083 3016) rotate(-35)"><rect x="-11" y="-9" width="22" height="18" rx="2" stroke-width="3.5"/><path d="M-4 -9L-4 9M4 -9L4 9M-11 0L11 0" stroke-width="2.5"/><path d="M9 -14L22 -14" stroke-width="3.5"/></g>
<path d="M1021 2936L1033 2952M1078 3004L1098 3018" stroke-width="4"/>
<path d="M1116.1 2950L1116.1 2753Q1116.1 2745 1124 2745L1136 2745Q1144.2 2745 1144.2 2753L1144.2 2950" stroke-width="4"/>
<path d="M1116 2808L1144 2808" stroke-width="4"/>
<path d="M1116 2774L1108 2774L1108 2800L1116 2832M1144 2774L1152 2774L1152 2800L1144 2832" stroke-width="4"/>
<path d="M1112 2778L1112 2798M1148 2778L1148 2798" stroke-width="3"/>
<rect x="1020" y="2868" width="8" height="48" stroke-width="3.5"/>
<rect x="1026" y="2840" width="10" height="96" stroke-width="3.5"/>
<rect x="1039" y="2840" width="9" height="96" stroke-width="3.5"/>
<rect x="1084" y="2840" width="9" height="96" stroke-width="3.5"/>
<rect x="1095" y="2840" width="9" height="96" stroke-width="3.5"/>
<rect x="1104" y="2868" width="6" height="48" stroke-width="3.5"/>
<path d="M1048 2852Q1050 2846 1056 2846L1076 2846Q1082 2846 1084 2852" stroke-width="3.5"/>
<rect x="1055" y="2882" width="22" height="50" stroke-width="4"/>
<path d="M1048 2860L1084 2860" stroke-width="3"/>
<path d="M1048 2936L1084 2936" stroke-width="4"/>
<path d="M1144.2 2918.2L1560 2742.7" stroke-width="4"/>
<path d="M1190.2 2949L1566.4 2796.6" stroke-width="4"/>
<path d="M1560 2742.7L1713 2679.5A32 32 0 0 1 1757 2722L1721.6 2798.7L1620.3 2844" stroke-width="4"/>
<path d="M1560 2742.7L1579 2948" stroke-width="4"/>
<circle cx="1728" cy="2707.3" r="18" stroke-width="8"/>
<path d="M1596.6 2950L1596.6 2754Q1596.6 2745.7 1605 2745.7L1613 2745.7Q1621.1 2745.7 1621.1 2754L1621.1 2950" stroke-width="4"/>
<rect x="1502" y="2850" width="8" height="70" stroke-width="3.5"/>
<rect x="1513" y="2796" width="10" height="134" stroke-width="3.5"/>
<rect x="1526" y="2796" width="10" height="134" stroke-width="3.5"/>
<rect x="1552" y="2805" width="9" height="125" stroke-width="3.5"/>
<rect x="1564" y="2805" width="9" height="125" stroke-width="3.5"/>
<rect x="1574" y="2850" width="6" height="70" stroke-width="3.5"/>
<path d="M1536 2812Q1544 2800 1552 2812" stroke-width="3.5"/>
<rect x="1536" y="2860" width="16" height="60" stroke-width="3.5"/>
<path d="M1523 2880L1552 2880" stroke-width="3"/>
<rect x="1521" y="2930" width="45.4" height="67" stroke-width="4"/>
<path d="M1665.5 2831L1704.3 2869.8" stroke-width="4"/>
<path d="M1728 2794.4L1790.5 2856.9" stroke-width="4"/>
<path d="M1790.5 2856.9L1810 2859" stroke-width="4"/>
<g transform="translate(1722 2880) rotate(-24)"><rect x="-30" y="-18" width="60" height="36" stroke-width="4"/><path d="M-30 0L10 0M10 -18L10 18" stroke-width="3.5"/><circle cx="-8" cy="-9" r="4.5" stroke-width="3.5"/><circle cx="-8" cy="9" r="4.5" stroke-width="3.5"/></g>
<path d="M1756 2885L1810 2900" stroke-width="4"/>
<rect x="1810" y="2891.4" width="45.2" height="106" stroke-width="4"/>
<path d="M1810 2925.9L1855 2925.9" stroke-width="4"/>
<path d="M1806 2800Q1811 2812 1811 2830L1811 2891M1858 2800Q1853 2812 1853 2830L1853 2891" stroke-width="5"/>
<rect x="1798.3" y="2842" width="11.6" height="49.5" stroke-width="3.5"/>
<rect x="1855.2" y="2842" width="10.8" height="49.5" stroke-width="3.5"/>
<path d="M1821.6 2885L1821.6 2841Q1821.6 2835 1828 2835L1839 2835Q1845.7 2835 1845.7 2841L1845.7 2885Z" stroke-width="4"/>
<path d="M1821.6 2848L1845.7 2848" stroke-width="3.5"/>
<path d="M1866 2913L1866 2889M1872 2851A26.7 26.7 0 0 1 1909 2865.5L1971.6 2923.7L1971.6 2997" stroke-width="4"/>
<path d="M1866 2913L1898 2891.4" stroke-width="4"/>
<circle cx="1883.2" cy="2875" r="9.5" stroke-width="4.5"/>
<path d="M1866 2997L1866 2925.9L1904 2925.9Q1909 2925.9 1909 2931L1909 2997" stroke-width="4"/>
<path d="M1855 2925.9L1866 2925.9" stroke-width="4"/>
<path d="M1971.6 2925.9L2081.5 2925.9" stroke-width="4"/>
<path d="M2081.5 2915Q2080 2965 2052.6 3020" stroke-width="2.5"/>
<path d="M2052 3108L2054 3112" stroke-width="2.5"/>
<path d="M1366.7 3003.1A73 73 0 1 1 1442.2 3057.2L1402.2 3059.2" stroke-width="3"/>
<path d="M1370.6 3002.1A69 69 0 1 1 1442.2 3053.2L1402.2 3055.2" stroke-width="3"/>
<path d="M1374.4 3001A65 65 0 1 1 1442.2 3049.2L1402.2 3051.2" stroke-width="3"/>
<path d="M1402.2 3050.2L1385.2 3056.2L1372.2 3064.2L1365.2 3096.2" stroke-width="3.5"/>
<path d="M1379.2 3064.2L1371.2 3097.2L1365.2 3096.2" stroke-width="3.5"/>
<path d="M1442.2 3054.2L1402.2 3058.2Q1362.2 3076.2 1341.2 3109.2Q1315.2 3164.2 1331.2 3220.2Q1342.2 3259.2 1362.2 3282.2" stroke-width="9"/>
<path d="M1364.2 3254.2L1370.2 3251.2L1402.2 3300.2L1456.2 3322.2L1456.2 3326.2L1374.2 3326.2L1352.2 3314.2L1386.2 3306.2L1362.2 3260.2Z" stroke-width="4.5"/>
<circle cx="1353.2" cy="3276.2" r="3.5" stroke-width="3" style="fill:#2c452e"/>
<circle cx="1361.2" cy="3290.2" r="3.5" stroke-width="3" style="fill:#2c452e"/>
<rect x="1167" y="2998" width="64" height="12" stroke-width="3.5"/>
<rect x="1173" y="3010" width="8" height="5" stroke-width="3"/>
<rect x="1215" y="3010" width="12" height="5" stroke-width="3"/>
<rect x="1379.2" y="2998" width="64" height="12" stroke-width="3.5"/>
<rect x="1385.2" y="3010" width="8" height="5" stroke-width="3"/>
<rect x="1427.2" y="3010" width="12" height="5" stroke-width="3"/>
<rect x="1653.6" y="2998" width="64" height="12" stroke-width="3.5"/>
<rect x="1659.6" y="3010" width="8" height="5" stroke-width="3"/>
<rect x="1701.6" y="3010" width="12" height="5" stroke-width="3"/>
<path d="M1385 3014L1392 2968Q1394 2962 1400 2962L1447 2967M1392 3014L1399 2975L1446 2975M1398 2992L1446 2992M1385 3014L1446 3014" stroke-width="3.5"/>
<rect x="1432" y="2956" width="9" height="60" stroke-width="3"/>
<rect x="1426" y="2966" width="22" height="5" stroke-width="3"/>
<path d="M1690 2942L1708 2982" stroke-width="3.5"/>
<circle cx="1757" cy="2959" r="5" stroke-width="4" style="fill:#2c452e"/>
<rect x="1683" y="2930" width="18" height="12" stroke-width="3"/>
<circle cx="1855.2" cy="3171.6" r="127.2" stroke-width="7"/>
<circle cx="1857" cy="3178" r="116.4" stroke-width="4.5"/>
<g transform="translate(1857.3 3180.2) rotate(-22.2)"><path d="M-23.5 0L-23.5 -178L23.5 -178L23.5 0A23.5 23.5 0 0 1 -23.5 0Z" stroke-width="4.5"/><path d="M-14 -4L-14 -170M14 -4L14 -170" stroke-width="3.5"/><path d="M-23.5 -130Q-40 -140 -48 -160M23.5 -150Q40 -150 58 -132" stroke-width="4"/></g>
<circle cx="1857.3" cy="3180.2" r="16" stroke-width="8"/>
<circle cx="1859" cy="3183" r="6" stroke-width="4" style="fill:#2c452e"/>
<path d="M1752 3050L1762 3082L1770 3094" stroke-width="7"/>
<rect x="842.7" y="2856.8" width="36.9" height="94" stroke-width="4"/>
<rect x="759.5" y="2911.6" width="20" height="55" stroke-width="4"/>
<path d="M803 2967L803 2918Q803 2902 817 2902Q831 2902 831 2918L831 2967" stroke-width="4"/>
<circle cx="817.1" cy="2916.2" r="5.5" stroke-width="4"/>
<path d="M779.5 2925L803 2925" stroke-width="3"/>
<path d="M779.5 2950L842 2950" stroke-width="3"/>
<path d="M831 2925L842.7 2925" stroke-width="3"/>
<path d="M831 2935L842.7 2935" stroke-width="3"/>
<path d="M790 2908L800 2905M790 2931L790 2908" stroke-width="3.5"/>
<rect x="728.7" y="2966.4" width="229.5" height="23.7" stroke-width="4"/>
<path d="M728.7 2990L728.7 3042.5L745 3042.5M754.9 2990L754.9 3030M776.5 2990L776.5 3030" stroke-width="4"/>
<path d="M935 2990L935 3030M958.2 2990L958.2 3030" stroke-width="4"/>
<path d="M776.5 2996L935 2996" stroke-width="3.5"/>
<path d="M776.5 3004L935 3004" stroke-width="3.5"/>
<path d="M805 2990L805 3004" stroke-width="3"/>
<path d="M843 2990L843 3004" stroke-width="3"/>
<path d="M880 2990L880 3004" stroke-width="3"/>
<path d="M790 3042.5L905 3042.5" stroke-width="4"/>
<path d="M800 3046L800 3042" stroke-width="3"/>
<ellipse cx="739" cy="2982" rx="3" ry="5.5" stroke-width="3"/>
<ellipse cx="750" cy="2980" rx="3" ry="5.5" stroke-width="3"/>
<path d="M758 2978L762 2971.5L770 2971.5L774 2978L770 2984.5L762 2984.5Z" stroke-width="3"/>
<path d="M937 2978L941 2971.5L949 2971.5L953 2978L949 2984.5L941 2984.5Z" stroke-width="3" style="fill:#2c452e"/>
<rect x="696.4" y="2951.6" width="32.3" height="43" stroke-width="4"/>
<circle cx="711.8" cy="2973" r="9.5" stroke-width="3.5"/>
<circle cx="711.8" cy="2973" r="4.5" stroke-width="3"/>
<path d="M711.8 2982L711.8 2990" stroke-width="5"/>
<circle cx="761.1" cy="3057" r="25" stroke-width="14"/>
<path d="M753.1 3049L769.1 3065M758.1 3045L774.1 3061" stroke-width="3"/>
<path d="M777.1 3080L784.1 3084L657.3 3308.9L650.1 3305Z" stroke-width="3.5"/>
<circle cx="789.1" cy="3077" r="4" stroke-width="3" style="fill:#2c452e"/>
<circle cx="938.1" cy="3057" r="25" stroke-width="14"/>
<path d="M930.1 3049L946.1 3065M935.1 3045L951.1 3061" stroke-width="3"/>
<path d="M954.1 3080L961.1 3084L834.3 3308.9L827.1 3305Z" stroke-width="3.5"/>
<circle cx="966.1" cy="3077" r="4" stroke-width="3" style="fill:#2c452e"/>
<path d="M958 3002L962 3040L964 3060" stroke-width="4"/>
<path d="M641 2939L641 2928A16 16 0 0 1 671.7 2921L691.8 2997.8L654.8 3004Z" stroke-width="4"/>
<circle cx="656.9" cy="2924.8" r="7.7" stroke-width="4"/>
<rect x="630" y="2912" width="11" height="24" stroke-width="3.5"/>
<path d="M630 2924L641 2924" stroke-width="3"/>
<path d="M677 2936L682 2908M684.2 2936L689.2 2908M691.4 2936L696.4 2908M698.6 2936L703.6 2908M705.8 2936L710.8 2908M713 2936L718 2908M720.2 2936L725.2 2908M727.4 2936L732.4 2908M734.6 2936L739.6 2908M741.8 2936L746.8 2908M749 2936L754 2908M756.2 2936L761.2 2908" stroke-width="4.5"/>
<path d="M676 2908L760 2906M682 2937L758 2934" stroke-width="3"/>
<path d="M691 2960L728 2954M660 3004L728 2996" stroke-width="3.5"/>
<path d="M641 2958L627.1 2962.4L588.6 3054.8L567 3094.8L510 3256.5L517.8 3265.8L564 3287.3L579.3 3279.6L636.3 3119.5L637.9 3070.2L662.5 3005.5" stroke-width="4"/>
<path d="M588.6 3059.4L640.9 3074.8M590 3054L642 3069" stroke-width="3"/>
<g transform="translate(588 3057) rotate(17)"><rect x="-8" y="-4" width="16" height="8" stroke-width="3"/></g>
<g transform="translate(640 3072) rotate(17)"><rect x="-8" y="-4" width="16" height="8" stroke-width="3"/></g>
<circle cx="551" cy="3245.1" r="70" stroke-width="4.5"/>
<circle cx="553" cy="3245" r="51.6" stroke-width="4"/>
<path d="M502.5 3217.1L493 3211.6" stroke-width="7"/>
<path d="M541.3 3190L539.4 3179.1" stroke-width="7"/>
<path d="M574.7 3194.3L579.3 3184.4" stroke-width="7"/>
<path d="M599.5 3217.1L609 3211.6" stroke-width="7"/>
<path d="M606.1 3254.8L617 3256.7" stroke-width="7"/>
<path d="M593.9 3281.1L602.3 3288.2" stroke-width="7"/>
<path d="M495.9 3254.8L485 3256.7" stroke-width="7"/>
<path d="M500.2 3221.4L490.3 3216.8" stroke-width="7"/>
<path d="M543 3210L539 3216.9L531 3216.9L527 3210L531 3203.1L539 3203.1Z" stroke-width="3"/>
<path d="M593 3227L589 3233.9L581 3233.9L577 3227L581 3220.1L589 3220.1Z" stroke-width="3"/>
<path d="M524 3261L520 3267.9L512 3267.9L508 3261L512 3254.1L520 3254.1Z" stroke-width="3"/>
<path d="M574 3278L570 3284.9L562 3284.9L558 3278L562 3271.1L570 3271.1Z" stroke-width="3"/>
<path d="M540 3175L486 3186L491 3203L503 3188" stroke-width="4.5"/>
</svg>
</body></html>
